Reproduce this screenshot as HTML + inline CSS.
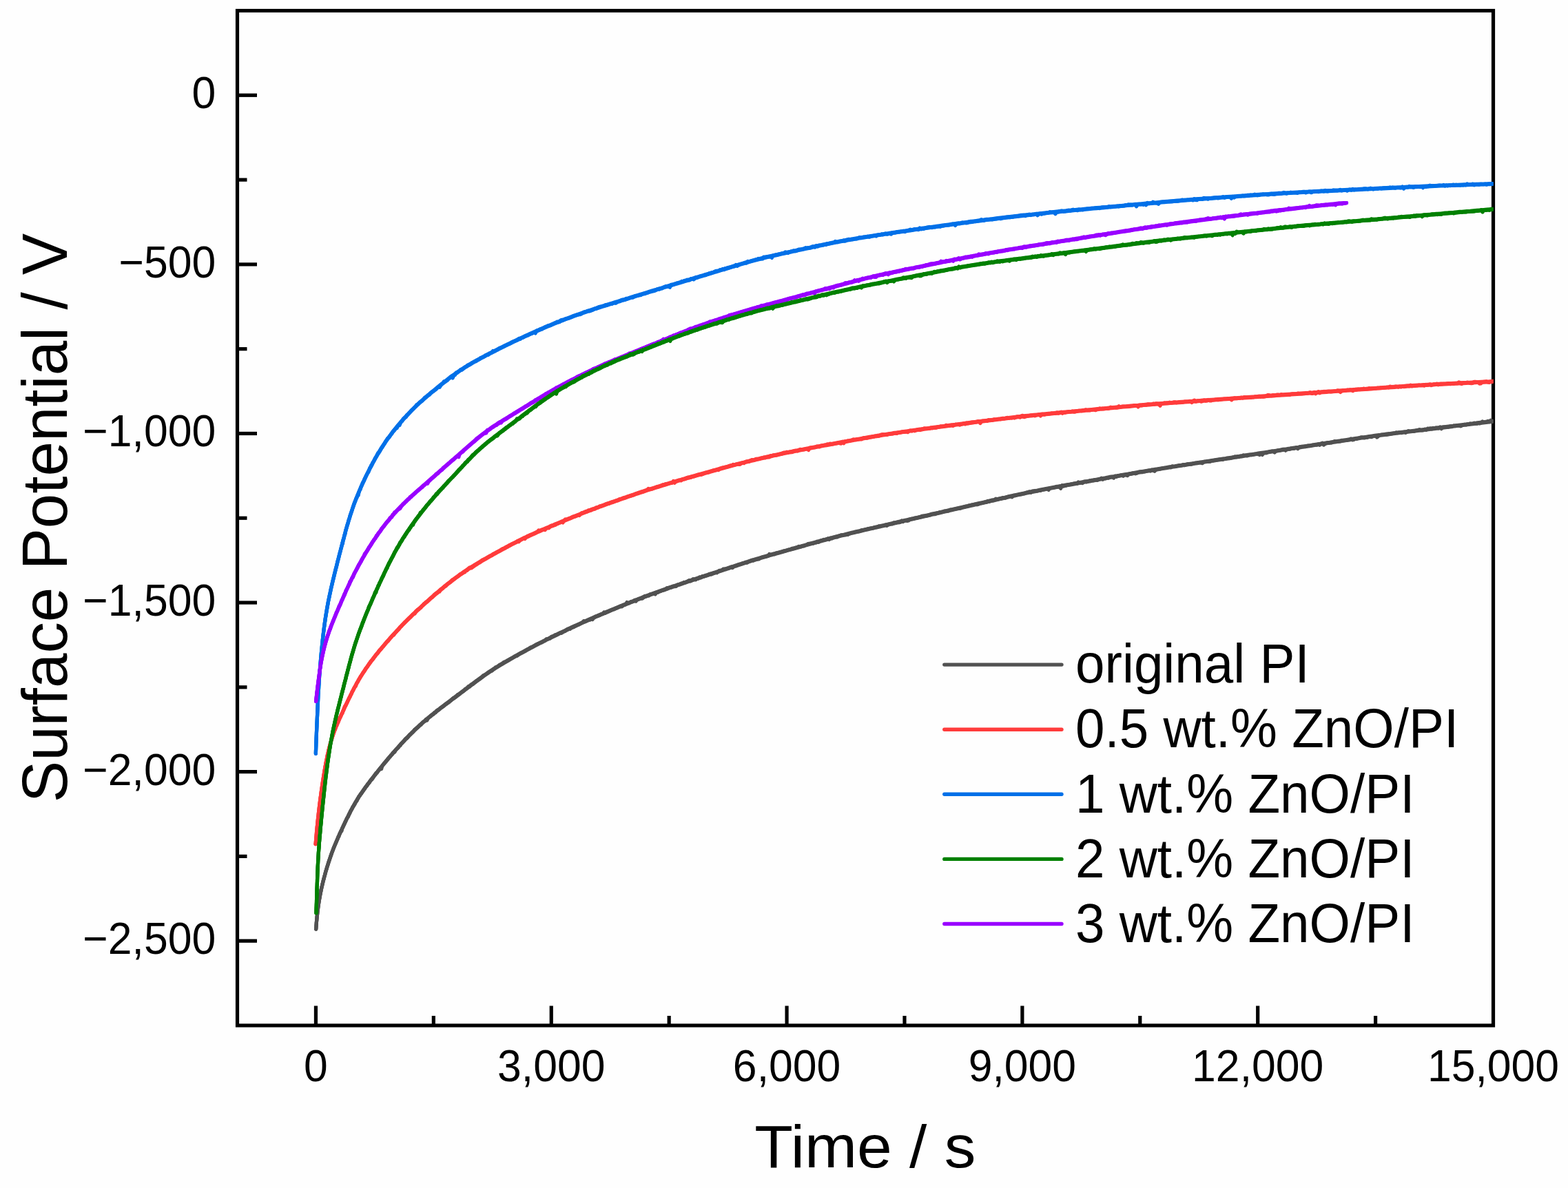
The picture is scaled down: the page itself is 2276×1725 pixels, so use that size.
<!DOCTYPE html>
<html lang="en"><head><meta charset="utf-8"><title>Surface potential decay</title>
<style>
html,body{margin:0;padding:0;background:#fefefe;}
body{width:2276px;height:1725px;overflow:hidden;}
svg{display:block;}
text{font-family:"Liberation Sans",Arial,Helvetica,sans-serif;fill:#000;}
.tk{font-size:62.5px;}
.ax{font-size:91.2px;}
.lg{font-size:76.4px;}
</style></head><body>
<svg xmlns="http://www.w3.org/2000/svg" width="2276" height="1725" viewBox="0 0 2276 1725">
<rect x="0" y="0" width="2276" height="1725" fill="#fefefe"/>
<g stroke="#000" stroke-width="5.2" fill="none" stroke-linecap="butt">
<rect x="344.5" y="15.5" width="1823.0" height="1473.5"/>
<line x1="458.44" y1="1489.0" x2="458.44" y2="1460.5"/>
<line x1="800.25" y1="1489.0" x2="800.25" y2="1460.5"/>
<line x1="1142.06" y1="1489.0" x2="1142.06" y2="1460.5"/>
<line x1="1483.88" y1="1489.0" x2="1483.88" y2="1460.5"/>
<line x1="1825.69" y1="1489.0" x2="1825.69" y2="1460.5"/>
<line x1="629.34" y1="1489.0" x2="629.34" y2="1475.0"/>
<line x1="971.16" y1="1489.0" x2="971.16" y2="1475.0"/>
<line x1="1312.97" y1="1489.0" x2="1312.97" y2="1475.0"/>
<line x1="1654.78" y1="1489.0" x2="1654.78" y2="1475.0"/>
<line x1="1996.59" y1="1489.0" x2="1996.59" y2="1475.0"/>
<line x1="344.5" y1="138.29" x2="373.0" y2="138.29"/>
<line x1="344.5" y1="383.88" x2="373.0" y2="383.88"/>
<line x1="344.5" y1="629.46" x2="373.0" y2="629.46"/>
<line x1="344.5" y1="875.04" x2="373.0" y2="875.04"/>
<line x1="344.5" y1="1120.62" x2="373.0" y2="1120.62"/>
<line x1="344.5" y1="1366.21" x2="373.0" y2="1366.21"/>
<line x1="344.5" y1="261.08" x2="358.5" y2="261.08"/>
<line x1="344.5" y1="506.67" x2="358.5" y2="506.67"/>
<line x1="344.5" y1="752.25" x2="358.5" y2="752.25"/>
<line x1="344.5" y1="997.83" x2="358.5" y2="997.83"/>
<line x1="344.5" y1="1243.42" x2="358.5" y2="1243.42"/>
</g>
<g class="tk">
<text transform="translate(313.2 157.19) scale(1 1.04)" text-anchor="end">0</text>
<text transform="translate(313.2 402.77) scale(1 1.04)" text-anchor="end">−500</text>
<text transform="translate(313.2 648.36) scale(1 1.04)" text-anchor="end">−1,000</text>
<text transform="translate(313.2 893.94) scale(1 1.04)" text-anchor="end">−1,500</text>
<text transform="translate(313.2 1139.53) scale(1 1.04)" text-anchor="end">−2,000</text>
<text transform="translate(313.2 1385.11) scale(1 1.04)" text-anchor="end">−2,500</text>
<text transform="translate(458.44 1570.2) scale(1 1.04)" text-anchor="middle">0</text>
<text transform="translate(800.25 1570.2) scale(1 1.04)" text-anchor="middle">3,000</text>
<text transform="translate(1142.06 1570.2) scale(1 1.04)" text-anchor="middle">6,000</text>
<text transform="translate(1483.88 1570.2) scale(1 1.04)" text-anchor="middle">9,000</text>
<text transform="translate(1825.69 1570.2) scale(1 1.04)" text-anchor="middle">12,000</text>
<text transform="translate(2167.50 1570.2) scale(1 1.04)" text-anchor="middle">15,000</text>
</g>
<text class="ax" transform="translate(96.8 752.0) rotate(-90) scale(0.9945 1.025)" text-anchor="middle">Surface Potential / V</text>
<text class="ax" transform="translate(1255.8 1694.5) scale(1 0.9467)" text-anchor="middle">Time / s</text>
<defs><clipPath id="plot"><rect x="344.5" y="15.5" width="1823.0" height="1473.5"/></clipPath></defs>
<g clip-path="url(#plot)" fill="none" stroke-width="5.2" stroke-linejoin="round" stroke-linecap="round">
<g stroke="#515151">
<path d="M458.7,1349.2 L459.0,1344.3 L459.3,1339.9 L459.7,1335.6 L460.1,1331.3 L460.6,1327.0 L461.0,1322.8 L461.6,1318.6 L462.1,1314.4 L462.7,1310.4 L463.4,1306.3 L464.1,1302.3 L464.8,1298.3 L465.6,1294.4 L466.4,1290.5 L467.3,1286.6 L468.2,1282.8 L469.1,1279.0 L470.1,1275.3 L471.1,1271.6 L472.1,1267.9 L473.1,1264.2 L474.2,1260.5 L475.3,1256.9 L476.4,1253.3 L477.6,1249.8 L478.8,1246.2 L480.0,1242.7 L481.2,1239.3 L482.5,1235.8 L483.8,1232.4 L485.1,1229.0 L486.5,1225.7 L487.9,1222.3 L489.3,1219.0 L490.7,1215.8 L492.1,1212.5 L493.6,1209.2 L495.1,1206.0 L496.6,1202.8 L498.1,1199.6 L499.6,1196.4 L501.1,1193.2 L502.6,1190.0 L504.2,1186.8 L505.8,1183.7 L507.3,1180.5 L508.9,1177.4 L510.6,1174.3 L512.2,1171.3 L513.9,1168.3 L515.6,1165.3 L517.4,1162.3 L519.2,1159.4 L521.0,1156.5 L522.9,1153.7 L524.8,1150.9 L526.8,1148.1 L528.7,1145.3 L530.7,1142.6 L532.7,1139.9 L534.7,1137.2 L536.7,1134.5 L538.8,1131.8 L540.8,1129.2 L542.9,1126.5 L545.0,1123.9 L547.1,1121.3 L549.2,1118.6 L551.3,1116.0 L553.4,1113.4 L555.5,1110.8 L557.6,1108.2 L559.7,1105.7 L561.9,1103.1 L564.0,1100.5 L566.2,1098.0 L568.4,1095.4 L570.5,1092.9 L572.7,1090.4 L574.9,1087.9 L577.2,1085.4 L579.4,1082.9 L581.6,1080.4 L583.9,1078.0 L586.2,1075.5 L588.5,1073.1 L590.8,1070.7 L593.1,1068.3 L595.5,1066.0 L597.8,1063.6 L600.2,1061.3 L602.6,1059.0 L605.0,1056.7 L607.5,1054.4 L610.0,1052.2 L612.4,1049.9 L615.0,1047.7 L617.5,1045.6 L620.0,1043.4 L622.6,1041.2 L625.2,1039.1 L627.8,1037.0 L630.4,1034.9 L633.0,1032.8 L635.7,1030.7 L638.3,1028.7 L641.0,1026.6 L643.7,1024.6 L646.3,1022.6 L649.0,1020.5 L651.7,1018.5 L654.4,1016.5 L657.1,1014.4 L659.8,1012.4 L662.5,1010.4 L665.2,1008.4 L667.9,1006.4 L670.5,1004.3 L673.2,1002.3 L675.9,1000.3 L678.6,998.3 L681.3,996.3 L684.0,994.2 L686.7,992.2 L689.4,990.2 L692.1,988.2 L694.8,986.2 L697.5,984.2 L700.3,982.2 L703.0,980.2 L705.8,978.3 L708.6,976.4 L711.4,974.5 L714.2,972.6 L717.1,970.7 L720.0,968.9 L722.9,967.1 L725.8,965.3 L728.8,963.6 L731.7,961.8 L734.7,960.1 L737.7,958.3 L740.7,956.6 L743.7,954.9 L746.7,953.2 L749.7,951.5 L752.7,949.8 L755.8,948.1 L758.8,946.5 L761.9,944.8 L764.9,943.1 L768.0,941.5 L771.0,939.8 L774.1,938.2 L777.2,936.6 L780.3,935.0 L783.4,933.4 L786.6,931.8 L789.7,930.2 L792.8,928.6 L796.0,927.1 L799.1,925.5 L802.3,923.9 L805.5,922.4 L808.6,920.9 L811.8,919.3 L815.0,917.8 L818.2,916.3 L821.4,914.8 L824.6,913.2 L827.8,911.7 L831.0,910.2 L834.2,908.7 L837.5,907.3 L840.7,905.8 L843.9,904.3 L847.2,902.8 L850.4,901.4 L853.7,899.9 L856.9,898.5 L860.2,897.0 L863.5,895.6 L866.8,894.1 L870.1,892.7 L873.4,891.3 L876.7,889.9 L880.0,888.5 L883.3,887.1 L886.6,885.7 L890.0,884.3 L893.3,882.9 L896.6,881.6 L900.0,880.2 L903.3,878.8 L906.7,877.5 L910.0,876.1 L913.4,874.8 L916.8,873.4 L920.1,872.1 L923.5,870.8 L926.9,869.4 L930.3,868.1 L933.7,866.8 L937.1,865.5 L940.6,864.2 L944.0,863.0 L947.5,861.7 L950.9,860.4 L954.4,859.2 L957.8,857.9 L961.3,856.7 L964.8,855.5 L968.3,854.3 L971.8,853.0 L975.3,851.8 L978.8,850.6 L982.3,849.4 L985.9,848.3 L989.4,847.1 L992.9,845.9 L996.5,844.7 L1000.0,843.5 L1003.5,842.3 L1007.1,841.2 L1010.6,840.0 L1014.2,838.8 L1017.7,837.7 L1021.2,836.5 L1024.8,835.3 L1028.3,834.1 L1031.9,833.0 L1035.4,831.8 L1038.9,830.6 L1042.5,829.4 L1046.0,828.3 L1049.6,827.1 L1053.1,825.9 L1056.6,824.7 L1060.2,823.6 L1063.7,822.4 L1067.3,821.2 L1070.8,820.1 L1074.4,818.9 L1077.9,817.8 L1081.5,816.6 L1085.1,815.5 L1088.7,814.3 L1092.3,813.2 L1095.9,812.1 L1099.5,811.0 L1103.1,809.9 L1106.7,808.8 L1110.4,807.8 L1114.0,806.7 L1117.7,805.6 L1121.4,804.6 L1125.0,803.6 L1128.7,802.5 L1132.4,801.5 L1136.1,800.5 L1139.8,799.4 L1143.4,798.4 L1147.1,797.4 L1150.8,796.3 L1154.5,795.3 L1158.2,794.3 L1161.9,793.3 L1165.5,792.2 L1169.2,791.2 L1172.9,790.2 L1176.6,789.1 L1180.3,788.1 L1184.0,787.1 L1187.7,786.1 L1191.4,785.0 L1195.1,784.0 L1198.8,783.0 L1202.5,782.0 L1206.2,781.0 L1209.9,780.0 L1213.6,779.0 L1217.4,778.1 L1221.1,777.1 L1224.9,776.2 L1228.7,775.2 L1232.5,774.3 L1236.3,773.4 L1240.1,772.5 L1243.9,771.6 L1247.7,770.7 L1251.5,769.8 L1255.4,768.9 L1259.2,768.0 L1263.0,767.1 L1266.9,766.3 L1270.7,765.4 L1274.5,764.5 L1278.3,763.6 L1282.2,762.7 L1286.0,761.8 L1289.8,761.0 L1293.7,760.1 L1297.5,759.2 L1301.3,758.3 L1305.2,757.4 L1309.0,756.5 L1312.8,755.6 L1316.6,754.8 L1320.5,753.9 L1324.3,753.0 L1328.1,752.1 L1332.0,751.2 L1335.8,750.3 L1339.6,749.5 L1343.5,748.6 L1347.3,747.7 L1351.1,746.8 L1354.9,745.9 L1358.8,745.0 L1362.6,744.2 L1366.4,743.3 L1370.3,742.4 L1374.1,741.5 L1377.9,740.6 L1381.8,739.7 L1385.6,738.9 L1389.4,738.0 L1393.3,737.1 L1397.1,736.2 L1400.9,735.3 L1404.8,734.5 L1408.6,733.6 L1412.4,732.7 L1416.3,731.8 L1420.1,730.9 L1423.9,730.1 L1427.8,729.2 L1431.6,728.3 L1435.4,727.4 L1439.3,726.5 L1443.1,725.7 L1447.0,724.8 L1450.8,723.9 L1454.6,723.0 L1458.5,722.2 L1462.3,721.3 L1466.2,720.4 L1470.0,719.6 L1473.9,718.7 L1477.8,717.9 L1481.6,717.0 L1485.5,716.2 L1489.4,715.4 L1493.3,714.6 L1497.2,713.8 L1501.1,713.0 L1505.0,712.2 L1509.0,711.4 L1512.9,710.6 L1516.9,709.8 L1520.8,709.1 L1524.8,708.3 L1528.7,707.6 L1532.7,706.8 L1536.7,706.1 L1540.7,705.4 L1544.7,704.6 L1548.6,703.9 L1552.6,703.2 L1556.6,702.5 L1560.6,701.8 L1564.6,701.0 L1568.6,700.3 L1572.6,699.6 L1576.6,698.9 L1580.6,698.2 L1584.6,697.4 L1588.6,696.7 L1592.6,696.0 L1596.6,695.3 L1600.6,694.6 L1604.6,693.9 L1608.6,693.1 L1612.6,692.4 L1616.6,691.7 L1620.6,691.0 L1624.6,690.3 L1628.6,689.6 L1632.6,688.9 L1636.6,688.2 L1640.6,687.5 L1644.7,686.8 L1648.7,686.1 L1652.7,685.4 L1656.7,684.7 L1660.8,684.0 L1664.8,683.4 L1668.8,682.7 L1672.9,682.0 L1676.9,681.3 L1681.0,680.7 L1685.0,680.0 L1689.1,679.4 L1693.1,678.7 L1697.2,678.1 L1701.3,677.4 L1705.4,676.8 L1709.4,676.1 L1713.5,675.5 L1717.6,674.9 L1721.7,674.2 L1725.8,673.6 L1729.8,673.0 L1733.9,672.4 L1738.0,671.7 L1742.1,671.1 L1746.2,670.5 L1750.3,669.9 L1754.4,669.2 L1758.5,668.6 L1762.5,668.0 L1766.6,667.3 L1770.7,666.7 L1774.8,666.1 L1778.9,665.5 L1783.0,664.8 L1787.1,664.2 L1791.2,663.6 L1795.2,663.0 L1799.3,662.3 L1803.4,661.7 L1807.5,661.1 L1811.6,660.4 L1815.7,659.8 L1819.8,659.2 L1823.9,658.6 L1827.9,657.9 L1832.0,657.3 L1836.1,656.7 L1840.2,656.1 L1844.3,655.4 L1848.4,654.8 L1852.5,654.2 L1856.5,653.6 L1860.6,652.9 L1864.7,652.3 L1868.8,651.7 L1872.9,651.0 L1877.0,650.4 L1881.1,649.8 L1885.2,649.2 L1889.2,648.5 L1893.3,647.9 L1897.4,647.3 L1901.5,646.7 L1905.6,646.0 L1909.7,645.4 L1913.8,644.8 L1917.9,644.1 L1921.9,643.5 L1926.0,642.9 L1930.1,642.3 L1934.2,641.6 L1938.3,641.0 L1942.4,640.4 L1946.5,639.8 L1950.6,639.1 L1954.6,638.5 L1958.7,637.9 L1962.8,637.3 L1966.9,636.6 L1971.0,636.0 L1975.1,635.4 L1979.2,634.8 L1983.3,634.2 L1987.4,633.6 L1991.5,633.0 L1995.7,632.4 L1999.8,631.8 L2004.0,631.3 L2008.2,630.7 L2012.3,630.2 L2016.5,629.7 L2020.7,629.1 L2024.9,628.6 L2029.1,628.1 L2033.3,627.6 L2037.5,627.1 L2041.7,626.6 L2045.9,626.1 L2050.1,625.5 L2054.3,625.0 L2058.5,624.5 L2062.7,624.0 L2066.9,623.5 L2071.1,623.0 L2075.3,622.5 L2079.5,621.9 L2083.7,621.4 L2087.9,620.9 L2092.1,620.4 L2096.3,619.9 L2100.5,619.4 L2104.7,618.9 L2108.9,618.4 L2113.1,617.8 L2117.3,617.3 L2121.5,616.8 L2125.7,616.3 L2129.9,615.8 L2134.1,615.3 L2138.3,614.8 L2142.5,614.2 L2146.7,613.7 L2150.9,613.2 L2155.1,612.7 L2159.3,612.2 L2163.5,611.7 L2167.7,611.2 L2173.7,610.4"/>
<path d="M458.7,1349.2 L459.0,1345.2 L459.3,1340.8 L459.7,1336.5 L460.1,1332.2 L460.6,1327.9 L461.0,1323.7 L461.6,1319.5 L462.1,1315.3 L462.7,1311.3 L463.4,1307.2 L464.1,1303.2 L464.8,1299.2 L465.6,1295.3 L466.4,1291.4 L467.3,1287.5 L468.2,1283.7 L469.1,1279.9 L470.1,1276.2 L471.1,1272.5 L472.1,1268.8 L473.1,1265.1 L474.2,1261.4 L475.3,1257.8 L476.4,1254.2 L477.6,1250.7 L478.8,1247.1 L480.0,1243.6 L481.2,1240.2 L482.5,1236.7 L483.8,1233.3 L485.1,1229.9 L486.5,1226.6 L487.9,1223.2 L489.3,1219.9 L490.7,1216.7 L492.1,1213.4 L493.6,1210.1 L495.1,1206.9 L496.6,1203.7 L498.1,1200.5 L499.6,1197.3 L501.1,1194.1 L502.6,1190.9 L504.2,1187.7 L505.8,1184.6 L507.3,1181.4 L508.9,1178.3 L510.6,1175.2 L512.2,1172.2 L513.9,1169.2 L515.6,1166.2 L517.4,1163.2 L519.2,1160.3 L521.0,1157.4 L522.9,1154.6 L524.8,1151.8 L526.8,1149.0 L528.7,1146.2 L530.7,1143.5 L532.7,1140.8 L534.7,1138.1 L536.7,1135.4 L538.8,1132.7 L540.8,1130.1 L542.9,1127.4 L545.0,1124.8 L547.1,1122.2 L549.2,1119.5 L551.3,1116.9 L553.4,1114.3 L555.5,1111.7 L557.6,1109.1 L559.7,1106.6 L561.9,1104.0 L564.0,1101.4 L566.2,1098.9 L568.4,1096.3 L570.5,1093.8 L572.7,1091.3 L574.9,1088.8 L577.2,1086.3 L579.4,1083.8 L581.6,1081.3 L583.9,1078.9 L586.2,1076.4 L588.5,1074.0 L590.8,1071.6 L593.1,1069.2 L595.5,1066.9 L597.8,1064.5 L600.2,1062.2 L602.6,1059.9 L605.0,1057.6 L607.5,1055.3 L610.0,1053.1 L612.4,1050.8 L615.0,1048.6 L617.5,1046.5 L620.0,1044.3 L622.6,1042.1 L625.2,1040.0 L627.8,1037.9 L630.4,1035.8 L633.0,1033.7 L635.7,1031.6 L638.3,1029.6 L641.0,1027.5 L643.7,1025.5 L646.3,1023.5 L649.0,1021.4 L651.7,1019.4 L654.4,1017.4 L657.1,1015.3 L659.8,1013.3 L662.5,1011.3 L665.2,1009.3 L667.9,1007.3 L670.5,1005.2 L673.2,1003.2 L675.9,1001.2 L678.6,999.2 L681.3,997.2 L684.0,995.1 L686.7,993.1 L689.4,991.1 L692.1,989.1 L694.8,987.1 L697.5,985.1 L700.3,983.1 L703.0,981.1 L705.8,979.2 L708.6,977.3 L711.4,975.4 L714.2,973.5 L717.1,971.6 L720.0,969.8 L722.9,968.0 L725.8,966.2 L728.8,964.5 L731.7,962.7 L734.7,961.0 L737.7,959.2 L740.7,957.5 L743.7,955.8 L746.7,954.1 L749.7,952.4 L752.7,950.7 L755.8,949.0 L758.8,947.4 L761.9,945.7 L764.9,944.0 L768.0,942.4 L771.0,940.7 L774.1,939.1 L777.2,937.5 L780.3,935.9 L783.4,934.3 L786.6,932.7 L789.7,931.1 L792.8,929.5 L796.0,928.0 L799.1,926.4 L802.3,924.8 L805.5,923.3 L808.6,921.8 L811.8,920.2 L815.0,918.7 L818.2,917.2 L821.4,915.7 L824.6,914.1 L827.8,912.6 L831.0,911.1 L834.2,909.6 L837.5,908.2 L840.7,906.7 L843.9,905.2 L847.2,903.7 L850.4,902.3 L853.7,900.8 L856.9,899.4 L860.2,897.9 L863.5,896.5 L866.8,895.0 L870.1,893.6 L873.4,892.2 L876.7,890.8 L880.0,889.4 L883.3,888.0 L886.6,886.6 L890.0,885.2 L893.3,883.8 L896.6,882.5 L900.0,881.1 L903.3,879.7 L906.7,878.4 L910.0,877.0 L913.4,875.7 L916.8,874.3 L920.1,873.0 L923.5,871.7 L926.9,870.3 L930.3,869.0 L933.7,867.7 L937.1,866.4 L940.6,865.1 L944.0,863.9 L947.5,862.6 L950.9,861.3 L954.4,860.1 L957.8,858.8 L961.3,857.6 L964.8,856.4 L968.3,855.2 L971.8,853.9 L975.3,852.7 L978.8,851.5 L982.3,850.3 L985.9,849.2 L989.4,848.0 L992.9,846.8 L996.5,845.6 L1000.0,844.4 L1003.5,843.2 L1007.1,842.1 L1010.6,840.9 L1014.2,839.7 L1017.7,838.6 L1021.2,837.4 L1024.8,836.2 L1028.3,835.0 L1031.9,833.9 L1035.4,832.7 L1038.9,831.5 L1042.5,830.3 L1046.0,829.2 L1049.6,828.0 L1053.1,826.8 L1056.6,825.6 L1060.2,824.5 L1063.7,823.3 L1067.3,822.1 L1070.8,821.0 L1074.4,819.8 L1077.9,818.7 L1081.5,817.5 L1085.1,816.4 L1088.7,815.2 L1092.3,814.1 L1095.9,813.0 L1099.5,811.9 L1103.1,810.8 L1106.7,809.7 L1110.4,808.7 L1114.0,807.6 L1117.7,806.5 L1121.4,805.5 L1125.0,804.5 L1128.7,803.4 L1132.4,802.4 L1136.1,801.4 L1139.8,800.3 L1143.4,799.3 L1147.1,798.3 L1150.8,797.2 L1154.5,796.2 L1158.2,795.2 L1161.9,794.2 L1165.5,793.1 L1169.2,792.1 L1172.9,791.1 L1176.6,790.0 L1180.3,789.0 L1184.0,788.0 L1187.7,787.0 L1191.4,785.9 L1195.1,784.9 L1198.8,783.9 L1202.5,782.9 L1206.2,781.9 L1209.9,780.9 L1213.6,779.9 L1217.4,779.0 L1221.1,778.0 L1224.9,777.1 L1228.7,776.1 L1232.5,775.2 L1236.3,774.3 L1240.1,773.4 L1243.9,772.5 L1247.7,771.6 L1251.5,770.7 L1255.4,769.8 L1259.2,768.9 L1263.0,768.0 L1266.9,767.2 L1270.7,766.3 L1274.5,765.4 L1278.3,764.5 L1282.2,763.6 L1286.0,762.7 L1289.8,761.9 L1293.7,761.0 L1297.5,760.1 L1301.3,759.2 L1305.2,758.3 L1309.0,757.4 L1312.8,756.5 L1316.6,755.7 L1320.5,754.8 L1324.3,753.9 L1328.1,753.0 L1332.0,752.1 L1335.8,751.2 L1339.6,750.4 L1343.5,749.5 L1347.3,748.6 L1351.1,747.7 L1354.9,746.8 L1358.8,745.9 L1362.6,745.1 L1366.4,744.2 L1370.3,743.3 L1374.1,742.4 L1377.9,741.5 L1381.8,740.6 L1385.6,739.8 L1389.4,738.9 L1393.3,738.0 L1397.1,737.1 L1400.9,736.2 L1404.8,735.4 L1408.6,734.5 L1412.4,733.6 L1416.3,732.7 L1420.1,731.8 L1423.9,731.0 L1427.8,730.1 L1431.6,729.2 L1435.4,728.3 L1439.3,727.4 L1443.1,726.6 L1447.0,725.7 L1450.8,724.8 L1454.6,723.9 L1458.5,723.1 L1462.3,722.2 L1466.2,721.3 L1470.0,720.5 L1473.9,719.6 L1477.8,718.8 L1481.6,717.9 L1485.5,717.1 L1489.4,716.3 L1493.3,715.5 L1497.2,714.7 L1501.1,713.9 L1505.0,713.1 L1509.0,712.3 L1512.9,711.5 L1516.9,710.7 L1520.8,710.0 L1524.8,709.2 L1528.7,708.5 L1532.7,707.7 L1536.7,707.0 L1540.7,706.3 L1544.7,705.5 L1548.6,704.8 L1552.6,704.1 L1556.6,703.4 L1560.6,702.7 L1564.6,701.9 L1568.6,701.2 L1572.6,700.5 L1576.6,699.8 L1580.6,699.1 L1584.6,698.3 L1588.6,697.6 L1592.6,696.9 L1596.6,696.2 L1600.6,695.5 L1604.6,694.8 L1608.6,694.0 L1612.6,693.3 L1616.6,692.6 L1620.6,691.9 L1624.6,691.2 L1628.6,690.5 L1632.6,689.8 L1636.6,689.1 L1640.6,688.4 L1644.7,687.7 L1648.7,687.0 L1652.7,686.3 L1656.7,685.6 L1660.8,684.9 L1664.8,684.3 L1668.8,683.6 L1672.9,682.9 L1676.9,682.2 L1681.0,681.6 L1685.0,680.9 L1689.1,680.3 L1693.1,679.6 L1697.2,679.0 L1701.3,678.3 L1705.4,677.7 L1709.4,677.0 L1713.5,676.4 L1717.6,675.8 L1721.7,675.1 L1725.8,674.5 L1729.8,673.9 L1733.9,673.3 L1738.0,672.6 L1742.1,672.0 L1746.2,671.4 L1750.3,670.8 L1754.4,670.1 L1758.5,669.5 L1762.5,668.9 L1766.6,668.2 L1770.7,667.6 L1774.8,667.0 L1778.9,666.4 L1783.0,665.7 L1787.1,665.1 L1791.2,664.5 L1795.2,663.9 L1799.3,663.2 L1803.4,662.6 L1807.5,662.0 L1811.6,661.3 L1815.7,660.7 L1819.8,660.1 L1823.9,659.5 L1827.9,658.8 L1832.0,658.2 L1836.1,657.6 L1840.2,657.0 L1844.3,656.3 L1848.4,655.7 L1852.5,655.1 L1856.5,654.5 L1860.6,653.8 L1864.7,653.2 L1868.8,652.6 L1872.9,651.9 L1877.0,651.3 L1881.1,650.7 L1885.2,650.1 L1889.2,649.4 L1893.3,648.8 L1897.4,648.2 L1901.5,647.6 L1905.6,646.9 L1909.7,646.3 L1913.8,645.7 L1917.9,645.0 L1921.9,644.4 L1926.0,643.8 L1930.1,643.2 L1934.2,642.5 L1938.3,641.9 L1942.4,641.3 L1946.5,640.7 L1950.6,640.0 L1954.6,639.4 L1958.7,638.8 L1962.8,638.2 L1966.9,637.5 L1971.0,636.9 L1975.1,636.3 L1979.2,635.7 L1983.3,635.1 L1987.4,634.5 L1991.5,633.9 L1995.7,633.3 L1999.8,632.7 L2004.0,632.2 L2008.2,631.6 L2012.3,631.1 L2016.5,630.6 L2020.7,630.0 L2024.9,629.5 L2029.1,629.0 L2033.3,628.5 L2037.5,628.0 L2041.7,627.5 L2045.9,627.0 L2050.1,626.4 L2054.3,625.9 L2058.5,625.4 L2062.7,624.9 L2066.9,624.4 L2071.1,623.9 L2075.3,623.4 L2079.5,622.8 L2083.7,622.3 L2087.9,621.8 L2092.1,621.3 L2096.3,620.8 L2100.5,620.3 L2104.7,619.8 L2108.9,619.3 L2113.1,618.7 L2117.3,618.2 L2121.5,617.7 L2125.7,617.2 L2129.9,616.7 L2134.1,616.2 L2138.3,615.7 L2142.5,615.1 L2146.7,614.6 L2150.9,614.1 L2155.1,613.6 L2159.3,613.1 L2163.5,612.6 L2167.7,612.1 L2173.7,611.3"/>
<path d="M458.7,1349.2 L458.8,1347.2 L459.0,1345.2 L459.1,1343.2 L459.3,1341.2 L459.4,1339.2 L459.6,1337.2 L459.8,1335.2 L460.0,1333.2 L460.1,1331.2 L460.4,1329.2 L460.6,1327.2 L460.8,1325.3 L461.0,1323.3 L461.3,1321.2 L461.5,1319.2 L461.8,1317.3 L462.1,1315.3 L462.4,1313.4 L462.7,1311.4 L463.0,1309.4 L463.3,1307.3 L463.6,1305.4 L464.0,1303.4 L464.3,1301.5 L464.7,1299.5 L465.1,1297.6 L465.5,1295.6 L465.9,1293.7 L466.3,1291.6 L466.7,1289.8 L467.1,1287.8 L467.6,1286.0 L468.0,1283.6 L468.5,1282.0 L469.0,1279.8 L469.5,1277.9 L470.0,1276.0 L470.5,1273.9 L471.0,1272.0 L471.6,1270.2 L472.1,1268.2 L472.6,1266.0 L473.2,1264.3 L473.8,1262.5 L474.3,1260.6 L474.9,1258.5 L475.5,1256.8 L476.1,1255.6 L476.7,1253.2 L477.3,1250.8 L478.0,1249.2 L478.6,1247.1 L479.2,1245.6 L479.9,1243.2 L480.6,1241.8 L481.2,1239.3 L481.9,1237.4 L482.6,1235.7 L483.3,1234.1 L484.0,1231.6 L484.8,1230.1 L485.5,1228.5 L486.3,1226.6 L487.0,1225.1 L487.8,1223.2 L488.6,1221.2 L489.4,1219.6 L490.2,1217.8 L491.0,1215.0 L491.8,1214.7 L492.6,1211.9 L493.5,1209.8 L494.3,1208.5 L495.1,1206.2 L496.0,1206.5 L496.8,1202.1 L497.7,1201.3 L498.5,1198.5 L499.4,1197.5 L500.2,1195.4 L501.1,1193.4 L501.9,1192.0 L502.8,1189.8 L503.7,1187.9 L504.6,1186.7 L505.5,1185.8 L506.4,1182.4 L507.3,1181.8 L508.2,1179.9 L509.1,1176.9 L510.0,1175.9 L511.0,1174.3 L511.9,1171.8 L512.9,1171.1 L513.9,1169.2 L514.9,1168.0 L515.9,1165.5 L516.9,1164.1 L518.0,1162.9 L519.0,1160.3 L520.1,1158.2 L521.2,1156.0 L522.3,1155.3 L523.4,1152.7 L524.5,1152.4 L525.7,1150.2 L526.8,1148.9 L528.0,1146.9 L529.1,1145.9 L530.3,1143.3 L531.5,1142.0 L532.7,1141.1 L533.9,1138.1 L535.1,1137.3 L536.3,1136.1 L537.5,1133.4 L538.7,1132.0 L539.9,1131.7 L541.2,1129.9 L542.4,1127.5 L543.6,1125.9 L544.9,1123.7 L546.1,1122.3 L547.4,1121.9 L548.6,1119.7 L549.9,1118.0 L551.1,1117.1 L552.4,1114.6 L553.6,1116.6 L554.9,1111.8 L556.2,1110.1 L557.4,1108.7 L558.7,1107.4 L560.0,1106.2 L561.3,1103.9 L562.6,1102.3 L563.9,1101.2 L565.1,1099.8 L566.4,1098.6 L567.7,1096.3 L569.1,1095.6 L570.4,1093.0 L571.7,1092.8 L573.0,1091.9 L574.3,1089.0 L575.6,1087.6 L577.0,1086.6 L578.3,1085.3 L579.7,1083.1 L581.0,1082.6 L582.4,1079.6 L583.7,1078.8 L585.1,1077.0 L586.5,1076.0 L587.8,1073.7 L589.2,1072.2 L590.6,1072.1 L592.0,1070.5 L593.4,1068.8 L594.8,1066.7 L596.2,1066.0 L597.7,1064.5 L599.1,1063.5 L600.5,1061.6 L602.0,1059.1 L603.4,1058.5 L604.9,1057.3 L606.3,1056.4 L607.8,1054.4 L609.3,1052.6 L610.8,1052.5 L612.3,1050.7 L613.8,1048.6 L615.3,1047.5 L616.8,1047.1 L618.3,1044.5 L619.9,1046.0 L621.4,1042.7 L622.9,1041.3 L624.5,1040.6 L626.0,1038.6 L627.6,1037.6 L629.2,1037.3 L630.7,1034.6 L632.3,1034.9 L633.9,1031.7 L635.4,1030.9 L637.0,1030.6 L638.6,1028.6 L640.2,1027.5 L641.8,1026.9 L643.4,1025.8 L645.0,1024.3 L646.6,1022.5 L648.2,1022.0 L649.8,1020.5 L651.4,1019.9 L653.0,1018.2 L654.6,1016.4 L656.2,1015.5 L657.8,1013.5 L659.4,1013.5 L661.0,1012.2 L662.6,1010.8 L664.2,1008.8 L665.8,1008.2 L667.4,1007.5 L669.0,1005.9 L670.6,1004.8 L672.2,1004.2 L673.8,1002.7 L675.4,1000.3 L677.0,1000.2 L678.6,998.2 L680.2,996.3 L681.8,997.0 L683.4,994.3 L685.0,993.8 L686.6,993.4 L688.2,991.9 L689.8,990.3 L691.4,988.7 L693.0,988.1 L694.6,986.7 L696.3,986.0 L697.9,984.6 L699.5,983.6 L701.1,981.2 L702.8,980.4 L704.4,979.8 L706.0,978.8 L707.7,977.1 L709.3,975.9 L711.0,975.2 L712.7,974.1 L714.3,974.1 L716.0,971.7 L717.7,971.1 L719.4,968.8 L721.1,968.6 L722.8,967.4 L724.5,965.9 L726.2,965.0 L727.9,964.1 L729.7,963.0 L731.4,961.4 L733.1,961.3 L734.9,960.4 L736.6,959.3 L738.3,958.9 L740.1,957.3 L741.8,956.5 L743.5,955.4 L745.3,954.5 L747.0,952.9 L748.8,952.3 L750.5,952.5 L752.3,950.7 L754.0,949.5 L755.8,948.3 L757.5,947.8 L759.3,946.7 L761.1,945.8 L762.8,945.2 L764.6,943.9 L766.3,942.8 L768.1,941.5 L769.9,940.2 L771.6,940.2 L773.4,939.2 L775.2,937.8 L776.9,936.9 L778.7,935.7 L780.5,934.8 L782.3,934.2 L784.1,933.5 L785.9,933.1 L787.6,932.0 L789.4,930.5 L791.2,930.3 L793.0,927.9 L794.8,927.9 L796.6,927.5 L798.4,927.1 L800.2,924.5 L802.0,923.9 L803.8,923.4 L805.6,921.9 L807.4,921.9 L809.2,921.2 L811.0,920.0 L812.8,918.8 L814.6,919.5 L816.4,918.4 L818.2,916.9 L820.0,916.7 L821.9,914.6 L823.7,913.4 L825.5,913.4 L827.3,913.4 L829.1,911.4 L830.9,911.1 L832.7,910.6 L834.6,909.1 L836.4,908.7 L838.2,907.0 L840.0,907.2 L841.8,905.9 L843.7,904.9 L845.5,903.7 L847.3,901.6 L849.1,902.6 L851.0,901.6 L852.8,900.7 L854.6,899.7 L856.5,900.1 L858.3,898.3 L860.1,899.6 L862.0,896.7 L863.8,895.3 L865.6,894.8 L867.5,894.1 L869.3,893.7 L871.2,893.0 L873.0,891.5 L874.8,891.7 L876.7,889.0 L878.5,890.4 L880.4,889.1 L882.2,888.5 L884.1,887.3 L885.9,886.7 L887.8,885.9 L889.6,884.7 L891.5,884.8 L893.3,883.6 L895.2,882.8 L897.0,881.5 L898.9,881.1 L900.7,879.9 L902.6,880.9 L904.4,879.1 L906.3,878.4 L908.2,877.8 L910.0,874.6 L911.9,875.8 L913.7,875.7 L915.6,873.7 L917.5,873.8 L919.3,873.2 L921.2,871.4 L923.0,873.1 L924.9,870.7 L926.8,869.9 L928.7,869.3 L930.5,869.2 L932.4,869.2 L934.3,866.8 L936.1,865.4 L938.0,866.0 L939.9,865.1 L941.8,865.0 L943.6,862.8 L945.5,862.7 L947.4,862.2 L949.3,861.4 L951.2,862.9 L953.1,859.8 L954.9,860.4 L956.8,858.6 L958.7,858.7 L960.6,857.4 L962.5,857.1 L964.4,856.7 L966.3,855.7 L968.2,853.6 L970.1,853.5 L972.0,853.1 L973.8,853.1 L975.7,851.7 L977.6,851.0 L979.5,851.6 L981.4,851.4 L983.3,849.0 L985.2,848.8 L987.1,848.3 L989.0,847.0 L990.9,846.7 L992.8,845.4 L994.7,845.9 L996.6,844.9 L998.5,843.7 L1000.4,842.6 L1002.3,843.9 L1004.2,842.6 L1006.1,840.7 L1008.0,841.3 L1009.9,841.9 L1011.8,840.0 L1013.7,840.1 L1015.6,838.0 L1017.5,838.8 L1019.4,836.7 L1021.4,837.2 L1023.3,836.0 L1025.2,835.8 L1027.1,835.4 L1029.0,833.9 L1030.9,833.0 L1032.8,834.1 L1034.7,832.9 L1036.6,832.2 L1038.5,831.3 L1040.4,831.8 L1042.3,830.4 L1044.2,828.3 L1046.1,828.7 L1048.0,828.1 L1049.9,826.1 L1051.8,826.0 L1053.7,826.7 L1055.6,825.3 L1057.5,825.6 L1059.4,824.0 L1061.3,822.9 L1063.2,824.5 L1065.1,822.8 L1067.0,821.6 L1068.9,821.8 L1070.8,820.5 L1072.7,819.4 L1074.6,819.7 L1076.5,818.8 L1078.4,817.6 L1080.3,817.5 L1082.2,816.5 L1084.2,817.2 L1086.1,816.0 L1088.0,814.9 L1089.9,814.0 L1091.8,813.2 L1093.7,814.1 L1095.6,812.5 L1097.5,812.6 L1099.5,811.9 L1101.4,812.0 L1103.3,810.4 L1105.2,809.6 L1107.1,809.1 L1109.1,808.3 L1111.0,808.4 L1112.9,807.9 L1114.8,807.5 L1116.8,804.5 L1118.7,805.4 L1120.6,804.9 L1122.5,804.3 L1124.5,804.8 L1126.4,803.3 L1128.3,802.6 L1130.3,802.7 L1132.2,801.7 L1134.1,801.5 L1136.1,800.5 L1138.0,799.9 L1139.9,800.2 L1141.8,799.3 L1143.8,798.4 L1145.7,798.2 L1147.6,797.8 L1149.6,796.4 L1151.5,796.8 L1153.4,796.4 L1155.4,795.2 L1157.3,795.1 L1159.2,793.4 L1161.1,793.6 L1163.1,793.7 L1165.0,792.6 L1166.9,792.9 L1168.9,791.8 L1170.8,791.3 L1172.7,789.6 L1174.6,789.3 L1176.6,789.4 L1178.5,789.0 L1180.4,789.1 L1182.4,788.0 L1184.3,788.0 L1186.2,786.2 L1188.2,787.4 L1190.1,785.5 L1192.0,784.8 L1194.0,784.1 L1195.9,783.4 L1197.8,783.9 L1199.8,782.8 L1201.7,782.0 L1203.6,783.5 L1205.6,781.2 L1207.5,781.9 L1209.4,780.4 L1211.4,780.2 L1213.3,779.3 L1215.2,779.9 L1217.2,778.3 L1219.1,777.9 L1221.1,776.9 L1223.0,777.2 L1225.0,776.7 L1226.9,776.9 L1228.8,776.4 L1230.8,776.4 L1232.7,775.0 L1234.7,774.5 L1236.6,773.6 L1238.6,773.5 L1240.5,772.4 L1242.5,772.3 L1244.4,771.9 L1246.4,771.8 L1248.3,771.5 L1250.3,769.9 L1252.2,769.6 L1254.2,769.5 L1256.1,769.0 L1258.1,768.5 L1260.1,767.5 L1262.0,767.8 L1264.0,767.1 L1265.9,767.0 L1267.9,766.6 L1269.8,765.5 L1271.8,765.8 L1273.7,765.4 L1275.7,763.8 L1277.6,764.6 L1279.6,763.5 L1281.5,763.4 L1283.5,762.9 L1285.4,762.2 L1287.4,763.4 L1289.3,761.5 L1291.3,760.8 L1293.2,760.5 L1295.2,760.9 L1297.1,758.9 L1299.1,758.9 L1301.1,759.2 L1303.0,758.0 L1305.0,758.8 L1306.9,758.3 L1308.9,756.1 L1310.8,757.6 L1312.8,755.9 L1314.7,755.5 L1316.7,756.4 L1318.6,756.0 L1320.6,754.2 L1322.5,753.4 L1324.5,753.4 L1326.4,753.5 L1328.4,752.1 L1330.3,752.3 L1332.3,751.7 L1334.2,751.1 L1336.2,751.2 L1338.1,749.4 L1340.1,749.1 L1342.1,749.0 L1344.0,749.4 L1346.0,748.8 L1347.9,747.9 L1349.9,747.9 L1351.8,746.4 L1353.8,746.3 L1355.7,746.6 L1357.7,746.6 L1359.6,745.0 L1361.6,744.8 L1363.5,743.9 L1365.5,743.6 L1367.4,743.6 L1369.4,743.3 L1371.3,742.0 L1373.3,742.0 L1375.2,742.1 L1377.2,741.9 L1379.2,740.1 L1381.1,740.1 L1383.1,739.8 L1385.0,739.3 L1387.0,739.1 L1388.9,738.3 L1390.9,738.2 L1392.8,738.4 L1394.8,737.9 L1396.7,736.5 L1398.7,736.2 L1400.6,736.2 L1402.6,735.2 L1404.5,734.7 L1406.5,734.0 L1408.4,733.8 L1410.4,733.1 L1412.4,732.7 L1414.3,732.4 L1416.3,732.2 L1418.2,732.8 L1420.2,732.3 L1422.1,731.1 L1424.1,730.7 L1426.0,730.4 L1428.0,729.6 L1429.9,729.0 L1431.9,729.5 L1433.8,727.5 L1435.8,728.5 L1437.7,726.9 L1439.7,726.0 L1441.6,726.8 L1443.6,725.5 L1445.6,724.1 L1447.5,725.3 L1449.5,724.9 L1451.4,724.2 L1453.4,724.2 L1455.3,722.7 L1457.3,722.9 L1459.2,723.2 L1461.2,722.1 L1463.1,721.5 L1465.1,720.7 L1467.1,720.6 L1469.0,721.8 L1471.0,719.4 L1472.9,719.1 L1474.9,718.7 L1476.8,718.5 L1478.8,718.4 L1480.8,717.8 L1482.7,717.7 L1484.7,716.7 L1486.6,716.7 L1488.6,716.0 L1490.6,715.1 L1492.5,714.5 L1494.5,713.8 L1496.4,715.3 L1498.4,713.1 L1500.4,712.9 L1502.3,712.4 L1504.3,712.9 L1506.3,712.8 L1508.2,712.0 L1510.2,712.5 L1512.2,711.3 L1514.1,710.9 L1516.1,710.6 L1518.1,709.8 L1520.0,709.6 L1522.0,711.4 L1524.0,708.5 L1525.9,708.5 L1527.9,708.3 L1529.9,707.9 L1531.8,707.4 L1533.8,706.4 L1535.8,707.1 L1537.7,706.3 L1539.7,709.3 L1541.7,704.8 L1543.7,706.1 L1545.6,705.5 L1547.6,705.1 L1549.6,703.9 L1551.5,703.7 L1553.5,703.5 L1555.5,702.8 L1557.5,702.6 L1559.4,702.0 L1561.4,701.6 L1563.4,702.3 L1565.3,700.0 L1567.3,701.2 L1569.3,700.9 L1571.3,701.6 L1573.2,699.4 L1575.2,699.1 L1577.2,700.0 L1579.2,699.1 L1581.1,697.9 L1583.1,698.6 L1585.1,697.6 L1587.0,697.9 L1589.0,696.5 L1591.0,697.1 L1593.0,697.5 L1594.9,695.6 L1596.9,695.5 L1598.9,694.2 L1600.8,696.3 L1602.8,694.7 L1604.8,694.8 L1606.8,693.3 L1608.7,694.2 L1610.7,692.4 L1612.7,692.4 L1614.7,692.3 L1616.6,694.1 L1618.6,691.1 L1620.6,692.3 L1622.5,690.7 L1624.5,690.9 L1626.5,690.1 L1628.5,689.6 L1630.4,691.2 L1632.4,689.6 L1634.4,689.8 L1636.4,690.7 L1638.3,688.6 L1640.3,687.5 L1642.3,688.1 L1644.3,686.8 L1646.2,686.9 L1648.2,687.8 L1650.2,687.3 L1652.2,685.7 L1654.1,685.1 L1656.1,684.7 L1658.1,685.7 L1660.1,684.7 L1662.0,684.8 L1664.0,684.2 L1666.0,683.8 L1668.0,683.0 L1669.9,684.0 L1671.9,682.1 L1673.9,683.2 L1675.9,684.3 L1677.8,682.2 L1679.8,681.6 L1681.8,680.5 L1683.8,681.1 L1685.8,680.4 L1687.7,679.8 L1689.7,679.7 L1691.7,679.5 L1693.7,678.9 L1695.6,678.3 L1697.6,678.2 L1699.6,678.8 L1701.6,676.9 L1703.6,677.5 L1705.5,677.3 L1707.5,677.1 L1709.5,676.4 L1711.5,675.7 L1713.5,675.8 L1715.4,675.7 L1717.4,674.6 L1719.4,675.6 L1721.4,674.7 L1723.4,673.8 L1725.3,673.6 L1727.3,674.1 L1729.3,674.1 L1731.3,673.3 L1733.3,672.8 L1735.3,672.3 L1737.2,672.0 L1739.2,671.5 L1741.2,671.6 L1743.2,672.0 L1745.2,672.7 L1747.1,670.5 L1749.1,670.2 L1751.1,670.5 L1753.1,670.1 L1755.1,670.5 L1757.0,670.1 L1759.0,668.7 L1761.0,669.0 L1763.0,668.0 L1765.0,668.0 L1766.9,667.9 L1768.9,667.3 L1770.9,666.9 L1772.9,667.1 L1774.9,667.4 L1776.8,666.5 L1778.8,666.5 L1780.8,665.4 L1782.8,665.6 L1784.8,665.6 L1786.7,665.2 L1788.7,664.6 L1790.7,663.6 L1792.7,662.8 L1794.7,663.6 L1796.6,662.5 L1798.6,663.5 L1800.6,662.0 L1802.6,662.7 L1804.6,660.8 L1806.6,661.2 L1808.5,661.4 L1810.5,661.9 L1812.5,661.0 L1814.5,660.3 L1816.5,660.7 L1818.4,660.3 L1820.4,659.6 L1822.4,659.4 L1824.4,659.4 L1826.4,659.6 L1828.3,660.5 L1830.3,658.4 L1832.3,660.4 L1834.3,658.0 L1836.3,657.4 L1838.2,657.9 L1840.2,656.5 L1842.2,656.3 L1844.2,656.0 L1846.2,655.1 L1848.1,655.3 L1850.1,657.0 L1852.1,654.8 L1854.1,654.1 L1856.1,653.8 L1858.0,654.1 L1860.0,653.5 L1862.0,652.4 L1864.0,652.3 L1866.0,654.2 L1868.0,652.2 L1869.9,651.3 L1871.9,652.3 L1873.9,650.9 L1875.9,651.3 L1877.9,651.5 L1879.8,650.4 L1881.8,649.7 L1883.8,651.6 L1885.8,649.1 L1887.8,648.6 L1889.7,648.3 L1891.7,648.6 L1893.7,648.6 L1895.7,648.6 L1897.7,647.4 L1899.6,647.1 L1901.6,647.0 L1903.6,647.0 L1905.6,646.1 L1907.6,646.3 L1909.5,645.8 L1911.5,646.1 L1913.5,644.7 L1915.5,646.2 L1917.5,644.2 L1919.4,643.2 L1921.4,646.1 L1923.4,644.5 L1925.4,643.2 L1927.4,642.7 L1929.4,643.3 L1931.3,642.8 L1933.3,642.8 L1935.3,641.6 L1937.3,640.6 L1939.3,641.0 L1941.2,641.0 L1943.2,641.3 L1945.2,641.0 L1947.2,639.3 L1949.2,639.9 L1951.1,639.6 L1953.1,639.5 L1955.1,639.5 L1957.1,638.8 L1959.1,638.7 L1961.0,637.0 L1963.0,638.9 L1965.0,638.5 L1967.0,637.4 L1969.0,637.5 L1970.9,636.5 L1972.9,636.1 L1974.9,635.1 L1976.9,634.9 L1978.9,635.7 L1980.9,635.8 L1982.8,635.0 L1984.8,635.3 L1986.8,634.0 L1988.8,634.1 L1990.8,634.7 L1992.8,633.3 L1994.7,633.3 L1996.7,632.9 L1998.7,635.1 L2000.7,633.4 L2002.7,631.5 L2004.7,631.3 L2006.7,631.1 L2008.6,631.2 L2010.6,630.6 L2012.6,631.2 L2014.6,630.7 L2016.6,630.0 L2018.6,630.0 L2020.6,629.8 L2022.6,629.1 L2024.5,629.1 L2026.5,627.9 L2028.5,628.7 L2030.5,627.9 L2032.5,628.3 L2034.5,628.6 L2036.5,627.9 L2038.5,627.2 L2040.5,628.4 L2042.4,626.6 L2044.4,625.7 L2046.4,626.5 L2048.4,626.5 L2050.4,626.2 L2052.4,626.3 L2054.4,625.5 L2056.4,624.8 L2058.4,624.3 L2060.3,623.6 L2062.3,624.7 L2064.3,625.0 L2066.3,624.6 L2068.3,623.2 L2070.3,624.4 L2072.3,622.1 L2074.3,622.3 L2076.3,621.8 L2078.2,623.0 L2080.2,621.4 L2082.2,622.1 L2084.2,621.1 L2086.2,621.3 L2088.2,621.9 L2090.2,620.1 L2092.2,622.7 L2094.2,620.3 L2096.1,620.0 L2098.1,620.5 L2100.1,619.5 L2102.1,620.2 L2104.1,619.3 L2106.1,618.7 L2108.1,618.9 L2110.1,618.0 L2112.1,618.6 L2114.0,617.9 L2116.0,617.8 L2118.0,618.3 L2120.0,618.8 L2122.0,617.8 L2124.0,616.8 L2126.0,616.4 L2128.0,617.0 L2130.0,615.9 L2131.9,616.2 L2133.9,614.9 L2135.9,615.4 L2137.9,615.1 L2139.9,614.2 L2141.9,615.2 L2143.9,615.1 L2145.9,614.0 L2147.9,614.9 L2149.8,614.0 L2151.8,612.0 L2153.8,613.4 L2155.8,612.9 L2157.8,612.7 L2159.8,611.3 L2161.8,612.5 L2163.8,610.2 L2165.8,612.1 L2167.7,612.0 L2169.7,611.7 L2171.7,612.2 L2173.7,610.9"/>
</g>
<g stroke="#ff3b3b">
<path d="M458.1,1225.7 L458.5,1221.0 L458.8,1216.8 L459.2,1212.6 L459.5,1208.3 L459.9,1204.1 L460.3,1200.0 L460.8,1195.8 L461.2,1191.6 L461.6,1187.5 L462.1,1183.3 L462.5,1179.2 L463.0,1175.1 L463.5,1171.0 L464.0,1166.9 L464.5,1162.8 L465.0,1158.8 L465.6,1154.7 L466.1,1150.7 L466.7,1146.7 L467.3,1142.7 L467.9,1138.7 L468.5,1134.7 L469.1,1130.7 L469.7,1126.8 L470.4,1122.8 L471.0,1118.9 L471.7,1115.0 L472.4,1111.1 L473.1,1107.2 L473.9,1103.4 L474.7,1099.6 L475.4,1095.8 L476.3,1092.0 L477.1,1088.3 L478.1,1084.6 L479.0,1081.0 L480.0,1077.4 L481.1,1073.9 L482.2,1070.4 L483.3,1066.9 L484.5,1063.5 L485.7,1060.2 L487.0,1056.9 L488.3,1053.6 L489.7,1050.4 L491.1,1047.2 L492.5,1044.0 L493.9,1040.8 L495.3,1037.7 L496.8,1034.5 L498.2,1031.4 L499.7,1028.3 L501.1,1025.1 L502.6,1022.0 L504.1,1018.9 L505.6,1015.8 L507.1,1012.7 L508.6,1009.6 L510.1,1006.6 L511.6,1003.5 L513.2,1000.5 L514.8,997.5 L516.4,994.5 L518.0,991.5 L519.7,988.6 L521.3,985.7 L523.1,982.8 L524.8,980.0 L526.6,977.1 L528.4,974.4 L530.2,971.6 L532.1,968.9 L534.0,966.2 L535.9,963.5 L537.8,960.9 L539.8,958.3 L541.8,955.7 L543.8,953.1 L545.8,950.5 L547.9,948.0 L549.9,945.4 L552.0,942.9 L554.1,940.4 L556.2,937.9 L558.3,935.5 L560.4,933.0 L562.6,930.5 L564.7,928.1 L566.8,925.7 L569.0,923.2 L571.2,920.8 L573.4,918.4 L575.6,916.0 L577.8,913.7 L580.0,911.3 L582.2,908.9 L584.5,906.6 L586.8,904.3 L589.0,902.0 L591.3,899.7 L593.6,897.4 L596.0,895.1 L598.3,892.9 L600.7,890.6 L603.0,888.4 L605.4,886.2 L607.8,884.0 L610.2,881.8 L612.5,879.6 L615.0,877.4 L617.4,875.2 L619.8,873.1 L622.2,870.9 L624.7,868.8 L627.1,866.6 L629.6,864.5 L632.0,862.4 L634.5,860.3 L637.0,858.1 L639.5,856.0 L642.0,854.0 L644.5,851.9 L647.0,849.8 L649.5,847.8 L652.1,845.7 L654.7,843.7 L657.3,841.7 L659.9,839.7 L662.5,837.8 L665.2,835.9 L667.8,833.9 L670.5,832.1 L673.2,830.2 L676.0,828.3 L678.7,826.5 L681.5,824.7 L684.3,822.9 L687.2,821.2 L690.0,819.4 L692.9,817.7 L695.8,816.0 L698.7,814.3 L701.6,812.6 L704.5,811.0 L707.4,809.3 L710.3,807.6 L713.3,806.0 L716.2,804.3 L719.2,802.7 L722.1,801.1 L725.1,799.5 L728.1,797.8 L731.0,796.2 L734.0,794.6 L737.0,793.0 L740.0,791.4 L743.0,789.8 L746.0,788.3 L749.1,786.7 L752.1,785.2 L755.2,783.6 L758.3,782.1 L761.3,780.6 L764.5,779.2 L767.6,777.7 L770.7,776.2 L773.9,774.8 L777.0,773.4 L780.2,772.0 L783.4,770.6 L786.6,769.2 L789.8,767.8 L793.0,766.4 L796.3,765.1 L799.5,763.7 L802.7,762.4 L805.9,761.0 L809.2,759.7 L812.4,758.3 L815.6,756.9 L818.9,755.6 L822.1,754.3 L825.4,752.9 L828.6,751.6 L831.9,750.2 L835.1,748.9 L838.4,747.6 L841.7,746.3 L844.9,745.0 L848.2,743.7 L851.5,742.4 L854.8,741.1 L858.2,739.8 L861.5,738.6 L864.8,737.3 L868.2,736.1 L871.5,734.8 L874.9,733.6 L878.3,732.4 L881.6,731.2 L885.0,730.0 L888.4,728.8 L891.8,727.6 L895.2,726.4 L898.6,725.2 L902.0,724.0 L905.4,722.8 L908.8,721.6 L912.2,720.4 L915.6,719.3 L919.0,718.1 L922.4,716.9 L925.9,715.8 L929.3,714.6 L932.8,713.5 L936.2,712.3 L939.7,711.2 L943.1,710.1 L946.6,709.0 L950.1,707.9 L953.6,706.8 L957.1,705.7 L960.6,704.6 L964.1,703.5 L967.6,702.5 L971.2,701.4 L974.7,700.4 L978.2,699.3 L981.8,698.3 L985.3,697.2 L988.9,696.2 L992.4,695.2 L996.0,694.1 L999.6,693.1 L1003.1,692.1 L1006.7,691.1 L1010.3,690.1 L1013.9,689.1 L1017.4,688.0 L1021.0,687.0 L1024.6,686.0 L1028.2,685.0 L1031.8,684.0 L1035.3,683.0 L1038.9,682.0 L1042.5,681.0 L1046.1,680.0 L1049.7,679.0 L1053.3,678.0 L1056.9,677.1 L1060.5,676.1 L1064.2,675.1 L1067.8,674.2 L1071.4,673.2 L1075.1,672.3 L1078.7,671.4 L1082.4,670.4 L1086.1,669.5 L1089.8,668.6 L1093.5,667.7 L1097.2,666.8 L1100.9,666.0 L1104.6,665.1 L1108.3,664.2 L1112.1,663.4 L1115.8,662.5 L1119.6,661.7 L1123.3,660.9 L1127.1,660.1 L1130.9,659.2 L1134.7,658.4 L1138.4,657.6 L1142.2,656.9 L1146.0,656.1 L1149.9,655.3 L1153.7,654.5 L1157.5,653.8 L1161.3,653.0 L1165.2,652.3 L1169.0,651.5 L1172.9,650.8 L1176.7,650.0 L1180.6,649.3 L1184.4,648.6 L1188.3,647.9 L1192.2,647.1 L1196.0,646.4 L1199.9,645.7 L1203.8,645.0 L1207.6,644.3 L1211.5,643.5 L1215.4,642.8 L1219.3,642.1 L1223.1,641.4 L1227.0,640.7 L1230.9,640.0 L1234.8,639.3 L1238.7,638.6 L1242.5,637.9 L1246.4,637.2 L1250.3,636.5 L1254.2,635.8 L1258.1,635.1 L1262.0,634.4 L1265.9,633.7 L1269.9,633.1 L1273.8,632.4 L1277.7,631.8 L1281.7,631.1 L1285.6,630.5 L1289.6,629.9 L1293.6,629.2 L1297.6,628.6 L1301.5,628.0 L1305.5,627.5 L1309.5,626.9 L1313.5,626.3 L1317.6,625.7 L1321.6,625.1 L1325.6,624.6 L1329.6,624.0 L1333.6,623.4 L1337.7,622.9 L1341.7,622.3 L1345.8,621.8 L1349.8,621.2 L1353.8,620.7 L1357.9,620.1 L1361.9,619.6 L1366.0,619.0 L1370.0,618.5 L1374.1,618.0 L1378.1,617.4 L1382.1,616.9 L1386.2,616.4 L1390.3,615.8 L1394.3,615.3 L1398.4,614.7 L1402.4,614.2 L1406.5,613.7 L1410.5,613.2 L1414.6,612.6 L1418.6,612.1 L1422.7,611.6 L1426.8,611.0 L1430.8,610.5 L1434.9,610.0 L1439.0,609.5 L1443.0,609.0 L1447.1,608.5 L1451.2,608.0 L1455.3,607.4 L1459.4,607.0 L1463.5,606.5 L1467.6,606.0 L1471.7,605.5 L1475.8,605.1 L1480.0,604.6 L1484.1,604.2 L1488.3,603.7 L1492.4,603.3 L1496.6,602.9 L1500.8,602.4 L1504.9,602.0 L1509.1,601.6 L1513.3,601.2 L1517.5,600.8 L1521.7,600.4 L1525.9,600.0 L1530.1,599.6 L1534.3,599.2 L1538.4,598.8 L1542.6,598.4 L1546.8,598.0 L1551.0,597.6 L1555.2,597.3 L1559.4,596.9 L1563.6,596.5 L1567.8,596.1 L1572.0,595.7 L1576.2,595.3 L1580.4,594.9 L1584.5,594.5 L1588.7,594.1 L1592.9,593.7 L1597.1,593.3 L1601.3,592.9 L1605.5,592.5 L1609.7,592.1 L1613.9,591.7 L1618.1,591.3 L1622.3,590.9 L1626.5,590.5 L1630.7,590.1 L1634.9,589.8 L1639.1,589.4 L1643.3,589.0 L1647.5,588.6 L1651.8,588.3 L1656.0,587.9 L1660.2,587.6 L1664.5,587.2 L1668.7,586.9 L1673.0,586.6 L1677.2,586.2 L1681.5,585.9 L1685.8,585.6 L1690.0,585.3 L1694.3,584.9 L1698.6,584.6 L1702.9,584.3 L1707.1,584.0 L1711.4,583.7 L1715.7,583.4 L1720.0,583.1 L1724.3,582.8 L1728.5,582.5 L1732.8,582.2 L1737.1,581.9 L1741.4,581.5 L1745.7,581.2 L1749.9,580.9 L1754.2,580.6 L1758.5,580.3 L1762.8,580.0 L1767.1,579.7 L1771.4,579.4 L1775.6,579.1 L1779.9,578.8 L1784.2,578.5 L1788.5,578.2 L1792.8,577.9 L1797.1,577.6 L1801.3,577.3 L1805.6,577.0 L1809.9,576.7 L1814.2,576.4 L1818.5,576.1 L1822.8,575.8 L1827.0,575.4 L1831.3,575.1 L1835.6,574.8 L1839.9,574.5 L1844.2,574.2 L1848.5,573.9 L1852.7,573.6 L1857.0,573.3 L1861.3,573.0 L1865.6,572.7 L1869.9,572.4 L1874.2,572.1 L1878.4,571.8 L1882.7,571.5 L1887.0,571.2 L1891.3,570.9 L1895.6,570.6 L1899.9,570.3 L1904.1,570.0 L1908.4,569.7 L1912.7,569.4 L1917.0,569.0 L1921.3,568.7 L1925.6,568.4 L1929.8,568.1 L1934.1,567.8 L1938.4,567.5 L1942.7,567.2 L1947.0,566.9 L1951.3,566.6 L1955.5,566.3 L1959.8,566.0 L1964.1,565.7 L1968.4,565.4 L1972.7,565.1 L1977.0,564.8 L1981.2,564.5 L1985.5,564.2 L1989.8,563.9 L1994.1,563.6 L1998.4,563.3 L2002.7,563.0 L2006.9,562.6 L2011.2,562.3 L2015.5,562.0 L2019.8,561.7 L2024.1,561.4 L2028.4,561.1 L2032.6,560.8 L2036.9,560.5 L2041.2,560.2 L2045.5,559.9 L2049.8,559.7 L2054.2,559.4 L2058.5,559.1 L2062.8,558.9 L2067.1,558.6 L2071.5,558.4 L2075.8,558.1 L2080.2,557.9 L2084.5,557.6 L2088.9,557.4 L2093.2,557.2 L2097.6,557.0 L2102.0,556.7 L2106.3,556.5 L2110.7,556.3 L2115.1,556.1 L2119.5,555.9 L2123.8,555.7 L2128.2,555.5 L2132.6,555.3 L2137.0,555.0 L2141.4,554.8 L2145.7,554.6 L2150.1,554.4 L2154.5,554.2 L2158.9,554.0 L2163.2,553.8 L2167.6,553.6 L2173.6,553.3"/>
<path d="M458.1,1225.7 L458.5,1221.9 L458.8,1217.7 L459.2,1213.5 L459.5,1209.2 L459.9,1205.0 L460.3,1200.9 L460.8,1196.7 L461.2,1192.5 L461.6,1188.4 L462.1,1184.2 L462.5,1180.1 L463.0,1176.0 L463.5,1171.9 L464.0,1167.8 L464.5,1163.7 L465.0,1159.7 L465.6,1155.6 L466.1,1151.6 L466.7,1147.6 L467.3,1143.6 L467.9,1139.6 L468.5,1135.6 L469.1,1131.6 L469.7,1127.7 L470.4,1123.7 L471.0,1119.8 L471.7,1115.9 L472.4,1112.0 L473.1,1108.1 L473.9,1104.3 L474.7,1100.5 L475.4,1096.7 L476.3,1092.9 L477.1,1089.2 L478.1,1085.5 L479.0,1081.9 L480.0,1078.3 L481.1,1074.8 L482.2,1071.3 L483.3,1067.8 L484.5,1064.4 L485.7,1061.1 L487.0,1057.8 L488.3,1054.5 L489.7,1051.3 L491.1,1048.1 L492.5,1044.9 L493.9,1041.7 L495.3,1038.6 L496.8,1035.4 L498.2,1032.3 L499.7,1029.2 L501.1,1026.0 L502.6,1022.9 L504.1,1019.8 L505.6,1016.7 L507.1,1013.6 L508.6,1010.5 L510.1,1007.5 L511.6,1004.4 L513.2,1001.4 L514.8,998.4 L516.4,995.4 L518.0,992.4 L519.7,989.5 L521.3,986.6 L523.1,983.7 L524.8,980.9 L526.6,978.0 L528.4,975.3 L530.2,972.5 L532.1,969.8 L534.0,967.1 L535.9,964.4 L537.8,961.8 L539.8,959.2 L541.8,956.6 L543.8,954.0 L545.8,951.4 L547.9,948.9 L549.9,946.3 L552.0,943.8 L554.1,941.3 L556.2,938.8 L558.3,936.4 L560.4,933.9 L562.6,931.4 L564.7,929.0 L566.8,926.6 L569.0,924.1 L571.2,921.7 L573.4,919.3 L575.6,916.9 L577.8,914.6 L580.0,912.2 L582.2,909.8 L584.5,907.5 L586.8,905.2 L589.0,902.9 L591.3,900.6 L593.6,898.3 L596.0,896.0 L598.3,893.8 L600.7,891.5 L603.0,889.3 L605.4,887.1 L607.8,884.9 L610.2,882.7 L612.5,880.5 L615.0,878.3 L617.4,876.1 L619.8,874.0 L622.2,871.8 L624.7,869.7 L627.1,867.5 L629.6,865.4 L632.0,863.3 L634.5,861.2 L637.0,859.0 L639.5,856.9 L642.0,854.9 L644.5,852.8 L647.0,850.7 L649.5,848.7 L652.1,846.6 L654.7,844.6 L657.3,842.6 L659.9,840.6 L662.5,838.7 L665.2,836.8 L667.8,834.8 L670.5,833.0 L673.2,831.1 L676.0,829.2 L678.7,827.4 L681.5,825.6 L684.3,823.8 L687.2,822.1 L690.0,820.3 L692.9,818.6 L695.8,816.9 L698.7,815.2 L701.6,813.5 L704.5,811.9 L707.4,810.2 L710.3,808.5 L713.3,806.9 L716.2,805.2 L719.2,803.6 L722.1,802.0 L725.1,800.4 L728.1,798.7 L731.0,797.1 L734.0,795.5 L737.0,793.9 L740.0,792.3 L743.0,790.7 L746.0,789.2 L749.1,787.6 L752.1,786.1 L755.2,784.5 L758.3,783.0 L761.3,781.5 L764.5,780.1 L767.6,778.6 L770.7,777.1 L773.9,775.7 L777.0,774.3 L780.2,772.9 L783.4,771.5 L786.6,770.1 L789.8,768.7 L793.0,767.3 L796.3,766.0 L799.5,764.6 L802.7,763.3 L805.9,761.9 L809.2,760.6 L812.4,759.2 L815.6,757.8 L818.9,756.5 L822.1,755.2 L825.4,753.8 L828.6,752.5 L831.9,751.1 L835.1,749.8 L838.4,748.5 L841.7,747.2 L844.9,745.9 L848.2,744.6 L851.5,743.3 L854.8,742.0 L858.2,740.7 L861.5,739.5 L864.8,738.2 L868.2,737.0 L871.5,735.7 L874.9,734.5 L878.3,733.3 L881.6,732.1 L885.0,730.9 L888.4,729.7 L891.8,728.5 L895.2,727.3 L898.6,726.1 L902.0,724.9 L905.4,723.7 L908.8,722.5 L912.2,721.3 L915.6,720.2 L919.0,719.0 L922.4,717.8 L925.9,716.7 L929.3,715.5 L932.8,714.4 L936.2,713.2 L939.7,712.1 L943.1,711.0 L946.6,709.9 L950.1,708.8 L953.6,707.7 L957.1,706.6 L960.6,705.5 L964.1,704.4 L967.6,703.4 L971.2,702.3 L974.7,701.3 L978.2,700.2 L981.8,699.2 L985.3,698.1 L988.9,697.1 L992.4,696.1 L996.0,695.0 L999.6,694.0 L1003.1,693.0 L1006.7,692.0 L1010.3,691.0 L1013.9,690.0 L1017.4,688.9 L1021.0,687.9 L1024.6,686.9 L1028.2,685.9 L1031.8,684.9 L1035.3,683.9 L1038.9,682.9 L1042.5,681.9 L1046.1,680.9 L1049.7,679.9 L1053.3,678.9 L1056.9,678.0 L1060.5,677.0 L1064.2,676.0 L1067.8,675.1 L1071.4,674.1 L1075.1,673.2 L1078.7,672.3 L1082.4,671.3 L1086.1,670.4 L1089.8,669.5 L1093.5,668.6 L1097.2,667.7 L1100.9,666.9 L1104.6,666.0 L1108.3,665.1 L1112.1,664.3 L1115.8,663.4 L1119.6,662.6 L1123.3,661.8 L1127.1,661.0 L1130.9,660.1 L1134.7,659.3 L1138.4,658.5 L1142.2,657.8 L1146.0,657.0 L1149.9,656.2 L1153.7,655.4 L1157.5,654.7 L1161.3,653.9 L1165.2,653.2 L1169.0,652.4 L1172.9,651.7 L1176.7,650.9 L1180.6,650.2 L1184.4,649.5 L1188.3,648.8 L1192.2,648.0 L1196.0,647.3 L1199.9,646.6 L1203.8,645.9 L1207.6,645.2 L1211.5,644.4 L1215.4,643.7 L1219.3,643.0 L1223.1,642.3 L1227.0,641.6 L1230.9,640.9 L1234.8,640.2 L1238.7,639.5 L1242.5,638.8 L1246.4,638.1 L1250.3,637.4 L1254.2,636.7 L1258.1,636.0 L1262.0,635.3 L1265.9,634.6 L1269.9,634.0 L1273.8,633.3 L1277.7,632.7 L1281.7,632.0 L1285.6,631.4 L1289.6,630.8 L1293.6,630.1 L1297.6,629.5 L1301.5,628.9 L1305.5,628.4 L1309.5,627.8 L1313.5,627.2 L1317.6,626.6 L1321.6,626.0 L1325.6,625.5 L1329.6,624.9 L1333.6,624.3 L1337.7,623.8 L1341.7,623.2 L1345.8,622.7 L1349.8,622.1 L1353.8,621.6 L1357.9,621.0 L1361.9,620.5 L1366.0,619.9 L1370.0,619.4 L1374.1,618.9 L1378.1,618.3 L1382.1,617.8 L1386.2,617.3 L1390.3,616.7 L1394.3,616.2 L1398.4,615.6 L1402.4,615.1 L1406.5,614.6 L1410.5,614.1 L1414.6,613.5 L1418.6,613.0 L1422.7,612.5 L1426.8,611.9 L1430.8,611.4 L1434.9,610.9 L1439.0,610.4 L1443.0,609.9 L1447.1,609.4 L1451.2,608.9 L1455.3,608.3 L1459.4,607.9 L1463.5,607.4 L1467.6,606.9 L1471.7,606.4 L1475.8,606.0 L1480.0,605.5 L1484.1,605.1 L1488.3,604.6 L1492.4,604.2 L1496.6,603.8 L1500.8,603.3 L1504.9,602.9 L1509.1,602.5 L1513.3,602.1 L1517.5,601.7 L1521.7,601.3 L1525.9,600.9 L1530.1,600.5 L1534.3,600.1 L1538.4,599.7 L1542.6,599.3 L1546.8,598.9 L1551.0,598.5 L1555.2,598.2 L1559.4,597.8 L1563.6,597.4 L1567.8,597.0 L1572.0,596.6 L1576.2,596.2 L1580.4,595.8 L1584.5,595.4 L1588.7,595.0 L1592.9,594.6 L1597.1,594.2 L1601.3,593.8 L1605.5,593.4 L1609.7,593.0 L1613.9,592.6 L1618.1,592.2 L1622.3,591.8 L1626.5,591.4 L1630.7,591.0 L1634.9,590.7 L1639.1,590.3 L1643.3,589.9 L1647.5,589.5 L1651.8,589.2 L1656.0,588.8 L1660.2,588.5 L1664.5,588.1 L1668.7,587.8 L1673.0,587.5 L1677.2,587.1 L1681.5,586.8 L1685.8,586.5 L1690.0,586.2 L1694.3,585.8 L1698.6,585.5 L1702.9,585.2 L1707.1,584.9 L1711.4,584.6 L1715.7,584.3 L1720.0,584.0 L1724.3,583.7 L1728.5,583.4 L1732.8,583.1 L1737.1,582.8 L1741.4,582.4 L1745.7,582.1 L1749.9,581.8 L1754.2,581.5 L1758.5,581.2 L1762.8,580.9 L1767.1,580.6 L1771.4,580.3 L1775.6,580.0 L1779.9,579.7 L1784.2,579.4 L1788.5,579.1 L1792.8,578.8 L1797.1,578.5 L1801.3,578.2 L1805.6,577.9 L1809.9,577.6 L1814.2,577.3 L1818.5,577.0 L1822.8,576.7 L1827.0,576.3 L1831.3,576.0 L1835.6,575.7 L1839.9,575.4 L1844.2,575.1 L1848.5,574.8 L1852.7,574.5 L1857.0,574.2 L1861.3,573.9 L1865.6,573.6 L1869.9,573.3 L1874.2,573.0 L1878.4,572.7 L1882.7,572.4 L1887.0,572.1 L1891.3,571.8 L1895.6,571.5 L1899.9,571.2 L1904.1,570.9 L1908.4,570.6 L1912.7,570.3 L1917.0,569.9 L1921.3,569.6 L1925.6,569.3 L1929.8,569.0 L1934.1,568.7 L1938.4,568.4 L1942.7,568.1 L1947.0,567.8 L1951.3,567.5 L1955.5,567.2 L1959.8,566.9 L1964.1,566.6 L1968.4,566.3 L1972.7,566.0 L1977.0,565.7 L1981.2,565.4 L1985.5,565.1 L1989.8,564.8 L1994.1,564.5 L1998.4,564.2 L2002.7,563.9 L2006.9,563.5 L2011.2,563.2 L2015.5,562.9 L2019.8,562.6 L2024.1,562.3 L2028.4,562.0 L2032.6,561.7 L2036.9,561.4 L2041.2,561.1 L2045.5,560.8 L2049.8,560.6 L2054.2,560.3 L2058.5,560.0 L2062.8,559.8 L2067.1,559.5 L2071.5,559.3 L2075.8,559.0 L2080.2,558.8 L2084.5,558.5 L2088.9,558.3 L2093.2,558.1 L2097.6,557.9 L2102.0,557.6 L2106.3,557.4 L2110.7,557.2 L2115.1,557.0 L2119.5,556.8 L2123.8,556.6 L2128.2,556.4 L2132.6,556.2 L2137.0,555.9 L2141.4,555.7 L2145.7,555.5 L2150.1,555.3 L2154.5,555.1 L2158.9,554.9 L2163.2,554.7 L2167.6,554.5 L2173.6,554.2"/>
<path d="M458.1,1225.7 L458.3,1223.7 L458.4,1221.7 L458.6,1219.7 L458.8,1217.7 L458.9,1215.7 L459.1,1213.7 L459.3,1211.7 L459.5,1209.7 L459.6,1207.8 L459.8,1205.8 L460.0,1203.8 L460.2,1201.7 L460.4,1199.8 L460.6,1197.9 L460.8,1195.8 L461.0,1193.8 L461.2,1191.8 L461.4,1189.7 L461.6,1187.8 L461.8,1185.8 L462.1,1183.8 L462.3,1181.9 L462.5,1179.9 L462.7,1177.9 L463.0,1175.8 L463.2,1173.9 L463.4,1171.9 L463.7,1169.9 L463.9,1167.9 L464.2,1166.0 L464.4,1164.1 L464.7,1161.9 L464.9,1160.1 L465.2,1158.0 L465.5,1156.1 L465.7,1154.2 L466.0,1152.4 L466.3,1150.1 L466.6,1147.9 L466.8,1146.0 L467.1,1144.1 L467.4,1142.3 L467.7,1140.2 L468.0,1138.2 L468.3,1136.0 L468.6,1134.3 L468.9,1132.6 L469.2,1130.3 L469.6,1128.4 L469.9,1126.4 L470.2,1124.5 L470.5,1122.5 L470.9,1120.3 L471.2,1118.7 L471.5,1116.2 L471.9,1114.1 L472.2,1112.5 L472.6,1111.1 L473.0,1108.3 L473.4,1106.4 L473.7,1104.2 L474.1,1102.9 L474.5,1100.6 L474.9,1098.5 L475.3,1096.5 L475.8,1094.7 L476.2,1093.2 L476.7,1091.1 L477.1,1089.1 L477.6,1087.0 L478.1,1085.1 L478.6,1083.4 L479.1,1081.3 L479.6,1079.1 L480.2,1077.6 L480.7,1075.5 L481.3,1073.8 L481.9,1072.2 L482.5,1069.6 L483.2,1067.8 L483.8,1066.0 L484.5,1063.7 L485.2,1061.3 L485.9,1060.1 L486.6,1059.0 L487.3,1056.1 L488.1,1054.2 L488.9,1053.4 L489.6,1051.3 L490.4,1049.7 L491.2,1047.8 L492.0,1044.7 L492.8,1043.0 L493.7,1041.8 L494.5,1040.6 L495.3,1038.2 L496.2,1036.3 L497.0,1035.8 L497.8,1033.0 L498.7,1031.3 L499.5,1027.9 L500.4,1025.7 L501.2,1025.1 L502.1,1024.0 L502.9,1022.0 L503.8,1020.5 L504.7,1017.8 L505.5,1016.6 L506.4,1014.3 L507.3,1012.6 L508.2,1011.5 L509.0,1008.9 L509.9,1007.9 L510.8,1005.0 L511.7,1003.6 L512.7,1002.3 L513.6,999.6 L514.5,998.3 L515.4,996.9 L516.4,996.4 L517.4,992.7 L518.3,991.1 L519.3,990.0 L520.3,987.6 L521.3,985.9 L522.3,984.5 L523.4,981.9 L524.4,981.3 L525.5,979.4 L526.5,977.5 L527.6,976.2 L528.7,974.9 L529.8,973.1 L531.0,970.8 L532.1,969.3 L533.2,968.3 L534.4,966.4 L535.6,964.1 L536.8,963.1 L537.9,960.7 L539.1,959.6 L540.4,958.2 L541.6,956.8 L542.8,955.0 L544.0,953.4 L545.3,951.3 L546.5,949.9 L547.8,949.0 L549.1,947.0 L550.3,944.9 L551.6,943.3 L552.9,942.6 L554.2,940.9 L555.4,939.3 L556.7,938.4 L558.0,936.4 L559.3,934.6 L560.6,933.3 L562.0,931.4 L563.3,931.1 L564.6,928.7 L565.9,926.9 L567.3,925.7 L568.6,924.2 L569.9,922.6 L571.3,922.3 L572.6,920.6 L574.0,918.7 L575.3,917.4 L576.7,915.6 L578.1,914.5 L579.4,913.1 L580.8,910.3 L582.2,909.7 L583.6,907.8 L585.0,906.3 L586.4,904.5 L587.8,903.1 L589.2,902.2 L590.6,900.8 L592.0,899.6 L593.4,898.2 L594.9,897.0 L596.3,895.7 L597.8,893.6 L599.2,892.1 L600.7,891.2 L602.1,891.1 L603.6,887.7 L605.0,886.3 L606.5,885.0 L608.0,884.7 L609.4,883.1 L610.9,882.5 L612.4,880.0 L613.9,878.8 L615.4,876.5 L616.9,875.8 L618.3,874.1 L619.8,874.1 L621.3,872.8 L622.8,871.2 L624.3,869.3 L625.8,867.7 L627.4,867.4 L628.9,865.4 L630.4,863.4 L631.9,862.2 L633.4,861.1 L634.9,860.9 L636.5,859.1 L638.0,859.2 L639.5,856.0 L641.1,854.9 L642.6,854.3 L644.1,852.4 L645.7,850.8 L647.2,850.9 L648.8,848.6 L650.4,847.4 L651.9,846.4 L653.5,845.6 L655.1,843.6 L656.7,841.8 L658.3,841.0 L659.9,840.5 L661.5,838.9 L663.1,838.0 L664.7,836.7 L666.3,836.0 L668.0,833.7 L669.6,833.2 L671.2,832.5 L672.9,831.1 L674.6,830.9 L676.2,828.6 L677.9,828.4 L679.6,826.1 L681.3,824.2 L682.9,824.6 L684.6,824.8 L686.3,823.5 L688.0,822.2 L689.7,820.7 L691.5,820.0 L693.2,818.7 L694.9,817.2 L696.6,816.7 L698.4,814.8 L700.1,813.0 L701.8,813.2 L703.6,811.5 L705.3,811.1 L707.0,809.9 L708.8,809.2 L710.5,808.0 L712.3,806.8 L714.0,806.5 L715.8,804.5 L717.5,803.8 L719.3,802.8 L721.0,801.9 L722.8,801.2 L724.5,800.0 L726.3,799.4 L728.1,797.8 L729.8,796.6 L731.6,796.3 L733.4,795.9 L735.1,794.2 L736.9,794.0 L738.7,792.1 L740.4,792.0 L742.2,790.4 L744.0,789.6 L745.7,789.1 L747.5,788.1 L749.3,787.4 L751.1,785.7 L752.9,786.8 L754.7,784.7 L756.5,783.7 L758.3,782.3 L760.1,781.1 L761.9,782.5 L763.7,780.4 L765.5,778.4 L767.3,778.9 L769.1,777.1 L770.9,777.0 L772.8,776.2 L774.6,775.3 L776.4,774.8 L778.3,773.3 L780.1,772.2 L781.9,770.0 L783.8,770.6 L785.6,769.7 L787.4,769.0 L789.3,768.4 L791.1,769.6 L793.0,767.2 L794.8,766.1 L796.6,766.9 L798.5,764.3 L800.3,763.0 L802.2,763.6 L804.0,762.8 L805.9,762.5 L807.7,761.0 L809.6,760.3 L811.4,759.4 L813.3,758.7 L815.1,758.0 L817.0,759.0 L818.8,755.8 L820.7,753.9 L822.5,754.6 L824.4,753.2 L826.2,752.9 L828.1,752.2 L829.9,751.1 L831.8,750.2 L833.6,749.9 L835.5,749.9 L837.3,748.8 L839.2,747.7 L841.1,748.6 L842.9,746.1 L844.8,744.5 L846.6,744.3 L848.5,743.7 L850.4,742.4 L852.2,742.9 L854.1,740.9 L856.0,741.2 L857.8,741.0 L859.7,739.2 L861.6,738.8 L863.5,739.1 L865.3,737.0 L867.2,737.1 L869.1,736.0 L871.0,734.8 L872.9,735.0 L874.7,733.9 L876.6,733.6 L878.5,732.2 L880.4,731.6 L882.3,731.0 L884.2,731.4 L886.1,729.7 L887.9,729.2 L889.8,729.1 L891.7,728.0 L893.6,727.3 L895.5,726.8 L897.4,726.6 L899.3,724.7 L901.2,724.8 L903.1,724.1 L904.9,723.1 L906.8,722.8 L908.7,722.6 L910.6,721.0 L912.5,720.8 L914.4,720.2 L916.3,719.8 L918.2,718.7 L920.1,718.8 L922.0,717.2 L923.9,716.6 L925.8,716.1 L927.7,715.2 L929.6,715.3 L931.5,713.8 L933.4,714.4 L935.3,713.2 L937.2,712.3 L939.1,711.4 L941.0,709.5 L942.9,710.2 L944.8,710.0 L946.7,709.9 L948.6,709.0 L950.6,708.2 L952.5,707.3 L954.4,706.8 L956.3,706.9 L958.2,705.8 L960.1,705.7 L962.0,703.8 L963.9,704.5 L965.9,702.9 L967.8,702.5 L969.7,702.5 L971.6,701.6 L973.5,701.1 L975.5,701.4 L977.4,698.6 L979.3,701.2 L981.2,698.7 L983.1,698.3 L985.1,697.2 L987.0,697.7 L988.9,697.8 L990.8,695.7 L992.8,695.8 L994.7,695.7 L996.6,693.9 L998.5,693.2 L1000.5,693.6 L1002.4,693.4 L1004.3,691.8 L1006.2,691.9 L1008.2,691.6 L1010.1,690.5 L1012.0,689.6 L1013.9,689.0 L1015.9,689.1 L1017.8,689.5 L1019.7,688.6 L1021.7,687.6 L1023.6,686.4 L1025.5,686.3 L1027.4,686.2 L1029.4,685.7 L1031.3,684.4 L1033.2,684.2 L1035.2,683.1 L1037.1,682.8 L1039.0,682.7 L1040.9,681.7 L1042.9,682.5 L1044.8,680.2 L1046.7,679.8 L1048.7,679.0 L1050.6,678.7 L1052.5,678.4 L1054.5,677.9 L1056.4,677.8 L1058.3,676.5 L1060.3,675.9 L1062.2,676.1 L1064.1,674.3 L1066.1,675.4 L1068.0,674.0 L1069.9,674.0 L1071.9,674.3 L1073.8,674.5 L1075.8,672.9 L1077.7,671.8 L1079.7,672.7 L1081.6,671.0 L1083.5,670.2 L1085.5,670.2 L1087.4,670.4 L1089.4,668.6 L1091.3,667.7 L1093.3,667.9 L1095.2,668.1 L1097.2,666.4 L1099.1,666.4 L1101.1,666.5 L1103.0,666.3 L1105.0,665.2 L1106.9,665.1 L1108.9,664.0 L1110.8,664.8 L1112.8,663.9 L1114.7,663.7 L1116.7,663.8 L1118.6,661.5 L1120.6,661.6 L1122.5,660.9 L1124.5,661.3 L1126.5,661.1 L1128.4,660.7 L1130.4,659.9 L1132.3,659.2 L1134.3,659.5 L1136.3,657.7 L1138.2,657.1 L1140.2,657.2 L1142.1,656.2 L1144.1,657.3 L1146.1,656.2 L1148.0,656.6 L1150.0,656.6 L1152.0,654.8 L1153.9,654.4 L1155.9,654.3 L1157.8,654.9 L1159.8,653.2 L1161.8,652.3 L1163.7,653.1 L1165.7,653.0 L1167.7,652.6 L1169.6,652.0 L1171.6,651.4 L1173.6,653.5 L1175.5,650.1 L1177.5,649.9 L1179.5,649.7 L1181.4,649.7 L1183.4,649.6 L1185.4,648.2 L1187.4,648.2 L1189.3,648.9 L1191.3,647.2 L1193.3,646.9 L1195.2,646.8 L1197.2,646.2 L1199.2,646.0 L1201.1,644.8 L1203.1,645.2 L1205.1,644.0 L1207.0,644.9 L1209.0,644.8 L1211.0,644.0 L1213.0,644.0 L1214.9,643.6 L1216.9,642.6 L1218.9,643.8 L1220.8,644.1 L1222.8,641.4 L1224.8,643.7 L1226.7,640.8 L1228.7,640.8 L1230.7,640.0 L1232.7,640.5 L1234.6,639.8 L1236.6,639.2 L1238.6,637.9 L1240.5,638.5 L1242.5,638.6 L1244.5,637.5 L1246.5,637.7 L1248.4,637.5 L1250.4,637.9 L1252.4,636.2 L1254.3,635.6 L1256.3,635.8 L1258.3,636.3 L1260.3,635.8 L1262.2,635.0 L1264.2,634.9 L1266.2,633.6 L1268.2,634.1 L1270.1,633.1 L1272.1,633.6 L1274.1,633.5 L1276.1,633.1 L1278.0,631.5 L1280.0,630.8 L1282.0,630.7 L1284.0,631.1 L1285.9,631.1 L1287.9,631.3 L1289.9,630.0 L1291.9,630.4 L1293.9,629.8 L1295.8,629.8 L1297.8,628.3 L1299.8,629.1 L1301.8,629.3 L1303.8,627.8 L1305.7,627.7 L1307.7,627.8 L1309.7,626.9 L1311.7,627.2 L1313.7,627.4 L1315.7,626.7 L1317.6,627.7 L1319.6,625.5 L1321.6,625.1 L1323.6,625.9 L1325.6,624.7 L1327.6,625.8 L1329.5,624.7 L1331.5,623.8 L1333.5,623.9 L1335.5,624.6 L1337.5,623.2 L1339.5,623.6 L1341.4,621.9 L1343.4,622.2 L1345.4,622.0 L1347.4,622.4 L1349.4,622.1 L1351.4,621.0 L1353.4,621.6 L1355.3,621.5 L1357.3,621.4 L1359.3,621.2 L1361.3,619.7 L1363.3,620.2 L1365.3,618.8 L1367.3,619.5 L1369.2,618.6 L1371.2,618.8 L1373.2,617.3 L1375.2,617.9 L1377.2,617.9 L1379.2,617.8 L1381.1,617.1 L1383.1,618.4 L1385.1,616.9 L1387.1,616.3 L1389.1,616.5 L1391.1,616.3 L1393.1,617.1 L1395.0,616.3 L1397.0,615.7 L1399.0,614.7 L1401.0,615.9 L1403.0,614.2 L1405.0,615.0 L1407.0,614.1 L1409.0,613.6 L1410.9,613.0 L1412.9,612.9 L1414.9,613.0 L1416.9,612.9 L1418.9,611.9 L1420.9,611.5 L1422.9,614.6 L1424.8,611.6 L1426.8,611.1 L1428.8,611.1 L1430.8,611.4 L1432.8,611.5 L1434.8,609.7 L1436.8,609.8 L1438.7,609.6 L1440.7,610.3 L1442.7,608.9 L1444.7,609.3 L1446.7,609.2 L1448.7,608.4 L1450.7,608.4 L1452.7,608.8 L1454.7,608.4 L1456.6,607.7 L1458.6,607.8 L1460.6,606.7 L1462.6,606.4 L1464.6,607.2 L1466.6,606.5 L1468.6,607.1 L1470.6,606.6 L1472.6,607.1 L1474.5,606.0 L1476.5,604.8 L1478.5,605.2 L1480.5,606.1 L1482.5,604.0 L1484.5,603.3 L1486.5,605.7 L1488.5,605.1 L1490.5,604.5 L1492.5,604.1 L1494.5,603.4 L1496.5,602.8 L1498.4,603.0 L1500.4,602.8 L1502.4,603.8 L1504.4,602.7 L1506.4,602.3 L1508.4,601.9 L1510.4,603.9 L1512.4,601.3 L1514.4,601.9 L1516.4,602.1 L1518.4,601.3 L1520.4,600.8 L1522.4,601.0 L1524.4,600.7 L1526.4,599.9 L1528.4,600.3 L1530.4,600.3 L1532.3,600.3 L1534.3,599.0 L1536.3,600.2 L1538.3,598.9 L1540.3,598.1 L1542.3,600.2 L1544.3,598.8 L1546.3,599.2 L1548.3,598.3 L1550.3,598.2 L1552.3,597.5 L1554.3,598.0 L1556.3,597.0 L1558.3,597.9 L1560.3,598.1 L1562.3,596.9 L1564.3,596.5 L1566.2,596.4 L1568.2,596.5 L1570.2,596.7 L1572.2,595.9 L1574.2,595.5 L1576.2,594.8 L1578.2,595.6 L1580.2,595.6 L1582.2,595.8 L1584.2,595.4 L1586.2,594.9 L1588.2,595.0 L1590.2,595.7 L1592.2,594.4 L1594.2,594.1 L1596.2,592.9 L1598.2,593.7 L1600.1,593.4 L1602.1,593.7 L1604.1,593.5 L1606.1,592.8 L1608.1,593.5 L1610.1,592.9 L1612.1,591.2 L1614.1,591.6 L1616.1,591.7 L1618.1,591.7 L1620.1,592.2 L1622.1,592.0 L1624.1,589.7 L1626.1,591.1 L1628.1,590.3 L1630.1,590.0 L1632.1,590.1 L1634.1,590.0 L1636.0,589.7 L1638.0,589.9 L1640.0,589.6 L1642.0,589.4 L1644.0,589.3 L1646.0,588.6 L1648.0,588.9 L1650.0,588.5 L1652.0,591.0 L1654.0,588.3 L1656.0,588.8 L1658.0,588.7 L1660.0,587.6 L1662.0,588.2 L1664.0,588.1 L1666.0,586.9 L1668.0,587.1 L1670.0,587.3 L1672.0,587.1 L1674.0,586.0 L1676.0,586.8 L1678.0,585.8 L1680.0,586.0 L1682.0,587.1 L1684.0,589.3 L1686.0,585.6 L1688.0,586.0 L1689.9,584.9 L1691.9,585.2 L1693.9,585.1 L1695.9,585.2 L1697.9,584.2 L1699.9,585.3 L1701.9,584.8 L1703.9,583.8 L1705.9,583.9 L1707.9,584.8 L1709.9,584.5 L1711.9,584.0 L1713.9,583.5 L1715.9,584.2 L1717.9,583.7 L1719.9,583.1 L1721.9,583.1 L1723.9,583.5 L1725.9,582.5 L1727.9,582.3 L1729.9,584.5 L1731.9,582.3 L1733.9,581.1 L1735.9,583.0 L1737.9,582.2 L1739.9,582.4 L1741.9,582.5 L1743.9,583.2 L1745.9,582.3 L1747.9,581.0 L1749.9,582.1 L1751.9,581.9 L1753.9,580.3 L1755.9,581.8 L1757.9,582.0 L1759.9,581.0 L1761.9,580.9 L1763.9,580.2 L1765.9,580.3 L1767.9,580.6 L1769.9,580.4 L1771.9,579.8 L1773.9,579.7 L1775.9,579.4 L1777.9,579.2 L1779.9,579.4 L1781.9,578.7 L1783.9,578.9 L1785.8,579.6 L1787.8,580.9 L1789.8,578.6 L1791.8,577.9 L1793.8,578.3 L1795.8,578.6 L1797.8,577.9 L1799.8,578.1 L1801.8,577.0 L1803.8,578.0 L1805.8,576.5 L1807.8,576.6 L1809.8,577.3 L1811.8,577.3 L1813.8,577.5 L1815.8,577.3 L1817.8,576.6 L1819.8,576.8 L1821.8,575.7 L1823.8,576.4 L1825.8,575.7 L1827.8,575.4 L1829.8,576.3 L1831.8,575.9 L1833.8,576.3 L1835.8,575.9 L1837.8,574.9 L1839.8,573.7 L1841.8,573.6 L1843.8,574.5 L1845.8,574.6 L1847.8,573.7 L1849.8,573.8 L1851.8,573.5 L1853.8,573.1 L1855.8,573.2 L1857.8,573.7 L1859.8,572.5 L1861.8,573.2 L1863.8,573.0 L1865.8,572.8 L1867.8,572.6 L1869.8,572.9 L1871.8,573.5 L1873.8,572.3 L1875.8,571.9 L1877.8,571.8 L1879.8,572.0 L1881.8,572.2 L1883.8,571.0 L1885.7,571.5 L1887.7,571.6 L1889.7,571.7 L1891.7,571.3 L1893.7,571.4 L1895.7,570.4 L1897.7,570.9 L1899.7,570.5 L1901.7,569.7 L1903.7,571.3 L1905.7,571.4 L1907.7,569.6 L1909.7,571.8 L1911.7,569.6 L1913.7,568.6 L1915.7,570.8 L1917.7,569.1 L1919.7,569.1 L1921.7,568.3 L1923.7,569.4 L1925.7,568.8 L1927.7,568.3 L1929.7,568.4 L1931.7,569.0 L1933.7,568.6 L1935.7,568.4 L1937.7,568.0 L1939.7,567.7 L1941.7,566.8 L1943.7,567.8 L1945.7,569.5 L1947.7,567.5 L1949.7,566.8 L1951.7,566.5 L1953.7,566.9 L1955.7,566.0 L1957.7,566.4 L1959.7,565.8 L1961.7,566.2 L1963.7,567.6 L1965.7,566.2 L1967.7,565.3 L1969.7,565.4 L1971.7,565.0 L1973.7,565.6 L1975.7,564.8 L1977.7,565.2 L1979.7,564.1 L1981.7,564.8 L1983.7,565.0 L1985.6,564.7 L1987.6,563.6 L1989.6,564.4 L1991.6,563.8 L1993.6,564.0 L1995.6,564.0 L1997.6,563.8 L1999.6,563.2 L2001.6,563.2 L2003.6,562.9 L2005.6,563.1 L2007.6,563.5 L2009.6,562.8 L2011.6,562.8 L2013.6,562.1 L2015.6,562.8 L2017.6,561.1 L2019.6,561.5 L2021.6,562.3 L2023.6,562.3 L2025.6,561.1 L2027.6,561.3 L2029.6,562.1 L2031.6,561.1 L2033.6,562.0 L2035.6,561.1 L2037.6,561.6 L2039.6,561.5 L2041.6,560.4 L2043.6,560.4 L2045.6,560.8 L2047.6,559.1 L2049.6,560.8 L2051.6,559.5 L2053.6,560.0 L2055.6,559.8 L2057.6,559.9 L2059.6,559.1 L2061.6,559.4 L2063.6,559.5 L2065.6,559.8 L2067.6,560.1 L2069.6,558.3 L2071.6,558.8 L2073.6,559.0 L2075.6,558.0 L2077.6,559.6 L2079.6,558.4 L2081.6,557.8 L2083.6,558.0 L2085.6,557.1 L2087.6,558.8 L2089.6,557.6 L2091.6,557.4 L2093.6,557.6 L2095.6,557.3 L2097.6,557.3 L2099.6,557.1 L2101.6,556.8 L2103.6,557.2 L2105.6,557.7 L2107.6,556.8 L2109.6,557.5 L2111.6,556.9 L2113.6,556.6 L2115.6,556.8 L2117.6,554.8 L2119.6,555.7 L2121.6,557.4 L2123.6,556.4 L2125.6,555.7 L2127.6,555.9 L2129.6,555.1 L2131.6,555.3 L2133.6,556.5 L2135.6,556.6 L2137.6,556.4 L2139.6,554.3 L2141.6,554.4 L2143.6,554.6 L2145.6,555.0 L2147.6,557.1 L2149.6,557.0 L2151.6,554.5 L2153.6,554.4 L2155.6,554.1 L2157.6,553.7 L2159.6,554.9 L2161.6,555.5 L2163.6,553.8 L2165.6,554.2 L2167.6,553.0 L2169.6,554.5 L2171.6,553.8 L2173.6,553.7"/>
</g>
<g stroke="#0070e8">
<path d="M458.4,1094.1 L458.5,1088.9 L458.7,1084.2 L458.8,1079.4 L459.0,1074.7 L459.2,1070.0 L459.4,1065.3 L459.6,1060.6 L459.8,1055.9 L460.0,1051.2 L460.2,1046.5 L460.4,1041.9 L460.6,1037.2 L460.8,1032.5 L461.0,1027.8 L461.2,1023.2 L461.5,1018.5 L461.7,1013.9 L461.9,1009.2 L462.2,1004.6 L462.5,1000.0 L462.7,995.4 L463.0,990.8 L463.3,986.2 L463.6,981.6 L464.0,977.0 L464.3,972.5 L464.7,968.0 L465.0,963.4 L465.4,958.9 L465.8,954.4 L466.2,950.0 L466.6,945.5 L467.1,941.0 L467.5,936.6 L468.0,932.2 L468.4,927.8 L468.9,923.4 L469.4,919.0 L470.0,914.6 L470.5,910.3 L471.1,906.0 L471.7,901.7 L472.3,897.4 L473.0,893.2 L473.7,889.0 L474.4,884.8 L475.1,880.7 L475.9,876.5 L476.6,872.4 L477.5,868.4 L478.3,864.3 L479.2,860.3 L480.0,856.3 L480.9,852.3 L481.9,848.3 L482.8,844.4 L483.7,840.4 L484.7,836.5 L485.7,832.6 L486.6,828.7 L487.6,824.8 L488.6,820.9 L489.6,817.0 L490.6,813.1 L491.6,809.2 L492.6,805.3 L493.6,801.4 L494.6,797.5 L495.6,793.7 L496.6,789.8 L497.6,785.9 L498.7,782.1 L499.7,778.2 L500.7,774.3 L501.8,770.5 L502.8,766.7 L503.9,762.9 L505.0,759.1 L506.1,755.3 L507.3,751.6 L508.4,747.9 L509.6,744.2 L510.9,740.5 L512.1,736.9 L513.4,733.2 L514.7,729.7 L516.0,726.1 L517.4,722.6 L518.8,719.1 L520.2,715.6 L521.7,712.2 L523.1,708.8 L524.6,705.4 L526.2,702.0 L527.7,698.7 L529.3,695.4 L530.8,692.0 L532.4,688.8 L534.0,685.5 L535.7,682.2 L537.3,679.0 L539.0,675.8 L540.7,672.6 L542.4,669.4 L544.1,666.3 L545.9,663.1 L547.7,660.0 L549.5,657.0 L551.4,653.9 L553.2,650.9 L555.1,647.9 L557.1,645.0 L559.0,642.1 L561.0,639.2 L563.0,636.3 L565.1,633.5 L567.2,630.7 L569.3,627.9 L571.4,625.1 L573.6,622.4 L575.8,619.7 L578.0,617.0 L580.2,614.4 L582.5,611.7 L584.7,609.1 L587.1,606.6 L589.4,604.0 L591.8,601.5 L594.1,599.0 L596.6,596.5 L599.0,594.0 L601.4,591.6 L603.9,589.2 L606.4,586.8 L609.0,584.5 L611.5,582.2 L614.1,579.9 L616.7,577.6 L619.3,575.3 L622.0,573.1 L624.6,570.8 L627.3,568.6 L630.0,566.4 L632.6,564.2 L635.3,562.0 L638.0,559.8 L640.7,557.6 L643.5,555.5 L646.2,553.3 L648.9,551.2 L651.7,549.0 L654.5,546.9 L657.3,544.9 L660.2,542.8 L663.0,540.8 L665.9,538.8 L668.8,536.8 L671.8,534.9 L674.8,533.0 L677.8,531.1 L680.8,529.3 L683.9,527.5 L687.0,525.7 L690.1,523.9 L693.2,522.2 L696.4,520.4 L699.6,518.7 L702.8,517.0 L706.0,515.3 L709.2,513.7 L712.4,512.0 L715.6,510.4 L718.9,508.7 L722.1,507.1 L725.4,505.4 L728.7,503.8 L731.9,502.2 L735.2,500.6 L738.5,499.0 L741.8,497.4 L745.1,495.8 L748.4,494.3 L751.7,492.7 L755.1,491.1 L758.4,489.6 L761.7,488.0 L765.1,486.5 L768.4,484.9 L771.8,483.4 L775.2,481.9 L778.5,480.4 L781.9,478.9 L785.3,477.4 L788.8,475.9 L792.2,474.5 L795.6,473.0 L799.1,471.6 L802.5,470.2 L806.0,468.7 L809.5,467.4 L813.0,466.0 L816.5,464.6 L820.0,463.2 L823.6,461.9 L827.1,460.6 L830.7,459.2 L834.3,457.9 L837.9,456.7 L841.5,455.4 L845.1,454.1 L848.8,452.9 L852.4,451.6 L856.1,450.4 L859.7,449.2 L863.4,448.0 L867.1,446.8 L870.8,445.6 L874.5,444.4 L878.2,443.3 L882.0,442.1 L885.7,440.9 L889.4,439.8 L893.1,438.6 L896.9,437.5 L900.6,436.3 L904.3,435.2 L908.1,434.0 L911.8,432.9 L915.5,431.7 L919.3,430.5 L923.0,429.4 L926.8,428.2 L930.5,427.1 L934.2,425.9 L938.0,424.8 L941.7,423.6 L945.4,422.5 L949.2,421.3 L952.9,420.2 L956.6,419.0 L960.4,417.9 L964.1,416.7 L967.9,415.6 L971.6,414.5 L975.4,413.3 L979.1,412.2 L982.9,411.1 L986.6,409.9 L990.4,408.8 L994.1,407.6 L997.9,406.5 L1001.6,405.4 L1005.4,404.2 L1009.1,403.1 L1012.9,402.0 L1016.6,400.8 L1020.4,399.7 L1024.1,398.6 L1027.9,397.4 L1031.6,396.3 L1035.4,395.2 L1039.1,394.0 L1042.9,392.9 L1046.6,391.7 L1050.4,390.6 L1054.1,389.5 L1057.9,388.3 L1061.6,387.2 L1065.4,386.1 L1069.1,384.9 L1072.9,383.8 L1076.7,382.7 L1080.5,381.6 L1084.3,380.5 L1088.1,379.4 L1091.9,378.3 L1095.7,377.3 L1099.6,376.3 L1103.5,375.3 L1107.4,374.3 L1111.3,373.3 L1115.2,372.4 L1119.2,371.5 L1123.2,370.6 L1127.2,369.7 L1131.2,368.8 L1135.2,367.9 L1139.2,367.0 L1143.2,366.1 L1147.2,365.3 L1151.2,364.4 L1155.2,363.5 L1159.3,362.6 L1163.3,361.8 L1167.3,360.9 L1171.3,360.0 L1175.3,359.2 L1179.3,358.3 L1183.4,357.4 L1187.4,356.5 L1191.4,355.7 L1195.4,354.8 L1199.5,354.0 L1203.5,353.2 L1207.6,352.3 L1211.7,351.5 L1215.8,350.7 L1219.9,349.9 L1224.0,349.2 L1228.1,348.4 L1232.3,347.7 L1236.4,347.0 L1240.6,346.3 L1244.8,345.6 L1249.0,344.9 L1253.2,344.2 L1257.4,343.5 L1261.7,342.9 L1265.9,342.2 L1270.1,341.6 L1274.4,340.9 L1278.6,340.3 L1282.8,339.6 L1287.1,339.0 L1291.3,338.3 L1295.6,337.7 L1299.8,337.1 L1304.1,336.4 L1308.3,335.8 L1312.6,335.2 L1316.8,334.5 L1321.1,333.9 L1325.3,333.3 L1329.6,332.6 L1333.9,332.0 L1338.1,331.4 L1342.4,330.8 L1346.7,330.2 L1351.0,329.6 L1355.3,329.0 L1359.6,328.4 L1363.8,327.8 L1368.1,327.2 L1372.4,326.6 L1376.7,326.0 L1381.0,325.4 L1385.3,324.8 L1389.6,324.2 L1393.9,323.7 L1398.2,323.1 L1402.6,322.5 L1406.9,321.9 L1411.2,321.4 L1415.5,320.8 L1419.8,320.2 L1424.2,319.7 L1428.5,319.1 L1432.8,318.6 L1437.2,318.0 L1441.5,317.5 L1445.9,316.9 L1450.2,316.4 L1454.6,315.9 L1459.0,315.4 L1463.3,314.9 L1467.7,314.4 L1472.1,313.9 L1476.5,313.4 L1480.9,312.9 L1485.3,312.4 L1489.7,311.9 L1494.1,311.4 L1498.5,311.0 L1502.9,310.5 L1507.3,310.0 L1511.7,309.5 L1516.2,309.0 L1520.6,308.6 L1525.0,308.1 L1529.4,307.7 L1533.9,307.2 L1538.3,306.7 L1542.7,306.3 L1547.2,305.9 L1551.6,305.4 L1556.1,305.0 L1560.6,304.6 L1565.0,304.2 L1569.5,303.8 L1574.0,303.3 L1578.5,302.9 L1582.9,302.5 L1587.4,302.1 L1591.9,301.7 L1596.4,301.3 L1600.9,300.9 L1605.3,300.5 L1609.8,300.1 L1614.3,299.7 L1618.8,299.3 L1623.3,298.9 L1627.7,298.5 L1632.2,298.0 L1636.7,297.6 L1641.2,297.2 L1645.6,296.8 L1650.1,296.4 L1654.6,296.0 L1659.1,295.6 L1663.6,295.2 L1668.0,294.8 L1672.5,294.4 L1677.0,294.0 L1681.5,293.6 L1686.0,293.1 L1690.4,292.7 L1694.9,292.3 L1699.4,291.9 L1703.9,291.5 L1708.4,291.2 L1712.9,290.8 L1717.4,290.4 L1721.9,290.0 L1726.5,289.7 L1731.0,289.3 L1735.5,288.9 L1740.1,288.6 L1744.6,288.3 L1749.1,287.9 L1753.7,287.6 L1758.3,287.3 L1762.8,286.9 L1767.4,286.6 L1771.9,286.3 L1776.5,286.0 L1781.1,285.6 L1785.6,285.3 L1790.2,285.0 L1794.8,284.7 L1799.3,284.3 L1803.9,284.0 L1808.4,283.7 L1813.0,283.4 L1817.6,283.1 L1822.2,282.7 L1826.7,282.4 L1831.3,282.1 L1835.9,281.8 L1840.5,281.5 L1845.1,281.2 L1849.7,280.9 L1854.3,280.7 L1858.9,280.4 L1863.5,280.1 L1868.1,279.8 L1872.8,279.6 L1877.4,279.3 L1882.0,279.1 L1886.6,278.8 L1891.3,278.6 L1895.9,278.3 L1900.6,278.1 L1905.2,277.8 L1909.9,277.6 L1914.5,277.4 L1919.2,277.1 L1923.8,276.9 L1928.5,276.7 L1933.2,276.5 L1937.8,276.2 L1942.5,276.0 L1947.2,275.8 L1951.8,275.6 L1956.5,275.3 L1961.1,275.1 L1965.8,274.9 L1970.5,274.7 L1975.1,274.4 L1979.8,274.2 L1984.5,274.0 L1989.1,273.8 L1993.8,273.6 L1998.4,273.3 L2003.1,273.1 L2007.8,272.9 L2012.4,272.7 L2017.1,272.4 L2021.8,272.2 L2026.4,272.0 L2031.1,271.8 L2035.8,271.6 L2040.4,271.3 L2045.1,271.1 L2049.8,270.9 L2054.5,270.7 L2059.2,270.5 L2063.8,270.3 L2068.5,270.1 L2073.2,269.9 L2077.9,269.7 L2082.6,269.5 L2087.3,269.3 L2092.0,269.1 L2096.7,269.0 L2101.4,268.8 L2106.1,268.6 L2110.8,268.4 L2115.6,268.3 L2120.3,268.1 L2125.0,267.9 L2129.7,267.8 L2134.4,267.6 L2139.2,267.4 L2143.9,267.3 L2148.6,267.1 L2153.4,267.0 L2158.1,266.8 L2162.9,266.7 L2167.6,266.5 L2173.6,266.4"/>
<path d="M458.4,1094.1 L458.5,1089.8 L458.7,1085.1 L458.8,1080.3 L459.0,1075.6 L459.2,1070.9 L459.4,1066.2 L459.6,1061.5 L459.8,1056.8 L460.0,1052.1 L460.2,1047.4 L460.4,1042.8 L460.6,1038.1 L460.8,1033.4 L461.0,1028.7 L461.2,1024.1 L461.5,1019.4 L461.7,1014.8 L461.9,1010.1 L462.2,1005.5 L462.5,1000.9 L462.7,996.3 L463.0,991.7 L463.3,987.1 L463.6,982.5 L464.0,977.9 L464.3,973.4 L464.7,968.9 L465.0,964.3 L465.4,959.8 L465.8,955.3 L466.2,950.9 L466.6,946.4 L467.1,941.9 L467.5,937.5 L468.0,933.1 L468.4,928.7 L468.9,924.3 L469.4,919.9 L470.0,915.5 L470.5,911.2 L471.1,906.9 L471.7,902.6 L472.3,898.3 L473.0,894.1 L473.7,889.9 L474.4,885.7 L475.1,881.6 L475.9,877.4 L476.6,873.3 L477.5,869.3 L478.3,865.2 L479.2,861.2 L480.0,857.2 L480.9,853.2 L481.9,849.2 L482.8,845.3 L483.7,841.3 L484.7,837.4 L485.7,833.5 L486.6,829.6 L487.6,825.7 L488.6,821.8 L489.6,817.9 L490.6,814.0 L491.6,810.1 L492.6,806.2 L493.6,802.3 L494.6,798.4 L495.6,794.6 L496.6,790.7 L497.6,786.8 L498.7,783.0 L499.7,779.1 L500.7,775.2 L501.8,771.4 L502.8,767.6 L503.9,763.8 L505.0,760.0 L506.1,756.2 L507.3,752.5 L508.4,748.8 L509.6,745.1 L510.9,741.4 L512.1,737.8 L513.4,734.1 L514.7,730.6 L516.0,727.0 L517.4,723.5 L518.8,720.0 L520.2,716.5 L521.7,713.1 L523.1,709.7 L524.6,706.3 L526.2,702.9 L527.7,699.6 L529.3,696.3 L530.8,692.9 L532.4,689.7 L534.0,686.4 L535.7,683.1 L537.3,679.9 L539.0,676.7 L540.7,673.5 L542.4,670.3 L544.1,667.2 L545.9,664.0 L547.7,660.9 L549.5,657.9 L551.4,654.8 L553.2,651.8 L555.1,648.8 L557.1,645.9 L559.0,643.0 L561.0,640.1 L563.0,637.2 L565.1,634.4 L567.2,631.6 L569.3,628.8 L571.4,626.0 L573.6,623.3 L575.8,620.6 L578.0,617.9 L580.2,615.3 L582.5,612.6 L584.7,610.0 L587.1,607.5 L589.4,604.9 L591.8,602.4 L594.1,599.9 L596.6,597.4 L599.0,594.9 L601.4,592.5 L603.9,590.1 L606.4,587.7 L609.0,585.4 L611.5,583.1 L614.1,580.8 L616.7,578.5 L619.3,576.2 L622.0,574.0 L624.6,571.7 L627.3,569.5 L630.0,567.3 L632.6,565.1 L635.3,562.9 L638.0,560.7 L640.7,558.5 L643.5,556.4 L646.2,554.2 L648.9,552.1 L651.7,549.9 L654.5,547.8 L657.3,545.8 L660.2,543.7 L663.0,541.7 L665.9,539.7 L668.8,537.7 L671.8,535.8 L674.8,533.9 L677.8,532.0 L680.8,530.2 L683.9,528.4 L687.0,526.6 L690.1,524.8 L693.2,523.1 L696.4,521.3 L699.6,519.6 L702.8,517.9 L706.0,516.2 L709.2,514.6 L712.4,512.9 L715.6,511.3 L718.9,509.6 L722.1,508.0 L725.4,506.3 L728.7,504.7 L731.9,503.1 L735.2,501.5 L738.5,499.9 L741.8,498.3 L745.1,496.7 L748.4,495.2 L751.7,493.6 L755.1,492.0 L758.4,490.5 L761.7,488.9 L765.1,487.4 L768.4,485.8 L771.8,484.3 L775.2,482.8 L778.5,481.3 L781.9,479.8 L785.3,478.3 L788.8,476.8 L792.2,475.4 L795.6,473.9 L799.1,472.5 L802.5,471.1 L806.0,469.6 L809.5,468.3 L813.0,466.9 L816.5,465.5 L820.0,464.1 L823.6,462.8 L827.1,461.5 L830.7,460.1 L834.3,458.8 L837.9,457.6 L841.5,456.3 L845.1,455.0 L848.8,453.8 L852.4,452.5 L856.1,451.3 L859.7,450.1 L863.4,448.9 L867.1,447.7 L870.8,446.5 L874.5,445.3 L878.2,444.2 L882.0,443.0 L885.7,441.8 L889.4,440.7 L893.1,439.5 L896.9,438.4 L900.6,437.2 L904.3,436.1 L908.1,434.9 L911.8,433.8 L915.5,432.6 L919.3,431.4 L923.0,430.3 L926.8,429.1 L930.5,428.0 L934.2,426.8 L938.0,425.7 L941.7,424.5 L945.4,423.4 L949.2,422.2 L952.9,421.1 L956.6,419.9 L960.4,418.8 L964.1,417.6 L967.9,416.5 L971.6,415.4 L975.4,414.2 L979.1,413.1 L982.9,412.0 L986.6,410.8 L990.4,409.7 L994.1,408.5 L997.9,407.4 L1001.6,406.3 L1005.4,405.1 L1009.1,404.0 L1012.9,402.9 L1016.6,401.7 L1020.4,400.6 L1024.1,399.5 L1027.9,398.3 L1031.6,397.2 L1035.4,396.1 L1039.1,394.9 L1042.9,393.8 L1046.6,392.6 L1050.4,391.5 L1054.1,390.4 L1057.9,389.2 L1061.6,388.1 L1065.4,387.0 L1069.1,385.8 L1072.9,384.7 L1076.7,383.6 L1080.5,382.5 L1084.3,381.4 L1088.1,380.3 L1091.9,379.2 L1095.7,378.2 L1099.6,377.2 L1103.5,376.2 L1107.4,375.2 L1111.3,374.2 L1115.2,373.3 L1119.2,372.4 L1123.2,371.5 L1127.2,370.6 L1131.2,369.7 L1135.2,368.8 L1139.2,367.9 L1143.2,367.0 L1147.2,366.2 L1151.2,365.3 L1155.2,364.4 L1159.3,363.5 L1163.3,362.7 L1167.3,361.8 L1171.3,360.9 L1175.3,360.1 L1179.3,359.2 L1183.4,358.3 L1187.4,357.4 L1191.4,356.6 L1195.4,355.7 L1199.5,354.9 L1203.5,354.1 L1207.6,353.2 L1211.7,352.4 L1215.8,351.6 L1219.9,350.8 L1224.0,350.1 L1228.1,349.3 L1232.3,348.6 L1236.4,347.9 L1240.6,347.2 L1244.8,346.5 L1249.0,345.8 L1253.2,345.1 L1257.4,344.4 L1261.7,343.8 L1265.9,343.1 L1270.1,342.5 L1274.4,341.8 L1278.6,341.2 L1282.8,340.5 L1287.1,339.9 L1291.3,339.2 L1295.6,338.6 L1299.8,338.0 L1304.1,337.3 L1308.3,336.7 L1312.6,336.1 L1316.8,335.4 L1321.1,334.8 L1325.3,334.2 L1329.6,333.5 L1333.9,332.9 L1338.1,332.3 L1342.4,331.7 L1346.7,331.1 L1351.0,330.5 L1355.3,329.9 L1359.6,329.3 L1363.8,328.7 L1368.1,328.1 L1372.4,327.5 L1376.7,326.9 L1381.0,326.3 L1385.3,325.7 L1389.6,325.1 L1393.9,324.6 L1398.2,324.0 L1402.6,323.4 L1406.9,322.8 L1411.2,322.3 L1415.5,321.7 L1419.8,321.1 L1424.2,320.6 L1428.5,320.0 L1432.8,319.5 L1437.2,318.9 L1441.5,318.4 L1445.9,317.8 L1450.2,317.3 L1454.6,316.8 L1459.0,316.3 L1463.3,315.8 L1467.7,315.3 L1472.1,314.8 L1476.5,314.3 L1480.9,313.8 L1485.3,313.3 L1489.7,312.8 L1494.1,312.3 L1498.5,311.9 L1502.9,311.4 L1507.3,310.9 L1511.7,310.4 L1516.2,309.9 L1520.6,309.5 L1525.0,309.0 L1529.4,308.6 L1533.9,308.1 L1538.3,307.6 L1542.7,307.2 L1547.2,306.8 L1551.6,306.3 L1556.1,305.9 L1560.6,305.5 L1565.0,305.1 L1569.5,304.7 L1574.0,304.2 L1578.5,303.8 L1582.9,303.4 L1587.4,303.0 L1591.9,302.6 L1596.4,302.2 L1600.9,301.8 L1605.3,301.4 L1609.8,301.0 L1614.3,300.6 L1618.8,300.2 L1623.3,299.8 L1627.7,299.4 L1632.2,298.9 L1636.7,298.5 L1641.2,298.1 L1645.6,297.7 L1650.1,297.3 L1654.6,296.9 L1659.1,296.5 L1663.6,296.1 L1668.0,295.7 L1672.5,295.3 L1677.0,294.9 L1681.5,294.5 L1686.0,294.0 L1690.4,293.6 L1694.9,293.2 L1699.4,292.8 L1703.9,292.4 L1708.4,292.1 L1712.9,291.7 L1717.4,291.3 L1721.9,290.9 L1726.5,290.6 L1731.0,290.2 L1735.5,289.8 L1740.1,289.5 L1744.6,289.2 L1749.1,288.8 L1753.7,288.5 L1758.3,288.2 L1762.8,287.8 L1767.4,287.5 L1771.9,287.2 L1776.5,286.9 L1781.1,286.5 L1785.6,286.2 L1790.2,285.9 L1794.8,285.6 L1799.3,285.2 L1803.9,284.9 L1808.4,284.6 L1813.0,284.3 L1817.6,284.0 L1822.2,283.6 L1826.7,283.3 L1831.3,283.0 L1835.9,282.7 L1840.5,282.4 L1845.1,282.1 L1849.7,281.8 L1854.3,281.6 L1858.9,281.3 L1863.5,281.0 L1868.1,280.7 L1872.8,280.5 L1877.4,280.2 L1882.0,280.0 L1886.6,279.7 L1891.3,279.5 L1895.9,279.2 L1900.6,279.0 L1905.2,278.7 L1909.9,278.5 L1914.5,278.3 L1919.2,278.0 L1923.8,277.8 L1928.5,277.6 L1933.2,277.4 L1937.8,277.1 L1942.5,276.9 L1947.2,276.7 L1951.8,276.5 L1956.5,276.2 L1961.1,276.0 L1965.8,275.8 L1970.5,275.6 L1975.1,275.3 L1979.8,275.1 L1984.5,274.9 L1989.1,274.7 L1993.8,274.5 L1998.4,274.2 L2003.1,274.0 L2007.8,273.8 L2012.4,273.6 L2017.1,273.3 L2021.8,273.1 L2026.4,272.9 L2031.1,272.7 L2035.8,272.5 L2040.4,272.2 L2045.1,272.0 L2049.8,271.8 L2054.5,271.6 L2059.2,271.4 L2063.8,271.2 L2068.5,271.0 L2073.2,270.8 L2077.9,270.6 L2082.6,270.4 L2087.3,270.2 L2092.0,270.0 L2096.7,269.9 L2101.4,269.7 L2106.1,269.5 L2110.8,269.3 L2115.6,269.2 L2120.3,269.0 L2125.0,268.8 L2129.7,268.7 L2134.4,268.5 L2139.2,268.3 L2143.9,268.2 L2148.6,268.0 L2153.4,267.9 L2158.1,267.7 L2162.9,267.6 L2167.6,267.4 L2173.6,267.3"/>
<path d="M458.4,1094.1 L458.4,1092.1 L458.5,1090.1 L458.6,1088.1 L458.6,1086.1 L458.7,1084.1 L458.8,1082.1 L458.8,1080.0 L458.9,1078.0 L459.0,1076.0 L459.1,1074.0 L459.1,1072.0 L459.2,1070.0 L459.3,1068.0 L459.4,1066.1 L459.4,1064.0 L459.5,1062.0 L459.6,1060.0 L459.7,1058.0 L459.8,1056.0 L459.9,1054.0 L459.9,1052.0 L460.0,1050.0 L460.1,1048.0 L460.2,1046.1 L460.3,1044.0 L460.4,1042.0 L460.5,1040.0 L460.6,1038.0 L460.6,1036.0 L460.7,1034.0 L460.8,1032.0 L460.9,1030.0 L461.0,1028.0 L461.1,1026.0 L461.2,1023.9 L461.3,1022.1 L461.4,1020.0 L461.5,1018.0 L461.6,1016.0 L461.7,1014.0 L461.8,1012.0 L461.9,1010.0 L462.0,1007.9 L462.1,1005.9 L462.3,1004.0 L462.4,1002.0 L462.5,999.9 L462.6,998.0 L462.7,995.9 L462.9,994.0 L463.0,992.0 L463.1,989.9 L463.2,988.0 L463.4,986.1 L463.5,984.0 L463.6,982.0 L463.8,979.9 L463.9,978.0 L464.1,975.9 L464.2,973.9 L464.4,971.9 L464.5,970.0 L464.7,968.0 L464.9,966.0 L465.0,964.0 L465.2,962.0 L465.4,960.1 L465.5,957.9 L465.7,956.1 L465.9,954.0 L466.1,952.1 L466.2,950.0 L466.4,948.1 L466.6,946.0 L466.8,944.1 L467.0,942.0 L467.2,940.1 L467.4,937.7 L467.6,936.0 L467.8,934.1 L468.0,932.0 L468.2,929.9 L468.4,928.1 L468.7,926.1 L468.9,924.1 L469.1,922.2 L469.4,920.4 L469.6,917.9 L469.8,916.3 L470.1,914.2 L470.3,912.2 L470.6,910.3 L470.9,908.4 L471.1,906.4 L471.4,904.0 L471.7,902.6 L472.0,900.2 L472.3,898.3 L472.6,896.1 L472.9,894.5 L473.2,892.6 L473.5,890.4 L473.8,888.7 L474.2,886.4 L474.5,884.4 L474.9,882.7 L475.2,880.2 L475.6,878.5 L475.9,876.3 L476.3,874.8 L476.7,872.2 L477.1,870.8 L477.5,868.7 L477.9,867.0 L478.3,864.9 L478.7,863.0 L479.1,861.4 L479.6,859.0 L480.0,857.1 L480.4,855.4 L480.9,852.9 L481.3,851.4 L481.8,848.9 L482.2,846.8 L482.7,845.1 L483.1,843.2 L483.6,841.8 L484.1,839.6 L484.6,837.5 L485.0,835.9 L485.5,833.0 L486.0,831.5 L486.5,829.7 L487.0,828.0 L487.5,825.2 L488.0,824.6 L488.5,822.1 L488.9,820.5 L489.4,818.4 L489.9,814.8 L490.4,813.8 L490.9,812.3 L491.4,810.5 L491.9,808.4 L492.4,806.1 L492.9,804.2 L493.4,802.1 L493.9,801.2 L494.4,799.3 L494.9,796.3 L495.4,795.7 L496.0,792.5 L496.5,790.8 L497.0,788.0 L497.5,789.4 L498.0,784.1 L498.5,783.8 L499.0,781.8 L499.5,780.0 L500.0,776.8 L500.6,776.5 L501.1,774.9 L501.6,769.9 L502.2,769.0 L502.7,767.5 L503.2,765.5 L503.8,763.6 L504.3,761.3 L504.9,760.8 L505.5,758.5 L506.0,755.8 L506.6,754.4 L507.2,752.8 L507.8,750.8 L508.4,747.8 L509.0,747.1 L509.6,744.5 L510.3,743.6 L510.9,741.1 L511.5,739.0 L512.2,736.9 L512.9,735.3 L513.5,732.6 L514.2,730.8 L514.9,729.1 L515.6,727.8 L516.3,725.9 L517.1,723.4 L517.8,723.2 L518.6,719.9 L519.3,718.7 L520.1,719.4 L520.8,715.6 L521.6,712.6 L522.4,711.4 L523.2,710.3 L524.0,706.9 L524.8,705.7 L525.7,702.8 L526.5,700.8 L527.3,699.7 L528.2,698.5 L529.0,695.6 L529.9,694.1 L530.7,692.6 L531.6,690.6 L532.5,689.0 L533.4,687.0 L534.3,686.4 L535.2,684.7 L536.1,681.8 L537.0,679.2 L537.9,678.7 L538.8,675.7 L539.7,675.5 L540.7,672.2 L541.6,671.1 L542.6,669.7 L543.6,667.8 L544.5,665.2 L545.5,664.4 L546.5,662.9 L547.5,660.3 L548.5,657.9 L549.6,657.7 L550.6,656.2 L551.7,654.5 L552.7,652.7 L553.8,650.3 L554.9,649.6 L556.0,647.4 L557.1,645.4 L558.2,644.3 L559.3,641.8 L560.4,639.9 L561.6,638.1 L562.7,636.3 L563.9,636.0 L565.1,634.8 L566.3,632.7 L567.4,630.7 L568.7,629.8 L569.9,627.2 L571.1,625.8 L572.3,625.1 L573.6,622.9 L574.8,622.3 L576.1,621.6 L577.4,618.6 L578.7,617.0 L580.0,617.5 L581.3,614.2 L582.6,612.1 L583.9,611.3 L585.2,608.5 L586.6,606.9 L587.9,606.2 L589.3,605.6 L590.6,602.6 L592.0,602.0 L593.4,600.4 L594.8,599.3 L596.2,596.8 L597.6,595.4 L599.0,594.2 L600.4,593.4 L601.8,591.4 L603.3,590.5 L604.7,587.8 L606.2,587.3 L607.7,585.7 L609.1,584.1 L610.6,583.3 L612.1,582.6 L613.6,581.4 L615.1,579.1 L616.6,577.2 L618.1,577.0 L619.6,575.6 L621.1,573.8 L622.7,573.7 L624.2,572.1 L625.7,570.0 L627.3,569.0 L628.8,568.4 L630.4,567.1 L631.9,566.1 L633.5,564.9 L635.0,562.6 L636.6,561.7 L638.1,562.3 L639.7,559.8 L641.3,557.9 L642.8,556.7 L644.4,553.9 L646.0,554.6 L647.5,553.2 L649.1,552.6 L650.7,550.1 L652.3,548.6 L653.9,547.2 L655.5,546.1 L657.1,548.9 L658.8,545.4 L660.4,544.5 L662.0,541.2 L663.7,541.3 L665.3,539.5 L667.0,538.5 L668.6,536.6 L670.3,537.2 L672.0,535.9 L673.7,534.2 L675.4,532.7 L677.1,532.3 L678.8,530.2 L680.5,529.8 L682.2,529.4 L684.0,527.5 L685.7,526.3 L687.4,526.0 L689.2,524.6 L690.9,524.6 L692.7,523.2 L694.4,522.0 L696.2,521.6 L697.9,519.5 L699.7,519.1 L701.5,518.4 L703.2,517.6 L705.0,515.7 L706.8,515.2 L708.6,515.4 L710.3,513.1 L712.1,512.7 L713.9,511.8 L715.7,509.4 L717.5,510.2 L719.3,509.2 L721.0,508.1 L722.8,507.7 L724.6,505.6 L726.4,505.0 L728.2,504.6 L730.0,503.7 L731.8,503.0 L733.6,501.7 L735.4,501.2 L737.2,499.7 L739.0,499.7 L740.8,498.4 L742.6,496.9 L744.4,496.3 L746.2,495.2 L748.1,494.8 L749.9,494.0 L751.7,493.2 L753.5,491.4 L755.3,492.3 L757.1,490.4 L758.9,490.5 L760.7,488.6 L762.6,488.1 L764.4,486.9 L766.2,487.0 L768.0,485.5 L769.9,484.5 L771.7,484.5 L773.5,483.4 L775.3,482.1 L777.2,483.9 L779.0,480.0 L780.8,479.5 L782.7,479.2 L784.5,477.6 L786.3,478.1 L788.2,476.7 L790.0,475.7 L791.9,474.3 L793.7,474.2 L795.5,472.9 L797.4,473.0 L799.2,472.5 L801.1,470.9 L803.0,470.4 L804.8,469.2 L806.7,469.0 L808.5,467.2 L810.4,467.6 L812.2,467.6 L814.1,464.7 L816.0,464.3 L817.8,464.6 L819.7,463.8 L821.6,462.5 L823.5,462.5 L825.3,462.3 L827.2,461.3 L829.1,460.7 L831.0,459.8 L832.9,458.4 L834.7,458.3 L836.6,457.1 L838.5,457.1 L840.4,456.6 L842.3,456.6 L844.2,455.7 L846.1,453.8 L848.0,452.9 L849.9,452.6 L851.8,451.9 L853.7,451.1 L855.6,451.9 L857.5,451.3 L859.4,450.6 L861.3,449.6 L863.2,448.0 L865.1,448.5 L867.0,447.0 L868.9,445.7 L870.8,445.2 L872.7,445.4 L874.6,444.4 L876.5,444.3 L878.5,442.9 L880.4,442.6 L882.3,442.8 L884.2,441.8 L886.1,441.0 L888.0,441.4 L889.9,440.0 L891.8,439.1 L893.8,440.4 L895.7,438.7 L897.6,437.9 L899.5,437.7 L901.4,436.1 L903.3,435.1 L905.2,435.8 L907.2,435.5 L909.1,433.4 L911.0,433.8 L912.9,432.9 L914.8,432.3 L916.7,431.3 L918.6,432.2 L920.6,430.2 L922.5,429.4 L924.4,429.4 L926.3,429.4 L928.2,428.2 L930.1,428.7 L932.0,426.9 L934.0,426.4 L935.9,426.7 L937.8,425.6 L939.7,425.4 L941.6,423.9 L943.5,423.5 L945.4,422.4 L947.4,422.6 L949.3,422.7 L951.2,421.9 L953.1,420.3 L955.0,419.6 L956.9,420.1 L958.9,418.5 L960.8,418.8 L962.7,417.4 L964.6,416.5 L966.5,415.5 L968.4,415.6 L970.4,416.3 L972.3,417.3 L974.2,413.3 L976.1,413.5 L978.0,413.1 L979.9,412.1 L981.9,411.3 L983.8,410.8 L985.7,410.3 L987.6,410.6 L989.5,408.4 L991.4,408.7 L993.4,407.4 L995.3,407.7 L997.2,406.2 L999.1,406.8 L1001.0,406.9 L1002.9,404.7 L1004.9,405.1 L1006.8,405.8 L1008.7,404.4 L1010.6,402.4 L1012.5,403.0 L1014.5,401.5 L1016.4,401.2 L1018.3,400.5 L1020.2,400.6 L1022.1,399.3 L1024.0,399.7 L1026.0,398.5 L1027.9,398.1 L1029.8,396.7 L1031.7,396.6 L1033.6,395.7 L1035.5,395.5 L1037.5,394.2 L1039.4,393.4 L1041.3,393.4 L1043.2,393.4 L1045.1,391.7 L1047.1,392.0 L1049.0,390.4 L1050.9,391.6 L1052.8,389.7 L1054.7,389.6 L1056.6,388.6 L1058.6,388.8 L1060.5,388.3 L1062.4,387.3 L1064.3,386.4 L1066.2,386.6 L1068.1,384.5 L1070.1,386.3 L1072.0,385.0 L1073.9,383.8 L1075.8,383.3 L1077.7,382.7 L1079.7,382.5 L1081.6,381.3 L1083.5,382.0 L1085.4,379.3 L1087.4,380.1 L1089.3,379.5 L1091.2,378.7 L1093.2,378.4 L1095.1,377.6 L1097.0,376.9 L1099.0,376.9 L1100.9,375.4 L1102.9,376.0 L1104.8,375.6 L1106.7,376.0 L1108.7,373.0 L1110.6,373.4 L1112.6,372.8 L1114.5,372.6 L1116.5,373.1 L1118.4,372.0 L1120.4,374.4 L1122.3,370.8 L1124.3,370.7 L1126.2,369.9 L1128.2,370.3 L1130.2,369.0 L1132.1,369.1 L1134.1,368.4 L1136.0,367.5 L1138.0,367.7 L1139.9,365.9 L1141.9,366.9 L1143.9,367.4 L1145.8,365.9 L1147.8,365.2 L1149.7,365.1 L1151.7,363.9 L1153.6,364.6 L1155.6,364.6 L1157.6,363.2 L1159.5,362.1 L1161.5,362.3 L1163.4,361.9 L1165.4,361.7 L1167.3,361.7 L1169.3,359.7 L1171.3,360.2 L1173.2,359.7 L1175.2,360.1 L1177.1,359.8 L1179.1,357.8 L1181.0,358.1 L1183.0,359.1 L1185.0,356.8 L1186.9,358.0 L1188.9,356.2 L1190.8,356.3 L1192.8,355.5 L1194.8,356.0 L1196.7,355.2 L1198.7,355.5 L1200.6,353.7 L1202.6,354.0 L1204.6,353.2 L1206.5,353.2 L1208.5,352.8 L1210.5,352.3 L1212.4,350.5 L1214.4,351.3 L1216.4,351.6 L1218.3,350.7 L1220.3,350.7 L1222.3,350.2 L1224.2,349.0 L1226.2,350.2 L1228.2,349.5 L1230.2,347.7 L1232.1,347.3 L1234.1,348.0 L1236.1,347.4 L1238.1,347.7 L1240.0,346.9 L1242.0,346.9 L1244.0,346.8 L1246.0,345.5 L1247.9,344.7 L1249.9,345.6 L1251.9,344.7 L1253.9,344.0 L1255.9,344.1 L1257.8,343.7 L1259.8,343.3 L1261.8,344.2 L1263.8,343.5 L1265.7,342.5 L1267.7,342.3 L1269.7,342.0 L1271.7,343.0 L1273.7,341.4 L1275.6,341.2 L1277.6,341.1 L1279.6,339.9 L1281.6,340.8 L1283.6,339.5 L1285.6,338.9 L1287.5,340.1 L1289.5,339.7 L1291.5,339.0 L1293.5,340.1 L1295.5,337.7 L1297.4,337.5 L1299.4,337.9 L1301.4,336.7 L1303.4,337.0 L1305.4,337.0 L1307.3,336.2 L1309.3,336.2 L1311.3,335.9 L1313.3,336.6 L1315.3,335.5 L1317.3,334.8 L1319.2,334.4 L1321.2,333.2 L1323.2,334.1 L1325.2,334.0 L1327.2,332.5 L1329.1,333.3 L1331.1,333.2 L1333.1,333.7 L1335.1,330.9 L1337.1,332.9 L1339.1,332.2 L1341.0,332.3 L1343.0,331.1 L1345.0,330.3 L1347.0,330.1 L1349.0,329.4 L1351.0,330.2 L1352.9,330.7 L1354.9,329.3 L1356.9,329.9 L1358.9,329.3 L1360.9,328.8 L1362.9,329.0 L1364.9,329.3 L1366.8,327.6 L1368.8,328.0 L1370.8,327.4 L1372.8,326.7 L1374.8,326.8 L1376.8,326.9 L1378.7,326.4 L1380.7,326.0 L1382.7,325.2 L1384.7,325.3 L1386.7,327.4 L1388.7,325.1 L1390.7,324.3 L1392.6,324.7 L1394.6,324.5 L1396.6,323.0 L1398.6,323.7 L1400.6,323.3 L1402.6,323.9 L1404.6,323.6 L1406.5,321.9 L1408.5,321.4 L1410.5,321.4 L1412.5,321.7 L1414.5,321.3 L1416.5,321.6 L1418.5,320.9 L1420.4,320.9 L1422.4,320.2 L1424.4,318.7 L1426.4,320.2 L1428.4,320.5 L1430.4,318.5 L1432.4,318.4 L1434.4,318.8 L1436.3,318.6 L1438.3,318.4 L1440.3,318.9 L1442.3,318.4 L1444.3,317.9 L1446.3,317.8 L1448.3,317.5 L1450.3,317.1 L1452.3,317.7 L1454.2,317.1 L1456.2,315.9 L1458.2,316.2 L1460.2,315.3 L1462.2,315.2 L1464.2,315.1 L1466.2,315.7 L1468.2,314.8 L1470.2,315.1 L1472.2,314.2 L1474.2,314.2 L1476.1,314.3 L1478.1,313.9 L1480.1,312.9 L1482.1,312.3 L1484.1,312.3 L1486.1,312.3 L1488.1,313.6 L1490.1,312.5 L1492.1,312.0 L1494.1,311.3 L1496.1,312.6 L1498.0,311.4 L1500.0,311.6 L1502.0,311.4 L1504.0,310.4 L1506.0,312.7 L1508.0,310.9 L1510.0,309.9 L1512.0,311.2 L1514.0,309.8 L1516.0,310.1 L1518.0,309.6 L1520.0,308.6 L1522.0,308.9 L1523.9,307.7 L1525.9,308.5 L1527.9,308.1 L1529.9,308.1 L1531.9,310.7 L1533.9,307.8 L1535.9,308.0 L1537.9,306.6 L1539.9,306.2 L1541.9,306.2 L1543.9,307.3 L1545.9,307.0 L1547.9,306.2 L1549.9,305.4 L1551.9,305.3 L1553.8,306.2 L1555.8,304.8 L1557.8,304.2 L1559.8,305.3 L1561.8,304.6 L1563.8,305.6 L1565.8,304.1 L1567.8,304.7 L1569.8,304.5 L1571.8,304.9 L1573.8,304.1 L1575.8,303.6 L1577.8,303.2 L1579.8,303.3 L1581.8,302.9 L1583.8,302.3 L1585.8,302.4 L1587.8,302.5 L1589.8,301.9 L1591.8,302.4 L1593.8,301.5 L1595.7,302.6 L1597.7,301.8 L1599.7,301.0 L1601.7,300.9 L1603.7,301.1 L1605.7,300.9 L1607.7,301.0 L1609.7,299.7 L1611.7,300.6 L1613.7,300.5 L1615.7,300.0 L1617.7,299.8 L1619.7,299.8 L1621.7,299.3 L1623.7,299.8 L1625.7,298.9 L1627.7,298.7 L1629.7,299.3 L1631.7,299.0 L1633.7,297.6 L1635.7,298.3 L1637.6,296.9 L1639.6,297.2 L1641.6,297.3 L1643.6,297.9 L1645.6,297.2 L1647.6,296.5 L1649.6,299.8 L1651.6,296.6 L1653.6,296.3 L1655.6,297.0 L1657.6,296.7 L1659.6,297.4 L1661.6,295.9 L1663.6,297.8 L1665.6,294.4 L1667.6,295.6 L1669.6,295.2 L1671.6,295.5 L1673.6,293.3 L1675.6,294.5 L1677.6,294.9 L1679.5,295.1 L1681.5,296.3 L1683.5,294.0 L1685.5,293.3 L1687.5,293.2 L1689.5,293.3 L1691.5,292.8 L1693.5,292.7 L1695.5,292.7 L1697.5,292.7 L1699.5,292.7 L1701.5,292.6 L1703.5,292.4 L1705.5,292.3 L1707.5,292.1 L1709.5,292.2 L1711.5,291.8 L1713.5,291.4 L1715.5,290.1 L1717.5,290.7 L1719.5,290.6 L1721.5,290.7 L1723.5,290.3 L1725.5,290.3 L1727.5,290.0 L1729.4,290.1 L1731.4,290.9 L1733.4,288.8 L1735.4,290.5 L1737.4,290.7 L1739.4,288.9 L1741.4,288.6 L1743.4,289.0 L1745.4,289.4 L1747.4,287.4 L1749.4,287.7 L1751.4,288.0 L1753.4,289.2 L1755.4,287.9 L1757.4,288.3 L1759.4,287.9 L1761.4,287.4 L1763.4,287.2 L1765.4,286.7 L1767.4,287.8 L1769.4,287.6 L1771.4,286.6 L1773.4,286.2 L1775.4,285.7 L1777.4,287.1 L1779.4,286.0 L1781.4,286.3 L1783.4,285.7 L1785.4,285.9 L1787.4,288.3 L1789.4,285.4 L1791.4,287.0 L1793.4,285.3 L1795.4,285.5 L1797.4,284.6 L1799.4,284.6 L1801.4,284.9 L1803.4,284.0 L1805.4,284.7 L1807.4,284.6 L1809.4,283.9 L1811.4,283.3 L1813.4,283.6 L1815.4,283.1 L1817.4,283.7 L1819.4,283.1 L1821.4,282.2 L1823.4,283.5 L1825.4,283.8 L1827.4,283.5 L1829.4,282.3 L1831.4,282.4 L1833.4,281.8 L1835.4,282.3 L1837.4,282.1 L1839.4,283.0 L1841.4,283.0 L1843.4,281.8 L1845.4,281.3 L1847.4,281.9 L1849.4,282.4 L1851.4,281.8 L1853.4,281.5 L1855.4,280.4 L1857.4,280.3 L1859.4,281.3 L1861.4,280.6 L1863.4,279.4 L1865.4,280.4 L1867.4,281.2 L1869.4,280.0 L1871.4,280.5 L1873.4,279.2 L1875.4,279.7 L1877.4,279.5 L1879.4,279.8 L1881.4,279.8 L1883.4,280.4 L1885.4,279.1 L1887.4,279.4 L1889.4,278.8 L1891.4,278.4 L1893.4,278.4 L1895.4,279.9 L1897.4,278.8 L1899.4,278.1 L1901.4,278.0 L1903.4,279.7 L1905.4,278.5 L1907.4,277.9 L1909.4,277.8 L1911.4,277.9 L1913.4,278.6 L1915.4,277.7 L1917.4,277.2 L1919.4,277.3 L1921.4,278.0 L1923.4,276.3 L1925.4,277.4 L1927.4,278.0 L1929.4,277.1 L1931.4,277.4 L1933.4,276.7 L1935.4,276.1 L1937.4,276.7 L1939.4,276.7 L1941.4,276.8 L1943.4,276.3 L1945.4,275.4 L1947.4,276.9 L1949.4,276.3 L1951.4,276.1 L1953.4,276.2 L1955.4,277.1 L1957.4,275.6 L1959.4,275.1 L1961.4,276.2 L1963.4,274.5 L1965.4,275.8 L1967.4,275.2 L1969.4,275.3 L1971.4,275.3 L1973.4,275.4 L1975.4,274.6 L1977.4,275.0 L1979.4,274.0 L1981.4,273.7 L1983.4,274.1 L1985.4,274.8 L1987.4,273.9 L1989.4,273.2 L1991.4,273.7 L1993.4,275.0 L1995.4,274.2 L1997.4,273.8 L1999.4,274.2 L2001.4,273.5 L2003.4,273.4 L2005.4,274.0 L2007.4,273.0 L2009.4,272.9 L2011.4,273.0 L2013.4,273.2 L2015.4,273.0 L2017.4,272.1 L2019.4,272.7 L2021.4,272.2 L2023.4,272.8 L2025.4,273.2 L2027.4,272.4 L2029.5,272.4 L2031.5,272.6 L2033.5,273.0 L2035.5,271.1 L2037.5,274.0 L2039.5,272.3 L2041.5,271.4 L2043.5,272.1 L2045.5,270.4 L2047.5,271.4 L2049.5,271.2 L2051.5,272.3 L2053.5,271.3 L2055.5,271.0 L2057.5,271.5 L2059.5,270.5 L2061.5,271.6 L2063.5,270.6 L2065.5,272.7 L2067.5,270.7 L2069.5,271.5 L2071.5,270.9 L2073.5,270.6 L2075.5,269.2 L2077.5,269.8 L2079.5,269.6 L2081.5,270.3 L2083.5,269.6 L2085.5,269.7 L2087.5,269.3 L2089.5,269.0 L2091.5,269.5 L2093.5,269.4 L2095.5,268.5 L2097.5,270.0 L2099.5,268.9 L2101.5,269.8 L2103.5,268.7 L2105.5,269.6 L2107.5,269.1 L2109.5,268.2 L2111.5,269.4 L2113.5,268.3 L2115.5,268.8 L2117.5,268.8 L2119.5,269.3 L2121.5,268.5 L2123.5,269.0 L2125.5,268.2 L2127.5,268.8 L2129.5,266.9 L2131.5,267.7 L2133.5,267.8 L2135.6,267.9 L2137.6,267.1 L2139.6,268.8 L2141.6,267.9 L2143.6,267.4 L2145.6,268.2 L2147.6,268.2 L2149.6,267.4 L2151.6,267.7 L2153.6,267.6 L2155.6,267.2 L2157.6,268.2 L2159.6,267.6 L2161.6,266.8 L2163.6,266.8 L2165.6,266.4 L2167.6,267.1 L2169.6,266.5 L2171.6,267.0 L2173.6,266.8"/>
</g>
<g stroke="#9900ff">
<path d="M458.6,1018.3 L459.0,1014.0 L459.5,1010.2 L459.9,1006.3 L460.4,1002.5 L460.8,998.7 L461.3,994.9 L461.8,991.1 L462.3,987.3 L462.8,983.5 L463.3,979.7 L463.8,976.0 L464.3,972.3 L464.9,968.6 L465.5,964.9 L466.1,961.2 L466.8,957.6 L467.5,954.0 L468.2,950.5 L469.0,947.0 L469.8,943.5 L470.6,940.0 L471.5,936.6 L472.4,933.3 L473.4,930.0 L474.4,926.7 L475.4,923.4 L476.5,920.2 L477.5,917.0 L478.7,913.9 L479.8,910.8 L481.0,907.7 L482.2,904.6 L483.4,901.5 L484.7,898.5 L485.9,895.5 L487.2,892.5 L488.4,889.5 L489.7,886.5 L491.0,883.5 L492.3,880.5 L493.6,877.5 L494.9,874.5 L496.2,871.5 L497.5,868.5 L498.8,865.6 L500.1,862.6 L501.4,859.7 L502.7,856.7 L504.1,853.8 L505.4,850.8 L506.8,847.9 L508.2,845.0 L509.5,842.1 L510.9,839.3 L512.4,836.4 L513.8,833.5 L515.2,830.7 L516.7,827.9 L518.2,825.1 L519.7,822.3 L521.2,819.5 L522.7,816.8 L524.2,814.0 L525.8,811.3 L527.3,808.6 L528.9,805.9 L530.5,803.2 L532.1,800.5 L533.7,797.9 L535.4,795.2 L537.0,792.6 L538.7,790.0 L540.3,787.4 L542.0,784.8 L543.8,782.3 L545.5,779.7 L547.2,777.2 L549.0,774.6 L550.8,772.2 L552.6,769.7 L554.4,767.2 L556.2,764.8 L558.1,762.4 L559.9,760.0 L561.8,757.6 L563.8,755.2 L565.7,752.9 L567.7,750.6 L569.6,748.3 L571.6,746.0 L573.7,743.7 L575.7,741.5 L577.8,739.3 L579.9,737.1 L582.0,734.9 L584.1,732.8 L586.2,730.6 L588.4,728.5 L590.6,726.4 L592.8,724.3 L595.0,722.3 L597.2,720.2 L599.4,718.2 L601.7,716.2 L603.9,714.1 L606.2,712.1 L608.5,710.1 L610.8,708.1 L613.0,706.1 L615.3,704.1 L617.6,702.1 L619.9,700.1 L622.1,698.1 L624.4,696.1 L626.7,694.1 L629.0,692.1 L631.3,690.1 L633.5,688.1 L635.8,686.2 L638.1,684.2 L640.4,682.2 L642.7,680.2 L644.9,678.2 L647.2,676.2 L649.5,674.2 L651.8,672.2 L654.1,670.2 L656.3,668.2 L658.6,666.2 L660.9,664.2 L663.2,662.2 L665.5,660.2 L667.7,658.2 L670.0,656.2 L672.3,654.2 L674.6,652.2 L676.9,650.2 L679.1,648.2 L681.4,646.2 L683.7,644.2 L686.0,642.2 L688.3,640.3 L690.6,638.3 L692.9,636.3 L695.3,634.4 L697.6,632.5 L700.0,630.6 L702.5,628.8 L704.9,626.9 L707.4,625.1 L709.9,623.3 L712.4,621.6 L714.9,619.8 L717.5,618.1 L720.1,616.4 L722.7,614.8 L725.3,613.1 L727.9,611.5 L730.6,609.8 L733.2,608.2 L735.9,606.6 L738.5,604.9 L741.1,603.3 L743.8,601.7 L746.4,600.0 L749.1,598.4 L751.7,596.8 L754.4,595.1 L757.0,593.5 L759.7,591.9 L762.3,590.2 L764.9,588.6 L767.6,587.0 L770.2,585.3 L772.9,583.7 L775.5,582.1 L778.2,580.5 L780.8,578.8 L783.5,577.2 L786.2,575.6 L788.8,574.0 L791.5,572.4 L794.2,570.8 L796.9,569.3 L799.6,567.7 L802.4,566.1 L805.1,564.6 L807.8,563.1 L810.6,561.5 L813.4,560.0 L816.1,558.5 L818.9,557.0 L821.7,555.6 L824.5,554.1 L827.3,552.6 L830.1,551.2 L833.0,549.7 L835.8,548.3 L838.6,546.8 L841.5,545.4 L844.4,544.0 L847.2,542.6 L850.1,541.2 L853.0,539.8 L855.9,538.4 L858.8,537.0 L861.7,535.7 L864.6,534.3 L867.5,533.0 L870.5,531.6 L873.4,530.3 L876.4,529.0 L879.4,527.7 L882.4,526.4 L885.3,525.1 L888.4,523.8 L891.4,522.6 L894.4,521.3 L897.4,520.1 L900.5,518.8 L903.5,517.6 L906.5,516.4 L909.6,515.1 L912.6,513.9 L915.6,512.6 L918.7,511.4 L921.7,510.2 L924.8,508.9 L927.8,507.7 L930.8,506.4 L933.9,505.2 L936.9,504.0 L939.9,502.7 L943.0,501.5 L946.0,500.2 L949.1,499.0 L952.1,497.8 L955.1,496.5 L958.2,495.3 L961.2,494.1 L964.2,492.8 L967.3,491.6 L970.3,490.3 L973.4,489.1 L976.4,487.9 L979.4,486.6 L982.5,485.4 L985.5,484.2 L988.6,482.9 L991.6,481.7 L994.7,480.5 L997.8,479.3 L1000.9,478.1 L1004.0,476.9 L1007.1,475.8 L1010.2,474.6 L1013.3,473.5 L1016.5,472.3 L1019.6,471.2 L1022.8,470.1 L1026.0,469.0 L1029.1,467.9 L1032.3,466.8 L1035.5,465.7 L1038.7,464.7 L1041.9,463.6 L1045.2,462.5 L1048.4,461.5 L1051.6,460.4 L1054.8,459.4 L1058.1,458.3 L1061.3,457.3 L1064.5,456.3 L1067.8,455.2 L1071.0,454.2 L1074.3,453.2 L1077.6,452.2 L1080.9,451.2 L1084.2,450.2 L1087.5,449.3 L1090.8,448.3 L1094.1,447.3 L1097.5,446.4 L1100.8,445.5 L1104.2,444.6 L1107.5,443.6 L1110.9,442.7 L1114.2,441.8 L1117.6,440.9 L1121.0,440.0 L1124.4,439.1 L1127.7,438.2 L1131.1,437.3 L1134.5,436.4 L1137.8,435.5 L1141.2,434.5 L1144.6,433.6 L1147.9,432.7 L1151.3,431.8 L1154.7,430.9 L1158.0,430.0 L1161.4,429.1 L1164.8,428.2 L1168.1,427.3 L1171.5,426.4 L1174.9,425.5 L1178.3,424.6 L1181.6,423.7 L1185.0,422.7 L1188.4,421.8 L1191.7,420.9 L1195.1,420.0 L1198.5,419.1 L1201.8,418.2 L1205.2,417.3 L1208.6,416.4 L1211.9,415.5 L1215.3,414.6 L1218.7,413.7 L1222.1,412.8 L1225.4,411.9 L1228.8,411.0 L1232.2,410.1 L1235.6,409.2 L1238.9,408.3 L1242.3,407.4 L1245.7,406.5 L1249.1,405.6 L1252.6,404.8 L1256.0,403.9 L1259.4,403.1 L1262.9,402.3 L1266.3,401.4 L1269.8,400.6 L1273.3,399.8 L1276.8,399.0 L1280.3,398.3 L1283.8,397.5 L1287.3,396.7 L1290.8,396.0 L1294.4,395.3 L1297.9,394.5 L1301.4,393.8 L1305.0,393.0 L1308.5,392.3 L1312.1,391.6 L1315.6,390.9 L1319.2,390.1 L1322.7,389.4 L1326.3,388.7 L1329.8,387.9 L1333.4,387.2 L1336.9,386.5 L1340.5,385.8 L1344.0,385.0 L1347.6,384.3 L1351.1,383.6 L1354.7,382.8 L1358.2,382.1 L1361.8,381.4 L1365.3,380.7 L1368.9,379.9 L1372.4,379.2 L1376.0,378.5 L1379.5,377.8 L1383.1,377.1 L1386.7,376.4 L1390.2,375.7 L1393.8,375.0 L1397.4,374.3 L1401.0,373.6 L1404.6,372.9 L1408.2,372.2 L1411.8,371.5 L1415.4,370.9 L1419.0,370.2 L1422.6,369.6 L1426.2,368.9 L1429.9,368.2 L1433.5,367.6 L1437.1,366.9 L1440.7,366.3 L1444.4,365.6 L1448.0,365.0 L1451.6,364.3 L1455.2,363.7 L1458.9,363.1 L1462.5,362.4 L1466.2,361.8 L1469.8,361.2 L1473.5,360.6 L1477.2,360.0 L1480.8,359.3 L1484.5,358.7 L1488.2,358.2 L1491.9,357.6 L1495.6,357.0 L1499.2,356.4 L1502.9,355.8 L1506.6,355.2 L1510.3,354.6 L1514.0,354.0 L1517.7,353.4 L1521.4,352.9 L1525.1,352.3 L1528.8,351.7 L1532.5,351.1 L1536.1,350.5 L1539.8,349.9 L1543.5,349.3 L1547.2,348.7 L1550.9,348.2 L1554.6,347.6 L1558.3,347.0 L1562.0,346.4 L1565.7,345.8 L1569.4,345.2 L1573.0,344.6 L1576.7,344.0 L1580.4,343.5 L1584.1,342.9 L1587.8,342.3 L1591.5,341.7 L1595.2,341.1 L1598.9,340.5 L1602.6,339.9 L1606.2,339.4 L1609.9,338.8 L1613.6,338.2 L1617.3,337.6 L1621.0,337.0 L1624.7,336.4 L1628.4,335.8 L1632.1,335.2 L1635.8,334.7 L1639.5,334.1 L1643.1,333.5 L1646.8,332.9 L1650.5,332.3 L1654.2,331.7 L1657.9,331.2 L1661.6,330.6 L1665.3,330.0 L1669.0,329.4 L1672.7,328.9 L1676.5,328.3 L1680.2,327.7 L1683.9,327.2 L1687.6,326.6 L1691.3,326.1 L1695.1,325.5 L1698.8,325.0 L1702.6,324.5 L1706.3,323.9 L1710.1,323.4 L1713.8,322.9 L1717.6,322.4 L1721.3,321.9 L1725.1,321.4 L1728.9,320.9 L1732.7,320.4 L1736.4,319.9 L1740.2,319.4 L1744.0,318.9 L1747.8,318.4 L1751.6,317.9 L1755.4,317.4 L1759.2,317.0 L1763.0,316.5 L1766.8,316.0 L1770.6,315.5 L1774.4,315.1 L1778.2,314.6 L1782.0,314.1 L1785.8,313.7 L1789.6,313.2 L1793.5,312.7 L1797.3,312.3 L1801.1,311.8 L1804.9,311.3 L1808.7,310.8 L1812.5,310.4 L1816.3,309.9 L1820.1,309.4 L1823.9,309.0 L1827.7,308.5 L1831.5,308.0 L1835.3,307.6 L1839.1,307.1 L1842.9,306.6 L1846.7,306.1 L1850.6,305.7 L1854.4,305.2 L1858.2,304.7 L1862.0,304.3 L1865.8,303.8 L1869.6,303.3 L1873.4,302.9 L1877.2,302.4 L1881.0,301.9 L1884.8,301.5 L1888.7,301.0 L1892.5,300.6 L1896.3,300.1 L1900.2,299.7 L1904.0,299.3 L1907.8,298.8 L1911.7,298.4 L1915.6,298.0 L1919.4,297.6 L1923.3,297.2 L1927.2,296.8 L1931.0,296.4 L1934.9,296.0 L1938.8,295.6 L1942.7,295.2 L1946.6,294.9 L1950.6,294.5 L1954.5,294.6"/>
<path d="M458.6,1018.3 L459.0,1014.9 L459.5,1011.1 L459.9,1007.2 L460.4,1003.4 L460.8,999.6 L461.3,995.8 L461.8,992.0 L462.3,988.2 L462.8,984.4 L463.3,980.6 L463.8,976.9 L464.3,973.2 L464.9,969.5 L465.5,965.8 L466.1,962.1 L466.8,958.5 L467.5,954.9 L468.2,951.4 L469.0,947.9 L469.8,944.4 L470.6,940.9 L471.5,937.5 L472.4,934.2 L473.4,930.9 L474.4,927.6 L475.4,924.3 L476.5,921.1 L477.5,917.9 L478.7,914.8 L479.8,911.7 L481.0,908.6 L482.2,905.5 L483.4,902.4 L484.7,899.4 L485.9,896.4 L487.2,893.4 L488.4,890.4 L489.7,887.4 L491.0,884.4 L492.3,881.4 L493.6,878.4 L494.9,875.4 L496.2,872.4 L497.5,869.4 L498.8,866.5 L500.1,863.5 L501.4,860.6 L502.7,857.6 L504.1,854.7 L505.4,851.7 L506.8,848.8 L508.2,845.9 L509.5,843.0 L510.9,840.2 L512.4,837.3 L513.8,834.4 L515.2,831.6 L516.7,828.8 L518.2,826.0 L519.7,823.2 L521.2,820.4 L522.7,817.7 L524.2,814.9 L525.8,812.2 L527.3,809.5 L528.9,806.8 L530.5,804.1 L532.1,801.4 L533.7,798.8 L535.4,796.1 L537.0,793.5 L538.7,790.9 L540.3,788.3 L542.0,785.7 L543.8,783.2 L545.5,780.6 L547.2,778.1 L549.0,775.5 L550.8,773.1 L552.6,770.6 L554.4,768.1 L556.2,765.7 L558.1,763.3 L559.9,760.9 L561.8,758.5 L563.8,756.1 L565.7,753.8 L567.7,751.5 L569.6,749.2 L571.6,746.9 L573.7,744.6 L575.7,742.4 L577.8,740.2 L579.9,738.0 L582.0,735.8 L584.1,733.7 L586.2,731.5 L588.4,729.4 L590.6,727.3 L592.8,725.2 L595.0,723.2 L597.2,721.1 L599.4,719.1 L601.7,717.1 L603.9,715.0 L606.2,713.0 L608.5,711.0 L610.8,709.0 L613.0,707.0 L615.3,705.0 L617.6,703.0 L619.9,701.0 L622.1,699.0 L624.4,697.0 L626.7,695.0 L629.0,693.0 L631.3,691.0 L633.5,689.0 L635.8,687.1 L638.1,685.1 L640.4,683.1 L642.7,681.1 L644.9,679.1 L647.2,677.1 L649.5,675.1 L651.8,673.1 L654.1,671.1 L656.3,669.1 L658.6,667.1 L660.9,665.1 L663.2,663.1 L665.5,661.1 L667.7,659.1 L670.0,657.1 L672.3,655.1 L674.6,653.1 L676.9,651.1 L679.1,649.1 L681.4,647.1 L683.7,645.1 L686.0,643.1 L688.3,641.2 L690.6,639.2 L692.9,637.2 L695.3,635.3 L697.6,633.4 L700.0,631.5 L702.5,629.7 L704.9,627.8 L707.4,626.0 L709.9,624.2 L712.4,622.5 L714.9,620.7 L717.5,619.0 L720.1,617.3 L722.7,615.7 L725.3,614.0 L727.9,612.4 L730.6,610.7 L733.2,609.1 L735.9,607.5 L738.5,605.8 L741.1,604.2 L743.8,602.6 L746.4,600.9 L749.1,599.3 L751.7,597.7 L754.4,596.0 L757.0,594.4 L759.7,592.8 L762.3,591.1 L764.9,589.5 L767.6,587.9 L770.2,586.2 L772.9,584.6 L775.5,583.0 L778.2,581.4 L780.8,579.7 L783.5,578.1 L786.2,576.5 L788.8,574.9 L791.5,573.3 L794.2,571.7 L796.9,570.2 L799.6,568.6 L802.4,567.0 L805.1,565.5 L807.8,564.0 L810.6,562.4 L813.4,560.9 L816.1,559.4 L818.9,557.9 L821.7,556.5 L824.5,555.0 L827.3,553.5 L830.1,552.1 L833.0,550.6 L835.8,549.2 L838.6,547.7 L841.5,546.3 L844.4,544.9 L847.2,543.5 L850.1,542.1 L853.0,540.7 L855.9,539.3 L858.8,537.9 L861.7,536.6 L864.6,535.2 L867.5,533.9 L870.5,532.5 L873.4,531.2 L876.4,529.9 L879.4,528.6 L882.4,527.3 L885.3,526.0 L888.4,524.7 L891.4,523.5 L894.4,522.2 L897.4,521.0 L900.5,519.7 L903.5,518.5 L906.5,517.3 L909.6,516.0 L912.6,514.8 L915.6,513.5 L918.7,512.3 L921.7,511.1 L924.8,509.8 L927.8,508.6 L930.8,507.3 L933.9,506.1 L936.9,504.9 L939.9,503.6 L943.0,502.4 L946.0,501.1 L949.1,499.9 L952.1,498.7 L955.1,497.4 L958.2,496.2 L961.2,495.0 L964.2,493.7 L967.3,492.5 L970.3,491.2 L973.4,490.0 L976.4,488.8 L979.4,487.5 L982.5,486.3 L985.5,485.1 L988.6,483.8 L991.6,482.6 L994.7,481.4 L997.8,480.2 L1000.9,479.0 L1004.0,477.8 L1007.1,476.7 L1010.2,475.5 L1013.3,474.4 L1016.5,473.2 L1019.6,472.1 L1022.8,471.0 L1026.0,469.9 L1029.1,468.8 L1032.3,467.7 L1035.5,466.6 L1038.7,465.6 L1041.9,464.5 L1045.2,463.4 L1048.4,462.4 L1051.6,461.3 L1054.8,460.3 L1058.1,459.2 L1061.3,458.2 L1064.5,457.2 L1067.8,456.1 L1071.0,455.1 L1074.3,454.1 L1077.6,453.1 L1080.9,452.1 L1084.2,451.1 L1087.5,450.2 L1090.8,449.2 L1094.1,448.2 L1097.5,447.3 L1100.8,446.4 L1104.2,445.5 L1107.5,444.5 L1110.9,443.6 L1114.2,442.7 L1117.6,441.8 L1121.0,440.9 L1124.4,440.0 L1127.7,439.1 L1131.1,438.2 L1134.5,437.3 L1137.8,436.4 L1141.2,435.4 L1144.6,434.5 L1147.9,433.6 L1151.3,432.7 L1154.7,431.8 L1158.0,430.9 L1161.4,430.0 L1164.8,429.1 L1168.1,428.2 L1171.5,427.3 L1174.9,426.4 L1178.3,425.5 L1181.6,424.6 L1185.0,423.6 L1188.4,422.7 L1191.7,421.8 L1195.1,420.9 L1198.5,420.0 L1201.8,419.1 L1205.2,418.2 L1208.6,417.3 L1211.9,416.4 L1215.3,415.5 L1218.7,414.6 L1222.1,413.7 L1225.4,412.8 L1228.8,411.9 L1232.2,411.0 L1235.6,410.1 L1238.9,409.2 L1242.3,408.3 L1245.7,407.4 L1249.1,406.5 L1252.6,405.7 L1256.0,404.8 L1259.4,404.0 L1262.9,403.2 L1266.3,402.3 L1269.8,401.5 L1273.3,400.7 L1276.8,399.9 L1280.3,399.2 L1283.8,398.4 L1287.3,397.6 L1290.8,396.9 L1294.4,396.2 L1297.9,395.4 L1301.4,394.7 L1305.0,393.9 L1308.5,393.2 L1312.1,392.5 L1315.6,391.8 L1319.2,391.0 L1322.7,390.3 L1326.3,389.6 L1329.8,388.8 L1333.4,388.1 L1336.9,387.4 L1340.5,386.7 L1344.0,385.9 L1347.6,385.2 L1351.1,384.5 L1354.7,383.7 L1358.2,383.0 L1361.8,382.3 L1365.3,381.6 L1368.9,380.8 L1372.4,380.1 L1376.0,379.4 L1379.5,378.7 L1383.1,378.0 L1386.7,377.3 L1390.2,376.6 L1393.8,375.9 L1397.4,375.2 L1401.0,374.5 L1404.6,373.8 L1408.2,373.1 L1411.8,372.4 L1415.4,371.8 L1419.0,371.1 L1422.6,370.5 L1426.2,369.8 L1429.9,369.1 L1433.5,368.5 L1437.1,367.8 L1440.7,367.2 L1444.4,366.5 L1448.0,365.9 L1451.6,365.2 L1455.2,364.6 L1458.9,364.0 L1462.5,363.3 L1466.2,362.7 L1469.8,362.1 L1473.5,361.5 L1477.2,360.9 L1480.8,360.2 L1484.5,359.6 L1488.2,359.1 L1491.9,358.5 L1495.6,357.9 L1499.2,357.3 L1502.9,356.7 L1506.6,356.1 L1510.3,355.5 L1514.0,354.9 L1517.7,354.3 L1521.4,353.8 L1525.1,353.2 L1528.8,352.6 L1532.5,352.0 L1536.1,351.4 L1539.8,350.8 L1543.5,350.2 L1547.2,349.6 L1550.9,349.1 L1554.6,348.5 L1558.3,347.9 L1562.0,347.3 L1565.7,346.7 L1569.4,346.1 L1573.0,345.5 L1576.7,344.9 L1580.4,344.4 L1584.1,343.8 L1587.8,343.2 L1591.5,342.6 L1595.2,342.0 L1598.9,341.4 L1602.6,340.8 L1606.2,340.3 L1609.9,339.7 L1613.6,339.1 L1617.3,338.5 L1621.0,337.9 L1624.7,337.3 L1628.4,336.7 L1632.1,336.1 L1635.8,335.6 L1639.5,335.0 L1643.1,334.4 L1646.8,333.8 L1650.5,333.2 L1654.2,332.6 L1657.9,332.1 L1661.6,331.5 L1665.3,330.9 L1669.0,330.3 L1672.7,329.8 L1676.5,329.2 L1680.2,328.6 L1683.9,328.1 L1687.6,327.5 L1691.3,327.0 L1695.1,326.4 L1698.8,325.9 L1702.6,325.4 L1706.3,324.8 L1710.1,324.3 L1713.8,323.8 L1717.6,323.3 L1721.3,322.8 L1725.1,322.3 L1728.9,321.8 L1732.7,321.3 L1736.4,320.8 L1740.2,320.3 L1744.0,319.8 L1747.8,319.3 L1751.6,318.8 L1755.4,318.3 L1759.2,317.9 L1763.0,317.4 L1766.8,316.9 L1770.6,316.4 L1774.4,316.0 L1778.2,315.5 L1782.0,315.0 L1785.8,314.6 L1789.6,314.1 L1793.5,313.6 L1797.3,313.2 L1801.1,312.7 L1804.9,312.2 L1808.7,311.7 L1812.5,311.3 L1816.3,310.8 L1820.1,310.3 L1823.9,309.9 L1827.7,309.4 L1831.5,308.9 L1835.3,308.5 L1839.1,308.0 L1842.9,307.5 L1846.7,307.0 L1850.6,306.6 L1854.4,306.1 L1858.2,305.6 L1862.0,305.2 L1865.8,304.7 L1869.6,304.2 L1873.4,303.8 L1877.2,303.3 L1881.0,302.8 L1884.8,302.4 L1888.7,301.9 L1892.5,301.5 L1896.3,301.0 L1900.2,300.6 L1904.0,300.2 L1907.8,299.7 L1911.7,299.3 L1915.6,298.9 L1919.4,298.5 L1923.3,298.1 L1927.2,297.7 L1931.0,297.3 L1934.9,296.9 L1938.8,296.5 L1942.7,296.1 L1946.6,295.8 L1950.6,295.4 L1954.5,294.6"/>
<path d="M458.6,1018.3 L458.8,1016.3 L459.1,1014.3 L459.3,1012.3 L459.5,1010.3 L459.7,1008.3 L460.0,1006.3 L460.2,1004.4 L460.4,1002.3 L460.7,1000.4 L460.9,998.4 L461.2,996.4 L461.4,994.4 L461.7,992.4 L461.9,990.4 L462.2,988.5 L462.4,986.5 L462.7,984.5 L463.0,982.5 L463.2,980.5 L463.5,978.5 L463.8,976.5 L464.1,974.5 L464.4,972.6 L464.7,970.4 L465.0,968.7 L465.3,966.7 L465.6,964.6 L466.0,962.6 L466.3,960.7 L466.7,958.8 L467.0,956.8 L467.4,954.8 L467.8,952.7 L468.2,951.1 L468.6,949.1 L469.1,946.9 L469.5,945.1 L470.0,943.0 L470.5,941.3 L470.9,939.0 L471.4,937.0 L472.0,935.5 L472.5,933.0 L473.1,931.1 L473.6,929.5 L474.2,927.7 L474.8,925.4 L475.4,923.8 L476.1,921.7 L476.7,920.1 L477.3,918.1 L478.0,916.1 L478.7,914.2 L479.4,913.3 L480.1,910.5 L480.8,908.4 L481.5,906.6 L482.2,905.3 L483.0,903.2 L483.7,901.6 L484.5,899.2 L485.3,897.3 L486.0,896.1 L486.8,893.2 L487.6,891.9 L488.3,889.3 L489.1,888.2 L489.9,886.8 L490.7,884.2 L491.5,882.4 L492.3,879.8 L493.1,879.6 L493.9,878.1 L494.7,875.7 L495.5,873.0 L496.3,871.1 L497.1,870.4 L497.9,867.7 L498.7,867.0 L499.5,863.5 L500.3,863.8 L501.1,860.7 L502.0,857.6 L502.8,856.4 L503.6,854.9 L504.4,853.6 L505.3,851.8 L506.1,849.8 L507.0,848.6 L507.8,844.7 L508.7,843.9 L509.6,843.0 L510.4,840.7 L511.3,838.5 L512.2,838.6 L513.1,836.2 L514.0,833.2 L514.9,831.5 L515.8,830.0 L516.8,828.4 L517.7,826.4 L518.6,825.3 L519.6,822.5 L520.5,820.5 L521.5,819.1 L522.5,817.9 L523.5,816.2 L524.4,814.9 L525.4,811.9 L526.4,810.5 L527.4,808.7 L528.4,807.6 L529.4,804.0 L530.5,802.9 L531.5,801.5 L532.5,800.7 L533.6,798.5 L534.6,797.0 L535.7,794.4 L536.7,793.7 L537.8,792.1 L538.9,790.3 L540.0,788.2 L541.1,786.5 L542.2,785.0 L543.3,783.2 L544.4,782.3 L545.5,780.7 L546.7,777.3 L547.8,777.4 L549.0,774.6 L550.1,773.0 L551.3,772.0 L552.5,770.7 L553.7,767.7 L554.9,766.6 L556.1,764.9 L557.3,763.8 L558.5,761.9 L559.7,760.2 L561.0,758.9 L562.2,757.3 L563.5,756.4 L564.8,755.0 L566.1,751.9 L567.4,751.6 L568.7,750.8 L570.0,747.4 L571.3,746.4 L572.6,743.9 L574.0,744.1 L575.3,741.8 L576.7,740.8 L578.1,739.1 L579.4,739.1 L580.8,738.4 L582.2,735.7 L583.6,733.8 L585.0,731.9 L586.5,731.2 L587.9,729.6 L589.3,728.4 L590.8,726.4 L592.2,724.8 L593.7,724.7 L595.2,721.7 L596.6,721.8 L598.1,719.6 L599.6,718.6 L601.1,717.1 L602.6,716.2 L604.1,714.3 L605.6,712.9 L607.1,711.9 L608.6,710.5 L610.1,709.1 L611.6,708.1 L613.1,707.4 L614.6,705.0 L616.1,704.4 L617.6,702.8 L619.1,701.4 L620.6,702.2 L622.1,699.3 L623.6,697.9 L625.1,696.4 L626.7,694.2 L628.2,693.8 L629.7,692.3 L631.2,691.1 L632.7,688.8 L634.2,687.9 L635.7,687.6 L637.2,685.2 L638.7,683.9 L640.2,682.7 L641.7,682.2 L643.2,679.4 L644.7,678.3 L646.2,677.1 L647.8,675.7 L649.3,674.6 L650.8,672.9 L652.3,672.3 L653.8,670.4 L655.3,669.2 L656.8,667.8 L658.3,667.7 L659.8,665.8 L661.3,664.0 L662.8,663.2 L664.3,662.5 L665.8,663.6 L667.3,658.9 L668.9,657.5 L670.4,656.6 L671.9,656.1 L673.4,653.3 L674.9,652.2 L676.4,650.8 L677.9,650.0 L679.4,648.5 L680.9,647.1 L682.4,645.9 L683.9,644.9 L685.4,643.2 L687.0,642.1 L688.5,641.0 L690.0,639.4 L691.5,637.1 L693.1,636.0 L694.6,635.6 L696.2,633.9 L697.7,632.5 L699.3,631.6 L700.9,630.1 L702.5,628.9 L704.1,629.1 L705.7,628.9 L707.3,624.4 L709.0,624.8 L710.6,623.5 L712.2,621.5 L713.9,620.7 L715.6,619.3 L717.2,618.4 L718.9,617.3 L720.6,617.5 L722.3,614.9 L724.0,613.7 L725.6,612.6 L727.3,614.1 L729.0,611.2 L730.7,610.0 L732.4,608.8 L734.2,608.7 L735.9,607.2 L737.6,606.0 L739.3,604.5 L741.0,603.7 L742.7,603.1 L744.4,601.7 L746.1,600.1 L747.8,600.0 L749.5,598.0 L751.2,597.7 L752.9,596.3 L754.6,595.2 L756.3,594.2 L758.0,594.0 L759.7,592.1 L761.4,591.2 L763.1,589.9 L764.8,589.6 L766.6,588.0 L768.3,587.0 L770.0,585.6 L771.7,584.4 L773.4,584.6 L775.1,583.4 L776.8,580.9 L778.5,581.9 L780.2,579.6 L781.9,579.7 L783.6,578.9 L785.4,576.6 L787.1,576.6 L788.8,575.0 L790.5,573.6 L792.2,571.7 L794.0,571.8 L795.7,570.0 L797.4,569.5 L799.2,568.4 L800.9,567.5 L802.6,566.4 L804.4,565.9 L806.1,564.5 L807.9,562.5 L809.6,562.5 L811.4,561.6 L813.2,560.4 L814.9,560.3 L816.7,558.7 L818.4,557.3 L820.2,558.5 L822.0,555.8 L823.8,555.0 L825.5,553.8 L827.3,553.4 L829.1,552.1 L830.9,551.3 L832.7,550.9 L834.4,549.5 L836.2,548.5 L838.0,547.0 L839.8,546.2 L841.6,546.2 L843.4,545.4 L845.2,543.6 L847.0,543.2 L848.8,542.4 L850.6,541.6 L852.4,540.6 L854.2,540.5 L856.0,539.3 L857.8,538.1 L859.6,536.9 L861.5,535.4 L863.3,535.2 L865.1,534.9 L866.9,533.6 L868.7,532.5 L870.6,532.2 L872.4,531.1 L874.2,530.2 L876.0,529.4 L877.9,528.0 L879.7,527.4 L881.6,527.8 L883.4,525.9 L885.2,526.3 L887.1,524.5 L888.9,524.0 L890.8,522.8 L892.6,521.6 L894.5,522.3 L896.3,522.1 L898.2,520.5 L900.0,519.7 L901.9,518.6 L903.8,517.8 L905.6,517.9 L907.5,516.3 L909.3,515.6 L911.2,515.2 L913.0,513.2 L914.9,513.2 L916.7,513.6 L918.6,513.4 L920.5,510.9 L922.3,510.2 L924.2,509.8 L926.0,509.1 L927.9,508.2 L929.7,507.3 L931.6,506.2 L933.4,506.7 L935.3,505.7 L937.2,504.7 L939.0,503.3 L940.9,503.2 L942.7,502.0 L944.6,501.2 L946.4,500.3 L948.3,499.6 L950.1,499.3 L952.0,499.2 L953.9,497.4 L955.7,497.6 L957.6,496.9 L959.4,494.8 L961.3,493.8 L963.1,492.2 L965.0,493.5 L966.8,492.3 L968.7,491.5 L970.5,490.9 L972.4,489.2 L974.3,489.1 L976.1,487.9 L978.0,486.8 L979.8,487.6 L981.7,485.5 L983.5,485.2 L985.4,484.4 L987.3,483.2 L989.1,483.2 L991.0,482.6 L992.8,481.9 L994.7,481.1 L996.6,480.8 L998.4,478.8 L1000.3,477.8 L1002.2,476.9 L1004.1,477.4 L1005.9,476.9 L1007.8,476.0 L1009.7,474.3 L1011.6,474.5 L1013.5,474.4 L1015.3,473.7 L1017.2,473.4 L1019.1,472.4 L1021.0,470.9 L1022.9,470.9 L1024.8,470.0 L1026.7,469.2 L1028.6,468.4 L1030.5,466.8 L1032.4,467.7 L1034.3,467.2 L1036.2,465.8 L1038.1,465.0 L1040.0,464.5 L1041.9,464.3 L1043.8,463.0 L1045.7,462.6 L1047.6,463.2 L1049.5,462.7 L1051.4,460.4 L1053.3,461.7 L1055.2,459.5 L1057.1,459.2 L1059.0,457.3 L1060.9,457.0 L1062.8,456.6 L1064.7,456.5 L1066.7,455.5 L1068.6,455.4 L1070.5,455.2 L1072.4,454.4 L1074.3,453.6 L1076.2,452.8 L1078.1,453.1 L1080.1,451.8 L1082.0,451.6 L1083.9,450.9 L1085.8,452.2 L1087.7,449.8 L1089.7,449.7 L1091.6,450.4 L1093.5,448.3 L1095.4,447.6 L1097.4,446.7 L1099.3,445.7 L1101.2,446.3 L1103.2,445.8 L1105.1,443.7 L1107.0,444.2 L1109.0,444.3 L1110.9,443.2 L1112.8,442.0 L1114.8,442.0 L1116.7,441.5 L1118.6,441.3 L1120.6,440.8 L1122.5,440.0 L1124.4,439.9 L1126.4,438.8 L1128.3,438.6 L1130.2,437.8 L1132.2,437.4 L1134.1,437.4 L1136.1,436.9 L1138.0,435.7 L1139.9,435.5 L1141.9,436.1 L1143.8,434.2 L1145.7,433.4 L1147.7,433.2 L1149.6,432.9 L1151.5,432.4 L1153.5,432.1 L1155.4,432.2 L1157.3,430.3 L1159.3,430.0 L1161.2,430.2 L1163.1,428.8 L1165.1,427.8 L1167.0,428.8 L1168.9,428.0 L1170.9,426.1 L1172.8,426.3 L1174.8,426.1 L1176.7,425.6 L1178.6,424.6 L1180.6,425.0 L1182.5,426.3 L1184.4,422.8 L1186.4,422.5 L1188.3,422.1 L1190.2,421.8 L1192.2,421.1 L1194.1,420.6 L1196.0,420.3 L1198.0,418.6 L1199.9,420.0 L1201.8,418.8 L1203.8,419.6 L1205.7,417.6 L1207.6,417.4 L1209.6,418.0 L1211.5,415.9 L1213.4,415.1 L1215.4,414.3 L1217.3,414.6 L1219.3,414.4 L1221.2,413.9 L1223.1,413.1 L1225.1,412.4 L1227.0,410.6 L1228.9,411.3 L1230.9,410.6 L1232.8,409.9 L1234.7,410.4 L1236.7,410.1 L1238.6,409.0 L1240.6,406.8 L1242.5,408.1 L1244.4,406.5 L1246.4,408.3 L1248.3,406.8 L1250.3,405.9 L1252.2,404.2 L1254.1,404.9 L1256.1,404.0 L1258.0,403.9 L1260.0,403.0 L1261.9,403.2 L1263.9,403.4 L1265.8,401.9 L1267.8,400.9 L1269.7,402.4 L1271.7,402.3 L1273.6,400.0 L1275.6,399.7 L1277.6,398.9 L1279.5,398.4 L1281.5,399.4 L1283.4,397.4 L1285.4,396.7 L1287.3,397.2 L1289.3,398.7 L1291.3,395.9 L1293.2,396.8 L1295.2,396.3 L1297.1,395.0 L1299.1,395.0 L1301.1,394.9 L1303.0,393.3 L1305.0,394.1 L1307.0,392.5 L1308.9,393.2 L1310.9,391.7 L1312.8,391.4 L1314.8,390.3 L1316.8,390.8 L1318.7,391.0 L1320.7,390.2 L1322.7,390.1 L1324.6,389.6 L1326.6,389.9 L1328.6,388.5 L1330.5,388.5 L1332.5,388.2 L1334.4,388.1 L1336.4,387.0 L1338.4,387.5 L1340.3,386.1 L1342.3,386.3 L1344.3,384.6 L1346.2,384.5 L1348.2,384.0 L1350.1,383.1 L1352.1,382.9 L1354.1,382.8 L1356.0,383.3 L1358.0,382.9 L1360.0,381.8 L1361.9,382.0 L1363.9,381.2 L1365.8,379.2 L1367.8,380.0 L1369.8,380.0 L1371.7,380.5 L1373.7,378.4 L1375.7,378.9 L1377.6,379.3 L1379.6,378.8 L1381.6,378.3 L1383.5,379.3 L1385.5,376.2 L1387.5,377.1 L1389.4,376.5 L1391.4,374.7 L1393.4,376.9 L1395.3,375.8 L1397.3,374.9 L1399.3,374.6 L1401.2,373.1 L1403.2,374.0 L1405.2,373.7 L1407.1,373.6 L1409.1,372.2 L1411.1,373.3 L1413.0,371.6 L1415.0,371.6 L1417.0,370.8 L1419.0,370.8 L1420.9,368.9 L1422.9,369.5 L1424.9,369.8 L1426.8,369.6 L1428.8,369.2 L1430.8,367.6 L1432.8,367.9 L1434.7,368.8 L1436.7,367.5 L1438.7,367.5 L1440.6,366.6 L1442.6,366.9 L1444.6,366.3 L1446.6,366.4 L1448.5,364.8 L1450.5,365.0 L1452.5,364.9 L1454.5,364.5 L1456.4,364.6 L1458.4,364.1 L1460.4,362.6 L1462.4,363.6 L1464.3,362.3 L1466.3,362.0 L1468.3,361.9 L1470.3,361.4 L1472.2,361.8 L1474.2,360.8 L1476.2,360.5 L1478.2,360.5 L1480.1,359.8 L1482.1,360.2 L1484.1,360.5 L1486.1,358.0 L1488.0,358.2 L1490.0,359.0 L1492.0,357.8 L1494.0,357.1 L1496.0,356.9 L1497.9,357.3 L1499.9,357.0 L1501.9,356.8 L1503.9,356.3 L1505.9,356.1 L1507.8,354.8 L1509.8,355.1 L1511.8,355.5 L1513.8,355.2 L1515.8,354.7 L1517.7,353.3 L1519.7,352.6 L1521.7,353.2 L1523.7,353.8 L1525.6,352.6 L1527.6,351.5 L1529.6,351.7 L1531.6,351.7 L1533.6,352.3 L1535.5,350.1 L1537.5,350.9 L1539.5,350.4 L1541.5,350.3 L1543.5,349.9 L1545.4,349.6 L1547.4,348.3 L1549.4,348.8 L1551.4,349.4 L1553.4,348.4 L1555.3,348.3 L1557.3,347.1 L1559.3,348.0 L1561.3,347.4 L1563.2,347.7 L1565.2,346.8 L1567.2,346.0 L1569.2,345.2 L1571.2,345.0 L1573.1,343.9 L1575.1,345.3 L1577.1,344.4 L1579.1,343.6 L1581.1,343.2 L1583.0,343.3 L1585.0,343.0 L1587.0,342.9 L1589.0,342.5 L1591.0,341.2 L1592.9,341.1 L1594.9,340.8 L1596.9,342.0 L1598.9,340.6 L1600.8,340.2 L1602.8,340.6 L1604.8,341.6 L1606.8,340.2 L1608.8,338.7 L1610.7,338.9 L1612.7,338.1 L1614.7,338.6 L1616.7,338.0 L1618.7,338.2 L1620.6,337.3 L1622.6,337.3 L1624.6,336.8 L1626.6,336.5 L1628.6,336.5 L1630.5,335.4 L1632.5,335.8 L1634.5,335.2 L1636.5,335.3 L1638.4,334.7 L1640.4,334.8 L1642.4,333.4 L1644.4,333.7 L1646.4,332.9 L1648.3,333.1 L1650.3,332.7 L1652.3,332.6 L1654.3,331.4 L1656.3,331.2 L1658.2,332.4 L1660.2,331.0 L1662.2,329.9 L1664.2,331.0 L1666.2,329.6 L1668.1,329.6 L1670.1,329.8 L1672.1,328.5 L1674.1,328.8 L1676.1,328.8 L1678.0,327.9 L1680.0,328.4 L1682.0,327.1 L1684.0,327.4 L1686.0,327.3 L1688.0,326.7 L1689.9,326.4 L1691.9,326.2 L1693.9,327.2 L1695.9,326.2 L1697.9,325.1 L1699.9,324.7 L1701.8,324.9 L1703.8,324.7 L1705.8,324.0 L1707.8,323.6 L1709.8,324.4 L1711.8,323.3 L1713.7,323.4 L1715.7,323.8 L1717.7,322.4 L1719.7,322.6 L1721.7,322.9 L1723.7,322.9 L1725.7,322.1 L1727.6,321.6 L1729.6,321.0 L1731.6,320.5 L1733.6,320.7 L1735.6,321.3 L1737.6,320.5 L1739.6,320.1 L1741.6,319.0 L1743.5,319.0 L1745.5,318.7 L1747.5,319.1 L1749.5,318.3 L1751.5,317.4 L1753.5,316.7 L1755.5,318.1 L1757.5,318.1 L1759.4,317.5 L1761.4,316.8 L1763.4,317.3 L1765.4,317.1 L1767.4,316.1 L1769.4,315.9 L1771.4,315.2 L1773.4,316.6 L1775.4,315.1 L1777.3,317.9 L1779.3,314.2 L1781.3,314.9 L1783.3,313.9 L1785.3,314.4 L1787.3,314.3 L1789.3,314.3 L1791.3,313.9 L1793.3,313.5 L1795.2,312.8 L1797.2,312.8 L1799.2,311.9 L1801.2,310.9 L1803.2,311.9 L1805.2,311.0 L1807.2,311.3 L1809.2,310.6 L1811.2,312.1 L1813.1,310.6 L1815.1,310.3 L1817.1,310.2 L1819.1,309.6 L1821.1,309.6 L1823.1,309.5 L1825.1,310.2 L1827.1,309.0 L1829.1,309.1 L1831.0,309.0 L1833.0,308.5 L1835.0,308.7 L1837.0,307.5 L1839.0,307.9 L1841.0,308.0 L1843.0,307.9 L1845.0,306.2 L1847.0,307.0 L1848.9,305.7 L1850.9,305.3 L1852.9,307.1 L1854.9,306.6 L1856.9,305.0 L1858.9,305.9 L1860.9,304.4 L1862.9,305.2 L1864.9,304.6 L1866.8,304.1 L1868.8,304.5 L1870.8,302.2 L1872.8,302.9 L1874.8,302.9 L1876.8,303.5 L1878.8,302.5 L1880.8,302.7 L1882.8,301.8 L1884.7,301.9 L1886.7,301.3 L1888.7,301.5 L1890.7,301.6 L1892.7,300.5 L1894.7,301.5 L1896.7,300.1 L1898.7,300.3 L1900.7,298.5 L1902.7,300.2 L1904.6,300.2 L1906.6,299.6 L1908.6,299.5 L1910.6,297.9 L1912.6,298.0 L1914.6,298.5 L1916.6,298.3 L1918.6,297.4 L1920.6,298.2 L1922.6,297.8 L1924.6,297.1 L1926.6,297.8 L1928.6,297.4 L1930.6,297.2 L1932.5,296.8 L1934.5,297.3 L1936.5,296.6 L1938.5,297.9 L1940.5,295.8 L1942.5,295.6 L1944.5,295.1 L1946.5,295.4 L1948.5,295.9 L1950.5,294.9 L1952.5,294.9 L1954.5,294.6"/>
</g>
<g stroke="#008000">
<path d="M459.0,1325.7 L459.1,1320.1 L459.3,1315.0 L459.5,1309.9 L459.6,1304.8 L459.8,1299.7 L459.9,1294.6 L460.1,1289.5 L460.3,1284.4 L460.5,1279.3 L460.6,1274.3 L460.8,1269.2 L461.0,1264.1 L461.2,1259.1 L461.5,1254.1 L461.7,1249.1 L462.0,1244.1 L462.3,1239.1 L462.6,1234.2 L463.0,1229.3 L463.3,1224.4 L463.7,1219.5 L464.1,1214.6 L464.6,1209.8 L465.0,1205.0 L465.4,1200.1 L465.9,1195.3 L466.3,1190.5 L466.8,1185.7 L467.3,1180.9 L467.7,1176.1 L468.2,1171.4 L468.7,1166.6 L469.2,1161.8 L469.7,1157.0 L470.2,1152.3 L470.7,1147.5 L471.2,1142.8 L471.7,1138.0 L472.3,1133.3 L472.8,1128.6 L473.4,1123.9 L474.0,1119.2 L474.6,1114.6 L475.2,1109.9 L475.8,1105.3 L476.5,1100.7 L477.2,1096.1 L477.9,1091.5 L478.6,1087.0 L479.3,1082.5 L480.1,1078.0 L480.9,1073.5 L481.7,1069.1 L482.5,1064.7 L483.4,1060.3 L484.3,1055.9 L485.3,1051.6 L486.2,1047.3 L487.2,1043.0 L488.2,1038.7 L489.2,1034.5 L490.2,1030.2 L491.3,1026.0 L492.3,1021.8 L493.4,1017.6 L494.5,1013.4 L495.5,1009.2 L496.6,1005.0 L497.7,1000.9 L498.7,996.7 L499.8,992.5 L500.9,988.3 L502.0,984.1 L503.0,979.9 L504.1,975.7 L505.2,971.6 L506.3,967.4 L507.4,963.2 L508.5,959.1 L509.6,954.9 L510.8,950.8 L512.0,946.7 L513.2,942.7 L514.4,938.6 L515.6,934.6 L516.9,930.6 L518.2,926.7 L519.6,922.8 L520.9,918.9 L522.3,915.0 L523.8,911.2 L525.2,907.3 L526.6,903.5 L528.1,899.8 L529.6,896.0 L531.1,892.2 L532.6,888.5 L534.2,884.8 L535.7,881.0 L537.3,877.3 L538.9,873.7 L540.5,870.0 L542.1,866.3 L543.7,862.7 L545.3,859.1 L546.9,855.4 L548.6,851.8 L550.2,848.2 L551.9,844.6 L553.6,841.0 L555.2,837.4 L556.9,833.9 L558.6,830.3 L560.3,826.7 L562.0,823.2 L563.8,819.7 L565.5,816.1 L567.3,812.6 L569.1,809.2 L570.9,805.7 L572.7,802.3 L574.6,798.9 L576.5,795.5 L578.4,792.2 L580.3,788.8 L582.3,785.6 L584.3,782.3 L586.3,779.1 L588.4,775.9 L590.5,772.7 L592.6,769.6 L594.8,766.5 L596.9,763.4 L599.1,760.3 L601.3,757.2 L603.6,754.2 L605.8,751.2 L608.1,748.2 L610.4,745.2 L612.7,742.3 L615.0,739.4 L617.4,736.4 L619.7,733.5 L622.1,730.7 L624.5,727.8 L627.0,725.0 L629.4,722.2 L631.9,719.4 L634.3,716.6 L636.8,713.8 L639.3,711.1 L641.9,708.3 L644.4,705.6 L646.9,702.9 L649.5,700.1 L652.0,697.4 L654.5,694.7 L657.1,692.0 L659.6,689.2 L662.2,686.5 L664.7,683.8 L667.2,681.1 L669.8,678.4 L672.3,675.6 L674.9,672.9 L677.4,670.2 L680.0,667.5 L682.6,664.8 L685.2,662.2 L687.8,659.6 L690.5,656.9 L693.2,654.4 L695.9,651.8 L698.7,649.4 L701.5,646.9 L704.4,644.5 L707.2,642.1 L710.2,639.8 L713.1,637.5 L716.1,635.2 L719.1,632.9 L722.1,630.7 L725.1,628.4 L728.1,626.1 L731.1,623.9 L734.0,621.6 L737.0,619.3 L740.0,617.1 L743.0,614.8 L746.0,612.5 L749.0,610.2 L752.0,608.0 L755.0,605.7 L758.0,603.4 L761.0,601.2 L764.0,598.9 L767.0,596.6 L770.0,594.4 L773.0,592.1 L776.0,589.9 L779.0,587.6 L782.1,585.4 L785.1,583.2 L788.2,581.1 L791.3,578.9 L794.5,576.8 L797.6,574.7 L800.8,572.6 L804.0,570.5 L807.2,568.5 L810.5,566.5 L813.7,564.5 L817.0,562.5 L820.4,560.6 L823.7,558.6 L827.0,556.7 L830.4,554.8 L833.8,553.0 L837.2,551.1 L840.6,549.3 L844.0,547.4 L847.5,545.6 L850.9,543.8 L854.4,542.0 L857.9,540.2 L861.4,538.5 L864.9,536.7 L868.4,535.0 L872.0,533.3 L875.6,531.6 L879.2,529.9 L882.8,528.3 L886.4,526.7 L890.1,525.1 L893.8,523.5 L897.5,522.0 L901.3,520.5 L905.0,519.0 L908.8,517.5 L912.6,516.0 L916.3,514.5 L920.1,513.0 L923.9,511.5 L927.7,510.0 L931.4,508.5 L935.2,507.1 L939.0,505.6 L942.8,504.1 L946.5,502.6 L950.3,501.1 L954.1,499.6 L957.9,498.1 L961.6,496.7 L965.4,495.2 L969.2,493.7 L973.0,492.2 L976.8,490.8 L980.6,489.3 L984.4,487.8 L988.2,486.4 L992.1,485.0 L996.0,483.6 L999.8,482.2 L1003.7,480.8 L1007.6,479.5 L1011.5,478.1 L1015.5,476.8 L1019.4,475.5 L1023.4,474.2 L1027.4,472.9 L1031.3,471.6 L1035.3,470.3 L1039.3,469.1 L1043.3,467.8 L1047.3,466.5 L1051.3,465.3 L1055.3,464.0 L1059.3,462.7 L1063.3,461.5 L1067.3,460.3 L1071.4,459.0 L1075.4,457.8 L1079.5,456.7 L1083.6,455.5 L1087.7,454.3 L1091.8,453.2 L1095.9,452.0 L1100.1,450.9 L1104.3,449.9 L1108.5,448.8 L1112.7,447.7 L1116.9,446.7 L1121.1,445.6 L1125.3,444.6 L1129.6,443.6 L1133.8,442.6 L1138.1,441.6 L1142.3,440.5 L1146.6,439.5 L1150.8,438.5 L1155.1,437.5 L1159.3,436.5 L1163.6,435.5 L1167.8,434.5 L1172.1,433.5 L1176.3,432.5 L1180.6,431.4 L1184.8,430.4 L1189.1,429.4 L1193.3,428.4 L1197.6,427.4 L1201.9,426.4 L1206.1,425.4 L1210.4,424.4 L1214.7,423.4 L1219.0,422.5 L1223.3,421.5 L1227.6,420.5 L1231.9,419.6 L1236.2,418.6 L1240.5,417.7 L1244.9,416.8 L1249.2,415.9 L1253.6,415.0 L1258.0,414.1 L1262.3,413.2 L1266.7,412.3 L1271.1,411.5 L1275.5,410.6 L1279.9,409.7 L1284.3,408.9 L1288.7,408.0 L1293.1,407.2 L1297.5,406.3 L1301.9,405.4 L1306.3,404.6 L1310.7,403.7 L1315.1,402.9 L1319.5,402.0 L1323.9,401.2 L1328.3,400.3 L1332.8,399.4 L1337.2,398.6 L1341.6,397.7 L1346.0,396.9 L1350.4,396.0 L1354.8,395.2 L1359.2,394.3 L1363.6,393.5 L1368.0,392.6 L1372.4,391.7 L1376.8,390.9 L1381.2,390.0 L1385.6,389.2 L1390.1,388.4 L1394.5,387.5 L1399.0,386.7 L1403.4,386.0 L1408.0,385.2 L1412.5,384.5 L1417.0,383.7 L1421.6,383.0 L1426.2,382.4 L1430.8,381.7 L1435.4,381.1 L1440.0,380.5 L1444.7,379.8 L1449.3,379.2 L1454.0,378.6 L1458.7,378.0 L1463.3,377.4 L1468.0,376.8 L1472.6,376.2 L1477.3,375.6 L1481.9,375.0 L1486.6,374.4 L1491.3,373.8 L1495.9,373.2 L1500.6,372.6 L1505.2,372.0 L1509.9,371.4 L1514.5,370.8 L1519.2,370.2 L1523.8,369.5 L1528.5,368.9 L1533.2,368.3 L1537.8,367.7 L1542.5,367.1 L1547.1,366.5 L1551.8,365.9 L1556.4,365.3 L1561.1,364.7 L1565.8,364.1 L1570.4,363.5 L1575.1,362.9 L1579.7,362.3 L1584.4,361.7 L1589.0,361.1 L1593.7,360.5 L1598.4,359.9 L1603.0,359.3 L1607.7,358.7 L1612.3,358.0 L1617.0,357.4 L1621.6,356.8 L1626.3,356.2 L1630.9,355.6 L1635.6,355.0 L1640.3,354.4 L1644.9,353.8 L1649.6,353.2 L1654.2,352.6 L1658.9,352.0 L1663.6,351.4 L1668.3,350.9 L1673.0,350.3 L1677.7,349.7 L1682.4,349.2 L1687.1,348.7 L1691.9,348.1 L1696.6,347.6 L1701.4,347.1 L1706.1,346.6 L1710.9,346.1 L1715.6,345.6 L1720.4,345.1 L1725.1,344.6 L1729.9,344.1 L1734.7,343.6 L1739.4,343.1 L1744.2,342.6 L1748.9,342.1 L1753.7,341.5 L1758.4,341.0 L1763.2,340.5 L1767.9,340.0 L1772.7,339.5 L1777.5,339.0 L1782.2,338.5 L1787.0,338.0 L1791.7,337.5 L1796.5,337.0 L1801.2,336.5 L1806.0,336.0 L1810.8,335.5 L1815.5,335.0 L1820.3,334.5 L1825.0,334.0 L1829.8,333.5 L1834.5,333.0 L1839.3,332.5 L1844.1,332.0 L1848.8,331.5 L1853.6,331.0 L1858.3,330.5 L1863.1,330.0 L1867.9,329.5 L1872.7,329.0 L1877.5,328.5 L1882.3,328.1 L1887.1,327.6 L1891.9,327.2 L1896.7,326.7 L1901.6,326.3 L1906.4,325.9 L1911.2,325.5 L1916.1,325.1 L1920.9,324.6 L1925.8,324.2 L1930.6,323.8 L1935.5,323.4 L1940.3,323.0 L1945.2,322.6 L1950.0,322.1 L1954.8,321.7 L1959.7,321.3 L1964.5,320.9 L1969.4,320.5 L1974.2,320.0 L1979.1,319.6 L1983.9,319.2 L1988.8,318.8 L1993.6,318.4 L1998.4,318.0 L2003.3,317.5 L2008.1,317.1 L2013.0,316.7 L2017.8,316.3 L2022.7,315.9 L2027.5,315.5 L2032.4,315.0 L2037.2,314.6 L2042.0,314.2 L2046.9,313.8 L2051.7,313.4 L2056.6,312.9 L2061.4,312.5 L2066.3,312.1 L2071.1,311.7 L2076.0,311.3 L2080.8,310.9 L2085.6,310.4 L2090.5,310.0 L2095.3,309.6 L2100.2,309.2 L2105.0,308.8 L2109.9,308.4 L2114.7,307.9 L2119.5,307.5 L2124.4,307.1 L2129.2,306.7 L2134.1,306.3 L2138.9,305.8 L2143.8,305.4 L2148.6,305.0 L2153.5,304.6 L2158.3,304.2 L2163.1,303.8 L2168.0,303.3 L2174.0,302.8"/>
<path d="M459.0,1325.7 L459.1,1321.0 L459.3,1315.9 L459.5,1310.8 L459.6,1305.7 L459.8,1300.6 L459.9,1295.5 L460.1,1290.4 L460.3,1285.3 L460.5,1280.2 L460.6,1275.2 L460.8,1270.1 L461.0,1265.0 L461.2,1260.0 L461.5,1255.0 L461.7,1250.0 L462.0,1245.0 L462.3,1240.0 L462.6,1235.1 L463.0,1230.2 L463.3,1225.3 L463.7,1220.4 L464.1,1215.5 L464.6,1210.7 L465.0,1205.9 L465.4,1201.0 L465.9,1196.2 L466.3,1191.4 L466.8,1186.6 L467.3,1181.8 L467.7,1177.0 L468.2,1172.3 L468.7,1167.5 L469.2,1162.7 L469.7,1157.9 L470.2,1153.2 L470.7,1148.4 L471.2,1143.7 L471.7,1138.9 L472.3,1134.2 L472.8,1129.5 L473.4,1124.8 L474.0,1120.1 L474.6,1115.5 L475.2,1110.8 L475.8,1106.2 L476.5,1101.6 L477.2,1097.0 L477.9,1092.4 L478.6,1087.9 L479.3,1083.4 L480.1,1078.9 L480.9,1074.4 L481.7,1070.0 L482.5,1065.6 L483.4,1061.2 L484.3,1056.8 L485.3,1052.5 L486.2,1048.2 L487.2,1043.9 L488.2,1039.6 L489.2,1035.4 L490.2,1031.1 L491.3,1026.9 L492.3,1022.7 L493.4,1018.5 L494.5,1014.3 L495.5,1010.1 L496.6,1005.9 L497.7,1001.8 L498.7,997.6 L499.8,993.4 L500.9,989.2 L502.0,985.0 L503.0,980.8 L504.1,976.6 L505.2,972.5 L506.3,968.3 L507.4,964.1 L508.5,960.0 L509.6,955.8 L510.8,951.7 L512.0,947.6 L513.2,943.6 L514.4,939.5 L515.6,935.5 L516.9,931.5 L518.2,927.6 L519.6,923.7 L520.9,919.8 L522.3,915.9 L523.8,912.1 L525.2,908.2 L526.6,904.4 L528.1,900.7 L529.6,896.9 L531.1,893.1 L532.6,889.4 L534.2,885.7 L535.7,881.9 L537.3,878.2 L538.9,874.6 L540.5,870.9 L542.1,867.2 L543.7,863.6 L545.3,860.0 L546.9,856.3 L548.6,852.7 L550.2,849.1 L551.9,845.5 L553.6,841.9 L555.2,838.3 L556.9,834.8 L558.6,831.2 L560.3,827.6 L562.0,824.1 L563.8,820.6 L565.5,817.0 L567.3,813.5 L569.1,810.1 L570.9,806.6 L572.7,803.2 L574.6,799.8 L576.5,796.4 L578.4,793.1 L580.3,789.7 L582.3,786.5 L584.3,783.2 L586.3,780.0 L588.4,776.8 L590.5,773.6 L592.6,770.5 L594.8,767.4 L596.9,764.3 L599.1,761.2 L601.3,758.1 L603.6,755.1 L605.8,752.1 L608.1,749.1 L610.4,746.1 L612.7,743.2 L615.0,740.3 L617.4,737.3 L619.7,734.4 L622.1,731.6 L624.5,728.7 L627.0,725.9 L629.4,723.1 L631.9,720.3 L634.3,717.5 L636.8,714.7 L639.3,712.0 L641.9,709.2 L644.4,706.5 L646.9,703.8 L649.5,701.0 L652.0,698.3 L654.5,695.6 L657.1,692.9 L659.6,690.1 L662.2,687.4 L664.7,684.7 L667.2,682.0 L669.8,679.3 L672.3,676.5 L674.9,673.8 L677.4,671.1 L680.0,668.4 L682.6,665.7 L685.2,663.1 L687.8,660.5 L690.5,657.8 L693.2,655.3 L695.9,652.7 L698.7,650.3 L701.5,647.8 L704.4,645.4 L707.2,643.0 L710.2,640.7 L713.1,638.4 L716.1,636.1 L719.1,633.8 L722.1,631.6 L725.1,629.3 L728.1,627.0 L731.1,624.8 L734.0,622.5 L737.0,620.2 L740.0,618.0 L743.0,615.7 L746.0,613.4 L749.0,611.1 L752.0,608.9 L755.0,606.6 L758.0,604.3 L761.0,602.1 L764.0,599.8 L767.0,597.5 L770.0,595.3 L773.0,593.0 L776.0,590.8 L779.0,588.5 L782.1,586.3 L785.1,584.1 L788.2,582.0 L791.3,579.8 L794.5,577.7 L797.6,575.6 L800.8,573.5 L804.0,571.4 L807.2,569.4 L810.5,567.4 L813.7,565.4 L817.0,563.4 L820.4,561.5 L823.7,559.5 L827.0,557.6 L830.4,555.7 L833.8,553.9 L837.2,552.0 L840.6,550.2 L844.0,548.3 L847.5,546.5 L850.9,544.7 L854.4,542.9 L857.9,541.1 L861.4,539.4 L864.9,537.6 L868.4,535.9 L872.0,534.2 L875.6,532.5 L879.2,530.8 L882.8,529.2 L886.4,527.6 L890.1,526.0 L893.8,524.4 L897.5,522.9 L901.3,521.4 L905.0,519.9 L908.8,518.4 L912.6,516.9 L916.3,515.4 L920.1,513.9 L923.9,512.4 L927.7,510.9 L931.4,509.4 L935.2,508.0 L939.0,506.5 L942.8,505.0 L946.5,503.5 L950.3,502.0 L954.1,500.5 L957.9,499.0 L961.6,497.6 L965.4,496.1 L969.2,494.6 L973.0,493.1 L976.8,491.7 L980.6,490.2 L984.4,488.7 L988.2,487.3 L992.1,485.9 L996.0,484.5 L999.8,483.1 L1003.7,481.7 L1007.6,480.4 L1011.5,479.0 L1015.5,477.7 L1019.4,476.4 L1023.4,475.1 L1027.4,473.8 L1031.3,472.5 L1035.3,471.2 L1039.3,470.0 L1043.3,468.7 L1047.3,467.4 L1051.3,466.2 L1055.3,464.9 L1059.3,463.6 L1063.3,462.4 L1067.3,461.2 L1071.4,459.9 L1075.4,458.7 L1079.5,457.6 L1083.6,456.4 L1087.7,455.2 L1091.8,454.1 L1095.9,452.9 L1100.1,451.8 L1104.3,450.8 L1108.5,449.7 L1112.7,448.6 L1116.9,447.6 L1121.1,446.5 L1125.3,445.5 L1129.6,444.5 L1133.8,443.5 L1138.1,442.5 L1142.3,441.4 L1146.6,440.4 L1150.8,439.4 L1155.1,438.4 L1159.3,437.4 L1163.6,436.4 L1167.8,435.4 L1172.1,434.4 L1176.3,433.4 L1180.6,432.3 L1184.8,431.3 L1189.1,430.3 L1193.3,429.3 L1197.6,428.3 L1201.9,427.3 L1206.1,426.3 L1210.4,425.3 L1214.7,424.3 L1219.0,423.4 L1223.3,422.4 L1227.6,421.4 L1231.9,420.5 L1236.2,419.5 L1240.5,418.6 L1244.9,417.7 L1249.2,416.8 L1253.6,415.9 L1258.0,415.0 L1262.3,414.1 L1266.7,413.2 L1271.1,412.4 L1275.5,411.5 L1279.9,410.6 L1284.3,409.8 L1288.7,408.9 L1293.1,408.1 L1297.5,407.2 L1301.9,406.3 L1306.3,405.5 L1310.7,404.6 L1315.1,403.8 L1319.5,402.9 L1323.9,402.1 L1328.3,401.2 L1332.8,400.3 L1337.2,399.5 L1341.6,398.6 L1346.0,397.8 L1350.4,396.9 L1354.8,396.1 L1359.2,395.2 L1363.6,394.4 L1368.0,393.5 L1372.4,392.6 L1376.8,391.8 L1381.2,390.9 L1385.6,390.1 L1390.1,389.3 L1394.5,388.4 L1399.0,387.6 L1403.4,386.9 L1408.0,386.1 L1412.5,385.4 L1417.0,384.6 L1421.6,383.9 L1426.2,383.3 L1430.8,382.6 L1435.4,382.0 L1440.0,381.4 L1444.7,380.7 L1449.3,380.1 L1454.0,379.5 L1458.7,378.9 L1463.3,378.3 L1468.0,377.7 L1472.6,377.1 L1477.3,376.5 L1481.9,375.9 L1486.6,375.3 L1491.3,374.7 L1495.9,374.1 L1500.6,373.5 L1505.2,372.9 L1509.9,372.3 L1514.5,371.7 L1519.2,371.1 L1523.8,370.4 L1528.5,369.8 L1533.2,369.2 L1537.8,368.6 L1542.5,368.0 L1547.1,367.4 L1551.8,366.8 L1556.4,366.2 L1561.1,365.6 L1565.8,365.0 L1570.4,364.4 L1575.1,363.8 L1579.7,363.2 L1584.4,362.6 L1589.0,362.0 L1593.7,361.4 L1598.4,360.8 L1603.0,360.2 L1607.7,359.6 L1612.3,358.9 L1617.0,358.3 L1621.6,357.7 L1626.3,357.1 L1630.9,356.5 L1635.6,355.9 L1640.3,355.3 L1644.9,354.7 L1649.6,354.1 L1654.2,353.5 L1658.9,352.9 L1663.6,352.3 L1668.3,351.8 L1673.0,351.2 L1677.7,350.6 L1682.4,350.1 L1687.1,349.6 L1691.9,349.0 L1696.6,348.5 L1701.4,348.0 L1706.1,347.5 L1710.9,347.0 L1715.6,346.5 L1720.4,346.0 L1725.1,345.5 L1729.9,345.0 L1734.7,344.5 L1739.4,344.0 L1744.2,343.5 L1748.9,343.0 L1753.7,342.4 L1758.4,341.9 L1763.2,341.4 L1767.9,340.9 L1772.7,340.4 L1777.5,339.9 L1782.2,339.4 L1787.0,338.9 L1791.7,338.4 L1796.5,337.9 L1801.2,337.4 L1806.0,336.9 L1810.8,336.4 L1815.5,335.9 L1820.3,335.4 L1825.0,334.9 L1829.8,334.4 L1834.5,333.9 L1839.3,333.4 L1844.1,332.9 L1848.8,332.4 L1853.6,331.9 L1858.3,331.4 L1863.1,330.9 L1867.9,330.4 L1872.7,329.9 L1877.5,329.4 L1882.3,329.0 L1887.1,328.5 L1891.9,328.1 L1896.7,327.6 L1901.6,327.2 L1906.4,326.8 L1911.2,326.4 L1916.1,326.0 L1920.9,325.5 L1925.8,325.1 L1930.6,324.7 L1935.5,324.3 L1940.3,323.9 L1945.2,323.5 L1950.0,323.0 L1954.8,322.6 L1959.7,322.2 L1964.5,321.8 L1969.4,321.4 L1974.2,320.9 L1979.1,320.5 L1983.9,320.1 L1988.8,319.7 L1993.6,319.3 L1998.4,318.9 L2003.3,318.4 L2008.1,318.0 L2013.0,317.6 L2017.8,317.2 L2022.7,316.8 L2027.5,316.4 L2032.4,315.9 L2037.2,315.5 L2042.0,315.1 L2046.9,314.7 L2051.7,314.3 L2056.6,313.8 L2061.4,313.4 L2066.3,313.0 L2071.1,312.6 L2076.0,312.2 L2080.8,311.8 L2085.6,311.3 L2090.5,310.9 L2095.3,310.5 L2100.2,310.1 L2105.0,309.7 L2109.9,309.3 L2114.7,308.8 L2119.5,308.4 L2124.4,308.0 L2129.2,307.6 L2134.1,307.2 L2138.9,306.7 L2143.8,306.3 L2148.6,305.9 L2153.5,305.5 L2158.3,305.1 L2163.1,304.7 L2168.0,304.2 L2174.0,303.7"/>
<path d="M459.0,1325.7 L459.0,1323.7 L459.1,1321.7 L459.2,1319.7 L459.2,1317.7 L459.3,1315.7 L459.3,1313.7 L459.4,1311.6 L459.5,1309.6 L459.5,1307.6 L459.6,1305.7 L459.7,1303.6 L459.7,1301.7 L459.8,1299.6 L459.9,1297.6 L459.9,1295.6 L460.0,1293.7 L460.1,1291.7 L460.1,1289.7 L460.2,1287.6 L460.3,1285.7 L460.3,1283.6 L460.4,1281.6 L460.5,1279.6 L460.5,1277.6 L460.6,1275.6 L460.7,1273.6 L460.8,1271.6 L460.8,1269.6 L460.9,1267.6 L461.0,1265.6 L461.1,1263.6 L461.2,1261.6 L461.2,1259.6 L461.3,1257.6 L461.4,1255.6 L461.5,1253.7 L461.6,1251.6 L461.7,1249.6 L461.8,1247.5 L462.0,1245.6 L462.1,1243.5 L462.2,1241.6 L462.3,1239.6 L462.4,1237.7 L462.6,1235.7 L462.7,1233.8 L462.9,1231.6 L463.0,1229.6 L463.1,1227.5 L463.3,1225.6 L463.4,1223.6 L463.6,1221.7 L463.8,1219.6 L463.9,1217.6 L464.1,1215.8 L464.3,1213.6 L464.4,1211.7 L464.6,1209.7 L464.8,1207.7 L465.0,1205.6 L465.1,1203.6 L465.3,1201.6 L465.5,1199.8 L465.7,1197.8 L465.9,1195.6 L466.1,1193.7 L466.3,1191.8 L466.5,1189.7 L466.6,1187.6 L466.8,1185.6 L467.0,1183.6 L467.2,1181.7 L467.4,1179.8 L467.6,1177.9 L467.8,1175.7 L468.0,1173.8 L468.2,1171.9 L468.4,1169.6 L468.6,1167.8 L468.8,1165.7 L469.0,1163.9 L469.2,1161.9 L469.4,1160.1 L469.7,1157.9 L469.9,1155.6 L470.1,1153.8 L470.3,1152.1 L470.5,1150.0 L470.7,1148.0 L470.9,1145.9 L471.1,1143.7 L471.4,1141.9 L471.6,1140.1 L471.8,1137.7 L472.0,1136.2 L472.3,1134.0 L472.5,1132.4 L472.7,1130.0 L473.0,1128.0 L473.2,1125.9 L473.5,1124.1 L473.7,1122.3 L473.9,1120.0 L474.2,1118.1 L474.5,1115.8 L474.7,1114.6 L475.0,1112.3 L475.2,1110.1 L475.5,1108.0 L475.8,1106.6 L476.1,1104.4 L476.3,1101.9 L476.6,1100.4 L476.9,1098.2 L477.2,1096.8 L477.5,1094.1 L477.8,1092.6 L478.1,1090.6 L478.4,1088.1 L478.8,1086.1 L479.1,1084.7 L479.4,1082.4 L479.7,1080.2 L480.1,1078.4 L480.4,1076.9 L480.8,1074.8 L481.1,1072.9 L481.5,1071.0 L481.9,1068.5 L482.2,1066.7 L482.6,1064.8 L483.0,1062.3 L483.4,1060.4 L483.8,1060.1 L484.2,1056.5 L484.6,1055.3 L485.1,1052.0 L485.5,1051.5 L485.9,1049.6 L486.4,1046.9 L486.8,1045.0 L487.2,1043.4 L487.7,1041.5 L488.2,1038.9 L488.6,1036.9 L489.1,1035.5 L489.6,1033.9 L490.0,1031.9 L490.5,1029.6 L491.0,1028.3 L491.5,1026.0 L492.0,1024.3 L492.5,1022.9 L493.0,1019.4 L493.4,1018.9 L493.9,1016.0 L494.4,1013.9 L494.9,1012.3 L495.4,1011.7 L495.9,1007.7 L496.4,1006.2 L496.9,1005.0 L497.4,1001.9 L497.9,1000.5 L498.4,999.7 L498.9,996.9 L499.4,994.7 L499.9,992.4 L500.4,990.6 L500.9,988.8 L501.4,987.3 L501.9,985.7 L502.4,982.3 L502.9,980.3 L503.4,979.1 L503.9,977.9 L504.4,975.6 L504.9,973.0 L505.4,971.3 L505.9,970.2 L506.4,967.1 L506.9,965.4 L507.4,963.8 L507.9,962.0 L508.5,960.0 L509.0,957.6 L509.5,955.5 L510.0,954.1 L510.6,951.3 L511.1,949.5 L511.7,947.9 L512.2,946.2 L512.8,944.2 L513.4,941.9 L514.0,939.8 L514.5,938.2 L515.1,936.2 L515.7,934.8 L516.4,931.9 L517.0,931.8 L517.6,929.0 L518.2,927.5 L518.9,925.2 L519.5,923.6 L520.2,920.9 L520.9,919.6 L521.5,917.3 L522.2,916.4 L522.9,913.5 L523.6,912.9 L524.3,910.0 L525.0,909.2 L525.7,906.8 L526.4,904.1 L527.2,903.2 L527.9,900.6 L528.6,898.9 L529.4,896.9 L530.1,895.2 L530.8,893.4 L531.6,891.0 L532.3,889.8 L533.1,887.6 L533.9,886.2 L534.6,884.1 L535.4,881.1 L536.2,879.7 L537.0,878.6 L537.8,877.4 L538.5,874.9 L539.3,873.4 L540.1,871.2 L540.9,868.9 L541.7,867.5 L542.6,865.9 L543.4,863.7 L544.2,860.8 L545.0,859.1 L545.8,860.4 L546.6,856.2 L547.5,855.2 L548.3,852.9 L549.1,850.0 L550.0,849.8 L550.8,846.8 L551.6,845.6 L552.5,843.9 L553.3,842.0 L554.2,839.5 L555.0,838.7 L555.9,837.3 L556.7,835.4 L557.6,832.4 L558.4,830.9 L559.3,829.7 L560.2,827.1 L561.0,825.5 L561.9,825.0 L562.8,821.4 L563.7,820.0 L564.6,817.5 L565.5,816.5 L566.4,815.1 L567.3,813.3 L568.2,811.4 L569.1,809.9 L570.0,808.6 L571.0,806.5 L571.9,804.3 L572.8,801.9 L573.8,800.2 L574.8,798.8 L575.7,796.5 L576.7,794.6 L577.7,794.7 L578.7,792.5 L579.7,791.2 L580.8,787.5 L581.8,787.1 L582.8,786.0 L583.9,784.0 L584.9,781.4 L586.0,780.5 L587.1,779.4 L588.2,777.1 L589.3,775.8 L590.4,773.7 L591.5,772.1 L592.6,770.2 L593.8,769.5 L594.9,766.6 L596.0,766.1 L597.2,763.1 L598.4,762.0 L599.5,762.3 L600.7,759.1 L601.9,757.4 L603.1,754.7 L604.3,753.4 L605.5,751.9 L606.7,750.1 L607.9,749.1 L609.1,747.7 L610.3,744.1 L611.6,744.4 L612.8,742.4 L614.0,740.6 L615.3,739.3 L616.5,738.0 L617.8,736.4 L619.1,734.1 L620.3,732.9 L621.6,732.1 L622.9,730.3 L624.2,727.9 L625.5,727.4 L626.8,725.7 L628.1,724.1 L629.4,721.9 L630.7,721.2 L632.1,719.0 L633.4,717.0 L634.7,717.5 L636.1,714.3 L637.4,713.2 L638.8,711.6 L640.1,711.1 L641.5,709.0 L642.8,708.4 L644.2,705.8 L645.6,704.8 L646.9,702.9 L648.3,701.9 L649.6,700.1 L651.0,697.9 L652.4,697.1 L653.7,695.6 L655.1,694.6 L656.5,693.1 L657.8,691.8 L659.2,690.7 L660.6,688.8 L661.9,687.5 L663.3,685.7 L664.7,684.3 L666.0,682.1 L667.4,681.8 L668.8,679.6 L670.1,678.9 L671.5,676.2 L672.9,675.4 L674.2,673.9 L675.6,671.7 L677.0,670.8 L678.4,670.4 L679.7,667.4 L681.1,667.1 L682.5,665.7 L683.9,663.6 L685.3,661.5 L686.7,660.0 L688.2,660.1 L689.6,657.9 L691.0,656.3 L692.5,655.1 L693.9,654.3 L695.4,653.2 L696.9,651.9 L698.4,650.2 L699.9,649.4 L701.4,647.7 L702.9,646.7 L704.5,644.6 L706.0,643.9 L707.6,642.0 L709.1,641.3 L710.7,639.5 L712.3,638.3 L713.9,637.7 L715.5,636.8 L717.1,634.9 L718.6,633.3 L720.2,632.5 L721.8,633.0 L723.4,630.7 L725.0,628.3 L726.6,627.4 L728.2,626.3 L729.8,625.8 L731.4,623.4 L733.0,623.5 L734.6,620.9 L736.2,620.9 L737.8,619.3 L739.4,617.6 L741.0,617.2 L742.6,615.4 L744.2,615.4 L745.8,613.2 L747.4,612.8 L749.0,610.4 L750.5,607.9 L752.1,608.3 L753.7,608.4 L755.3,606.9 L756.9,604.5 L758.5,604.6 L760.1,602.0 L761.7,601.7 L763.3,600.6 L764.9,600.0 L766.5,598.1 L768.1,595.8 L769.7,595.5 L771.3,594.5 L772.9,592.8 L774.5,591.6 L776.1,590.1 L777.7,590.6 L779.3,588.1 L781.0,586.3 L782.6,586.0 L784.2,585.0 L785.8,583.5 L787.5,582.7 L789.1,580.8 L790.8,580.5 L792.4,578.9 L794.1,577.4 L795.7,577.1 L797.4,575.5 L799.1,574.5 L800.8,572.5 L802.4,572.1 L804.1,570.9 L805.8,569.5 L807.5,572.1 L809.2,567.2 L810.9,566.5 L812.6,565.7 L814.3,564.4 L816.1,563.2 L817.8,562.6 L819.5,561.1 L821.2,561.7 L823.0,559.6 L824.7,558.7 L826.5,557.5 L828.2,556.6 L829.9,555.5 L831.7,555.0 L833.4,554.6 L835.2,552.9 L837.0,551.9 L838.7,550.4 L840.5,549.7 L842.2,548.8 L844.0,548.5 L845.8,545.7 L847.6,545.4 L849.3,545.4 L851.1,544.2 L852.9,542.7 L854.7,543.4 L856.4,540.9 L858.2,541.2 L860.0,539.6 L861.8,537.9 L863.6,538.1 L865.4,536.5 L867.2,536.0 L869.0,535.8 L870.8,534.9 L872.6,533.9 L874.4,532.8 L876.2,531.8 L878.0,531.3 L879.9,530.2 L881.7,530.2 L883.5,528.3 L885.3,527.2 L887.2,527.8 L889.0,525.4 L890.9,525.7 L892.7,524.7 L894.6,523.1 L896.4,522.3 L898.3,522.4 L900.1,521.4 L902.0,520.1 L903.8,519.6 L905.7,519.4 L907.5,518.6 L909.4,518.3 L911.3,517.0 L913.1,516.1 L915.0,513.8 L916.8,514.7 L918.7,515.1 L920.6,514.1 L922.4,512.2 L924.3,511.4 L926.2,511.4 L928.0,510.9 L929.9,509.5 L931.8,510.6 L933.6,507.5 L935.5,507.5 L937.3,506.9 L939.2,505.8 L941.1,505.4 L942.9,504.5 L944.8,504.0 L946.7,502.8 L948.5,501.8 L950.4,501.6 L952.3,500.7 L954.1,499.6 L956.0,498.5 L957.8,498.9 L959.7,497.9 L961.6,496.4 L963.4,496.9 L965.3,495.5 L967.2,495.4 L969.0,494.3 L970.9,493.0 L972.8,495.4 L974.6,491.6 L976.5,491.4 L978.4,490.0 L980.2,490.0 L982.1,489.1 L984.0,488.0 L985.9,488.2 L987.7,486.4 L989.6,486.5 L991.5,485.6 L993.4,485.3 L995.2,483.7 L997.1,483.9 L999.0,483.8 L1000.9,482.2 L1002.8,481.9 L1004.7,481.4 L1006.6,480.0 L1008.5,480.3 L1010.4,478.3 L1012.3,479.2 L1014.2,477.4 L1016.1,477.5 L1018.0,476.4 L1019.9,475.9 L1021.8,475.6 L1023.7,475.1 L1025.6,473.3 L1027.5,473.3 L1029.4,473.1 L1031.3,471.7 L1033.2,471.5 L1035.1,470.3 L1037.0,470.3 L1038.9,469.9 L1040.8,470.1 L1042.7,468.2 L1044.6,468.2 L1046.5,468.0 L1048.4,468.7 L1050.3,466.1 L1052.3,465.6 L1054.2,464.6 L1056.1,463.7 L1058.0,464.3 L1059.9,462.6 L1061.8,462.4 L1063.7,461.7 L1065.6,461.8 L1067.6,461.1 L1069.5,460.2 L1071.4,459.6 L1073.3,458.9 L1075.2,458.6 L1077.2,457.2 L1079.1,457.6 L1081.0,456.3 L1082.9,455.7 L1084.8,456.0 L1086.8,454.7 L1088.7,454.3 L1090.6,455.0 L1092.6,453.6 L1094.5,453.1 L1096.4,452.3 L1098.4,451.5 L1100.3,451.3 L1102.2,450.8 L1104.2,450.4 L1106.1,449.5 L1108.1,449.3 L1110.0,449.0 L1111.9,448.0 L1113.9,447.2 L1115.8,447.6 L1117.8,447.9 L1119.7,446.2 L1121.7,448.2 L1123.6,445.8 L1125.5,445.0 L1127.5,443.7 L1129.4,444.7 L1131.4,444.0 L1133.3,443.5 L1135.3,443.3 L1137.2,442.5 L1139.2,441.5 L1141.1,441.7 L1143.1,440.5 L1145.0,440.6 L1147.0,440.5 L1148.9,438.5 L1150.9,438.9 L1152.8,438.0 L1154.8,438.7 L1156.7,437.2 L1158.7,437.6 L1160.6,437.0 L1162.6,435.3 L1164.5,435.9 L1166.4,435.4 L1168.4,434.4 L1170.3,433.9 L1172.3,434.9 L1174.2,434.3 L1176.2,433.5 L1178.1,432.2 L1180.1,431.8 L1182.0,431.8 L1184.0,431.9 L1185.9,431.4 L1187.9,429.1 L1189.8,430.4 L1191.8,429.0 L1193.7,427.6 L1195.7,429.0 L1197.6,427.7 L1199.6,428.8 L1201.5,427.7 L1203.5,427.0 L1205.4,426.1 L1207.4,425.6 L1209.3,424.4 L1211.3,425.3 L1213.2,424.6 L1215.2,423.9 L1217.1,423.8 L1219.1,422.9 L1221.0,423.1 L1223.0,422.4 L1224.9,421.6 L1226.9,420.8 L1228.8,420.7 L1230.8,420.6 L1232.8,420.3 L1234.7,420.2 L1236.7,418.1 L1238.6,418.0 L1240.6,419.0 L1242.5,418.1 L1244.5,418.4 L1246.5,417.1 L1248.4,416.9 L1250.4,418.0 L1252.3,414.9 L1254.3,414.9 L1256.3,414.9 L1258.2,414.0 L1260.2,414.4 L1262.2,414.3 L1264.1,412.8 L1266.1,412.3 L1268.1,412.5 L1270.0,411.9 L1272.0,411.6 L1273.9,411.5 L1275.9,412.0 L1277.9,411.0 L1279.8,410.7 L1281.8,409.3 L1283.8,408.8 L1285.7,408.2 L1287.7,410.5 L1289.7,408.2 L1291.6,408.5 L1293.6,408.2 L1295.6,407.6 L1297.5,409.0 L1299.5,406.5 L1301.5,406.1 L1303.4,406.0 L1305.4,405.3 L1307.4,405.0 L1309.3,404.6 L1311.3,402.8 L1313.2,403.7 L1315.2,404.4 L1317.2,402.5 L1319.1,402.9 L1321.1,403.3 L1323.1,403.7 L1325.0,401.3 L1327.0,400.9 L1329.0,400.4 L1330.9,399.9 L1332.9,399.5 L1334.9,400.8 L1336.8,400.7 L1338.8,399.4 L1340.8,397.7 L1342.7,398.3 L1344.7,398.4 L1346.7,397.4 L1348.6,396.7 L1350.6,396.8 L1352.6,397.3 L1354.5,395.6 L1356.5,394.3 L1358.5,395.4 L1360.4,394.1 L1362.4,393.6 L1364.4,393.2 L1366.3,393.0 L1368.3,393.6 L1370.2,393.2 L1372.2,392.4 L1374.2,392.2 L1376.1,391.5 L1378.1,390.9 L1380.1,390.7 L1382.0,390.9 L1384.0,390.6 L1386.0,388.9 L1387.9,389.0 L1389.9,390.0 L1391.9,387.1 L1393.9,388.9 L1395.8,387.4 L1397.8,387.4 L1399.8,387.0 L1401.7,386.5 L1403.7,386.6 L1405.7,385.5 L1407.7,385.7 L1409.6,385.3 L1411.6,385.1 L1413.6,384.8 L1415.6,384.7 L1417.5,384.7 L1419.5,384.1 L1421.5,384.0 L1423.5,382.7 L1425.5,382.9 L1427.4,382.3 L1429.4,383.1 L1431.4,382.5 L1433.4,381.9 L1435.4,380.8 L1437.4,381.6 L1439.3,380.1 L1441.3,381.6 L1443.3,380.4 L1445.3,380.2 L1447.3,378.9 L1449.3,379.6 L1451.3,380.3 L1453.2,379.1 L1455.2,379.8 L1457.2,378.8 L1459.2,378.7 L1461.2,377.8 L1463.2,377.5 L1465.2,379.1 L1467.1,377.1 L1469.1,377.4 L1471.1,376.4 L1473.1,376.3 L1475.1,377.5 L1477.1,376.3 L1479.1,375.4 L1481.0,376.3 L1483.0,375.6 L1485.0,375.7 L1487.0,374.9 L1489.0,374.3 L1491.0,374.5 L1493.0,374.6 L1494.9,374.5 L1496.9,374.1 L1498.9,372.2 L1500.9,372.5 L1502.9,372.0 L1504.9,373.3 L1506.9,371.4 L1508.8,372.3 L1510.8,370.7 L1512.8,371.6 L1514.8,372.2 L1516.8,371.0 L1518.8,370.9 L1520.8,370.4 L1522.7,370.6 L1524.7,370.3 L1526.7,368.7 L1528.7,370.5 L1530.7,369.1 L1532.7,368.7 L1534.7,368.6 L1536.6,368.9 L1538.6,367.0 L1540.6,368.3 L1542.6,368.0 L1544.6,366.8 L1546.6,369.6 L1548.6,367.2 L1550.5,366.7 L1552.5,366.9 L1554.5,366.1 L1556.5,365.8 L1558.5,365.2 L1560.5,364.9 L1562.5,364.7 L1564.4,364.9 L1566.4,364.4 L1568.4,364.5 L1570.4,363.4 L1572.4,364.0 L1574.4,363.4 L1576.4,365.4 L1578.3,363.1 L1580.3,363.0 L1582.3,362.1 L1584.3,361.9 L1586.3,361.8 L1588.3,360.9 L1590.3,362.0 L1592.2,361.2 L1594.2,360.9 L1596.2,361.7 L1598.2,360.9 L1600.2,360.0 L1602.2,360.5 L1604.2,359.3 L1606.1,358.8 L1608.1,359.4 L1610.1,358.0 L1612.1,358.7 L1614.1,358.6 L1616.1,358.5 L1618.1,358.3 L1620.0,357.7 L1622.0,356.8 L1624.0,356.8 L1626.0,356.8 L1628.0,356.0 L1630.0,354.9 L1632.0,356.2 L1633.9,355.8 L1635.9,356.0 L1637.9,355.0 L1639.9,355.7 L1641.9,354.9 L1643.9,353.3 L1645.9,354.0 L1647.8,353.6 L1649.8,352.7 L1651.8,353.5 L1653.8,353.6 L1655.8,351.6 L1657.8,352.1 L1659.8,353.2 L1661.7,352.3 L1663.7,352.5 L1665.7,351.7 L1667.7,352.4 L1669.7,351.5 L1671.7,350.6 L1673.7,350.5 L1675.7,349.6 L1677.6,351.5 L1679.6,351.1 L1681.6,349.7 L1683.6,349.1 L1685.6,349.9 L1687.6,349.2 L1689.6,348.0 L1691.6,348.8 L1693.6,348.2 L1695.6,347.2 L1697.5,347.5 L1699.5,349.1 L1701.5,347.4 L1703.5,347.4 L1705.5,347.4 L1707.5,347.2 L1709.5,346.2 L1711.5,346.6 L1713.5,347.0 L1715.5,345.4 L1717.5,345.8 L1719.4,344.5 L1721.4,344.8 L1723.4,345.7 L1725.4,344.8 L1727.4,344.7 L1729.4,344.4 L1731.4,344.8 L1733.4,345.2 L1735.4,343.6 L1737.4,343.9 L1739.4,343.4 L1741.3,343.5 L1743.3,343.2 L1745.3,342.8 L1747.3,342.4 L1749.3,342.1 L1751.3,343.0 L1753.3,342.2 L1755.3,341.7 L1757.3,341.5 L1759.3,342.8 L1761.3,341.5 L1763.3,340.4 L1765.2,340.6 L1767.2,341.4 L1769.2,340.1 L1771.2,341.1 L1773.2,340.2 L1775.2,340.2 L1777.2,339.3 L1779.2,339.4 L1781.2,339.8 L1783.2,338.3 L1785.2,339.6 L1787.1,338.5 L1789.1,341.7 L1791.1,337.7 L1793.1,339.4 L1795.1,336.1 L1797.1,337.0 L1799.1,337.3 L1801.1,336.8 L1803.1,337.7 L1805.1,339.1 L1807.1,336.2 L1809.0,336.9 L1811.0,336.3 L1813.0,335.9 L1815.0,336.5 L1817.0,334.8 L1819.0,335.2 L1821.0,334.8 L1823.0,335.5 L1825.0,334.0 L1827.0,334.1 L1829.0,333.9 L1831.0,334.2 L1832.9,333.9 L1834.9,332.4 L1836.9,333.1 L1838.9,333.6 L1840.9,332.0 L1842.9,332.9 L1844.9,333.2 L1846.9,333.0 L1848.9,331.7 L1850.9,331.9 L1852.9,331.0 L1854.8,330.6 L1856.8,330.8 L1858.8,329.7 L1860.8,331.1 L1862.8,330.9 L1864.8,329.2 L1866.8,329.2 L1868.8,329.5 L1870.8,329.3 L1872.8,328.9 L1874.8,330.4 L1876.8,329.5 L1878.8,328.4 L1880.7,329.2 L1882.7,328.2 L1884.7,327.6 L1886.7,328.1 L1888.7,328.4 L1890.7,328.4 L1892.7,328.1 L1894.7,327.0 L1896.7,326.9 L1898.7,326.5 L1900.7,327.8 L1902.7,326.8 L1904.7,326.1 L1906.7,326.2 L1908.7,325.4 L1910.7,325.8 L1912.7,326.4 L1914.6,326.0 L1916.6,325.5 L1918.6,325.0 L1920.6,326.0 L1922.6,324.0 L1924.6,325.0 L1926.6,324.9 L1928.6,325.5 L1930.6,323.9 L1932.6,323.5 L1934.6,324.6 L1936.6,324.1 L1938.6,323.3 L1940.6,323.3 L1942.6,322.8 L1944.6,323.4 L1946.6,322.9 L1948.6,323.3 L1950.6,322.7 L1952.6,322.1 L1954.5,322.7 L1956.5,321.1 L1958.5,320.8 L1960.5,321.6 L1962.5,322.3 L1964.5,321.0 L1966.5,321.1 L1968.5,321.1 L1970.5,320.5 L1972.5,321.3 L1974.5,321.0 L1976.5,319.8 L1978.5,319.1 L1980.5,320.4 L1982.5,319.5 L1984.5,319.9 L1986.5,319.8 L1988.5,320.0 L1990.5,317.8 L1992.5,318.4 L1994.4,318.8 L1996.4,318.8 L1998.4,319.1 L2000.4,318.0 L2002.4,317.5 L2004.4,317.7 L2006.4,318.0 L2008.4,316.8 L2010.4,316.2 L2012.4,316.9 L2014.4,317.9 L2016.4,316.4 L2018.4,317.0 L2020.4,316.4 L2022.4,317.0 L2024.4,315.8 L2026.4,316.6 L2028.4,315.7 L2030.4,315.1 L2032.4,315.1 L2034.3,314.3 L2036.3,315.5 L2038.3,315.1 L2040.3,314.9 L2042.3,314.8 L2044.3,314.7 L2046.3,315.5 L2048.3,314.1 L2050.3,313.9 L2052.3,313.0 L2054.3,314.4 L2056.3,312.6 L2058.3,312.9 L2060.3,312.9 L2062.3,313.3 L2064.3,314.7 L2066.3,312.1 L2068.3,311.8 L2070.3,312.6 L2072.2,312.8 L2074.2,312.0 L2076.2,311.4 L2078.2,310.9 L2080.2,310.8 L2082.2,311.2 L2084.2,310.4 L2086.2,311.6 L2088.2,310.6 L2090.2,311.2 L2092.2,311.3 L2094.2,309.9 L2096.2,309.3 L2098.2,309.4 L2100.2,309.5 L2102.2,309.3 L2104.2,308.9 L2106.2,308.9 L2108.2,308.8 L2110.2,309.9 L2112.1,309.1 L2114.1,308.6 L2116.1,308.4 L2118.1,307.3 L2120.1,307.3 L2122.1,308.3 L2124.1,307.6 L2126.1,308.0 L2128.1,307.9 L2130.1,307.1 L2132.1,307.3 L2134.1,307.1 L2136.1,306.9 L2138.1,307.2 L2140.1,306.9 L2142.1,305.7 L2144.1,306.1 L2146.1,305.9 L2148.1,305.7 L2150.1,304.6 L2152.0,308.0 L2154.0,304.9 L2156.0,305.5 L2158.0,305.2 L2160.0,304.4 L2162.0,305.3 L2164.0,303.4 L2166.0,303.5 L2168.0,304.1 L2170.0,303.8 L2172.0,303.7 L2174.0,303.3"/>
</g>
</g>
<g stroke-width="5.4" stroke-linecap="round">
<line x1="1370.8" y1="965.1" x2="1541.0" y2="965.1" stroke="#515151"/>
<line x1="1370.8" y1="1059.2" x2="1541.0" y2="1059.2" stroke="#ff3b3b"/>
<line x1="1370.8" y1="1153.3" x2="1541.0" y2="1153.3" stroke="#0070e8"/>
<line x1="1370.8" y1="1247.4" x2="1541.0" y2="1247.4" stroke="#008000"/>
<line x1="1370.8" y1="1341.5" x2="1541.0" y2="1341.5" stroke="#9900ff"/>
</g>
<g class="lg">
<text transform="translate(1561.0 991.3) scale(1 1.045)">original PI</text>
<text transform="translate(1561.0 1085.4) scale(1 1.045)">0.5 wt.% ZnO/PI</text>
<text transform="translate(1561.0 1179.5) scale(1 1.045)">1 wt.% ZnO/PI</text>
<text transform="translate(1561.0 1273.6) scale(1 1.045)">2 wt.% ZnO/PI</text>
<text transform="translate(1561.0 1367.7) scale(1 1.045)">3 wt.% ZnO/PI</text>
</g>
</svg></body></html>
